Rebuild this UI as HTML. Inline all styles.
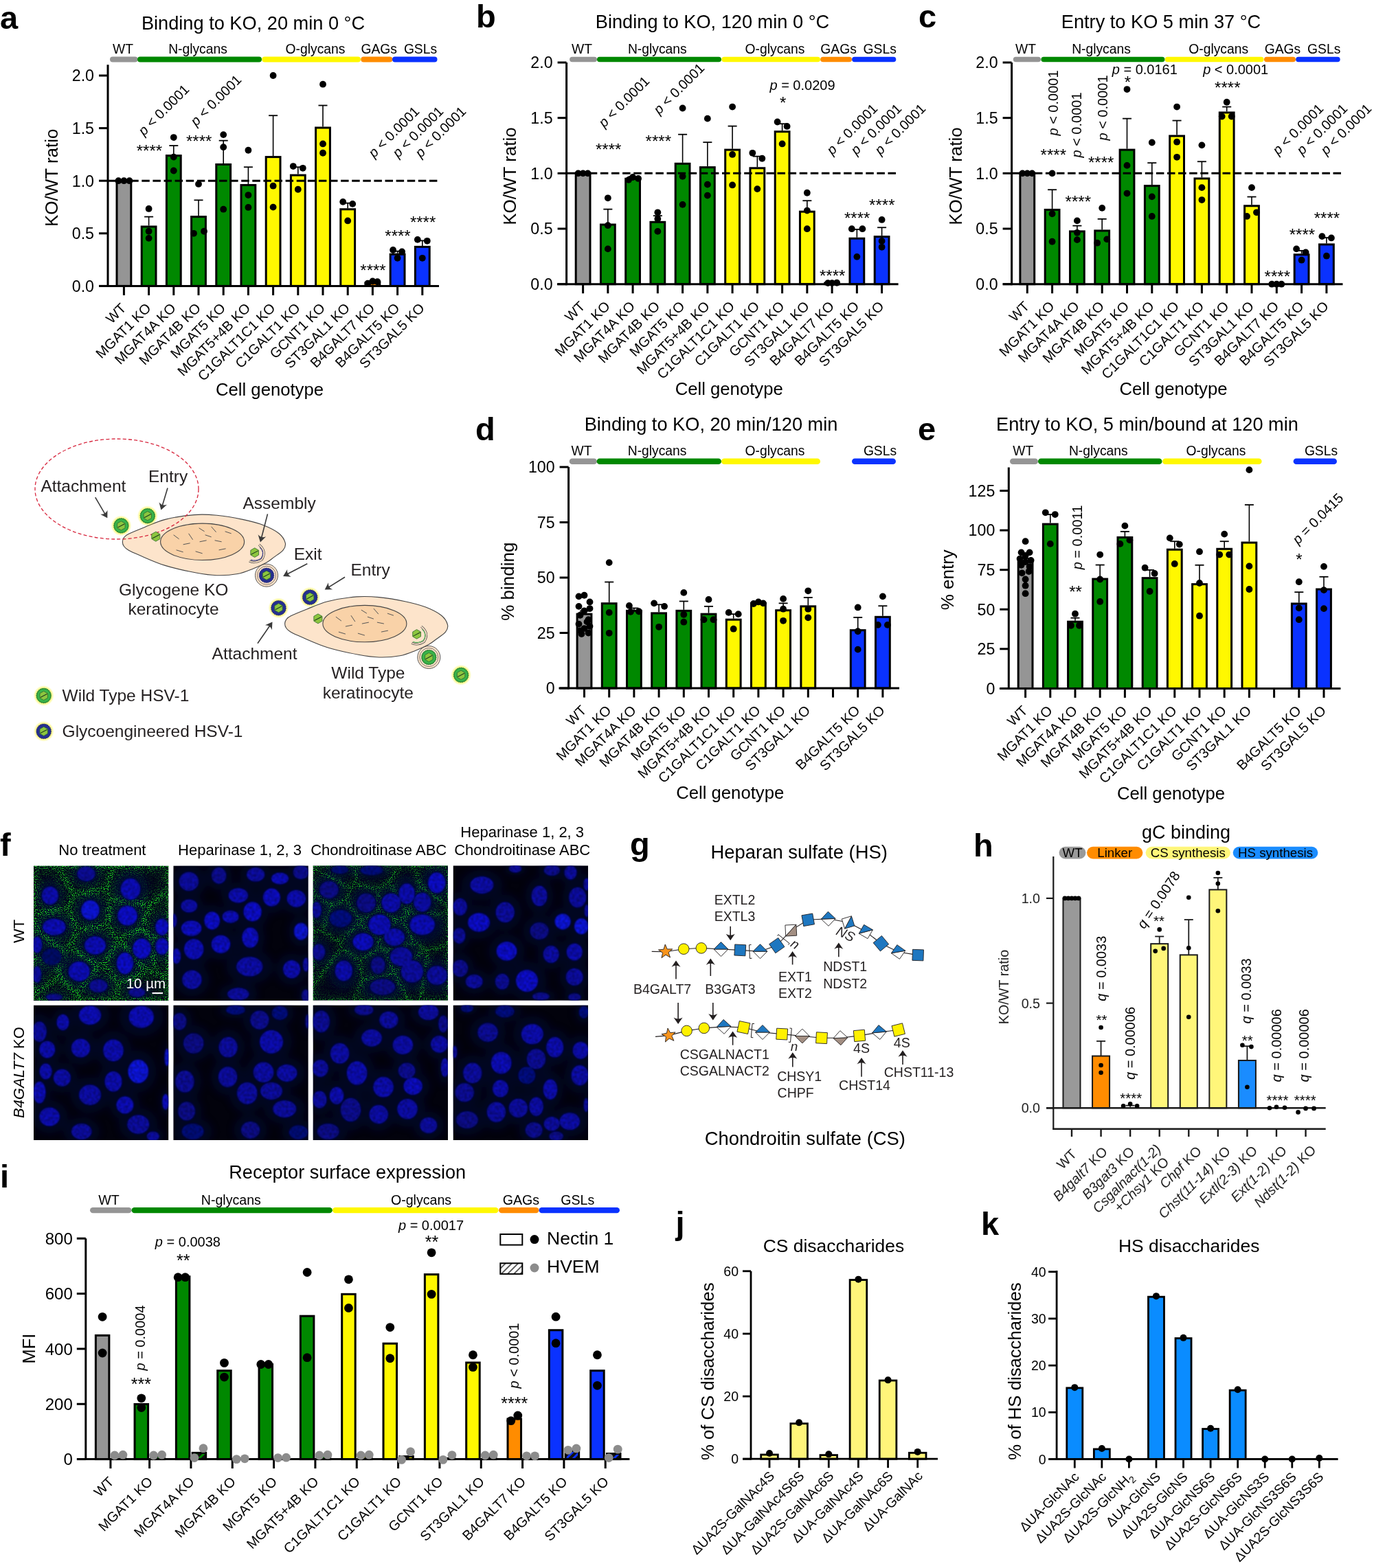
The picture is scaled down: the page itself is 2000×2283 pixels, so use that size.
<!DOCTYPE html>
<html><head><meta charset="utf-8"><title>Figure</title>
<style>html,body{margin:0;padding:0;background:#fff;} svg{display:block;} text{font-family:'Liberation Sans', Arial, sans-serif;}</style>
</head><body>
<svg width="2000" height="2283" viewBox="0 0 2000 2283" font-family="'Liberation Sans', Arial, sans-serif">
<rect width="2000" height="2283" fill="#fff"/>
<text x="0.00" y="42.00" font-size="47" font-weight="bold">a</text>
<text x="368.50" y="43.40" font-size="27.2" text-anchor="middle">Binding to KO, 20 min 0 °C</text>
<rect x="160.00" y="82.40" width="40.50" height="8.00" fill="#959595" rx="4.00"/>
<rect x="200.00" y="82.40" width="181.00" height="8.00" fill="#008800" rx="4.00"/>
<rect x="381.30" y="82.40" width="143.70" height="8.00" fill="#fff800" rx="4.00"/>
<rect x="525.30" y="82.40" width="46.00" height="8.00" fill="#ff8c00" rx="4.00"/>
<rect x="571.00" y="82.40" width="65.50" height="8.00" fill="#0a32ff" rx="4.00"/>
<text x="179.00" y="77.50" font-size="19.3" text-anchor="middle">WT</text>
<text x="288.00" y="77.50" font-size="19.3" text-anchor="middle">N-glycans</text>
<text x="459.00" y="77.50" font-size="19.3" text-anchor="middle">O-glycans</text>
<text x="551.70" y="77.50" font-size="19.3" text-anchor="middle">GAGs</text>
<text x="612.00" y="77.50" font-size="19.3" text-anchor="middle">GSLs</text>
<rect x="170.00" y="263.20" width="20.80" height="153.20" fill="#959595" stroke="#000" stroke-width="3" />
<rect x="206.20" y="330.00" width="20.80" height="86.40" fill="#008800" stroke="#000" stroke-width="3" />
<rect x="242.40" y="226.59" width="20.80" height="189.81" fill="#008800" stroke="#000" stroke-width="3" />
<rect x="278.60" y="315.59" width="20.80" height="100.81" fill="#008800" stroke="#000" stroke-width="3" />
<rect x="314.80" y="239.45" width="20.80" height="176.95" fill="#008800" stroke="#000" stroke-width="3" />
<rect x="351.00" y="269.48" width="20.80" height="146.92" fill="#008800" stroke="#000" stroke-width="3" />
<rect x="387.20" y="228.58" width="20.80" height="187.82" fill="#fff800" stroke="#000" stroke-width="3" />
<rect x="423.40" y="255.08" width="20.80" height="161.32" fill="#fff800" stroke="#000" stroke-width="3" />
<rect x="459.60" y="185.99" width="20.80" height="230.41" fill="#fff800" stroke="#000" stroke-width="3" />
<rect x="495.80" y="304.72" width="20.80" height="111.68" fill="#fff800" stroke="#000" stroke-width="3" />
<rect x="532.00" y="411.80" width="20.80" height="4.60" fill="#ff8c00" stroke="#000" stroke-width="3" />
<rect x="568.20" y="370.29" width="20.80" height="46.11" fill="#0a32ff" stroke="#000" stroke-width="3" />
<rect x="604.40" y="359.41" width="20.80" height="56.99" fill="#0a32ff" stroke="#000" stroke-width="3" />
<line x1="157.00" y1="263.20" x2="639.00" y2="263.20" stroke="#000" stroke-width="3" stroke-dasharray="11.5 4.6" stroke-dashoffset="-1"/>
<line x1="216.60" y1="328.50" x2="216.60" y2="315.59" stroke="#000" stroke-width="1.6" />
<line x1="210.10" y1="315.59" x2="223.10" y2="315.59" stroke="#000" stroke-width="1.8" />
<line x1="252.80" y1="225.09" x2="252.80" y2="212.03" stroke="#000" stroke-width="1.6" />
<line x1="246.30" y1="212.03" x2="259.30" y2="212.03" stroke="#000" stroke-width="1.8" />
<line x1="289.00" y1="314.09" x2="289.00" y2="291.39" stroke="#000" stroke-width="1.6" />
<line x1="282.50" y1="291.39" x2="295.50" y2="291.39" stroke="#000" stroke-width="1.8" />
<line x1="325.20" y1="237.95" x2="325.20" y2="204.68" stroke="#000" stroke-width="1.6" />
<line x1="318.70" y1="204.68" x2="331.70" y2="204.68" stroke="#000" stroke-width="1.8" />
<line x1="361.40" y1="267.98" x2="361.40" y2="243.28" stroke="#000" stroke-width="1.6" />
<line x1="354.90" y1="243.28" x2="367.90" y2="243.28" stroke="#000" stroke-width="1.8" />
<line x1="397.60" y1="227.08" x2="397.60" y2="168.22" stroke="#000" stroke-width="1.6" />
<line x1="391.10" y1="168.22" x2="404.10" y2="168.22" stroke="#000" stroke-width="1.8" />
<line x1="433.80" y1="253.58" x2="433.80" y2="243.28" stroke="#000" stroke-width="1.6" />
<line x1="427.30" y1="243.28" x2="440.30" y2="243.28" stroke="#000" stroke-width="1.8" />
<line x1="470.00" y1="184.49" x2="470.00" y2="153.51" stroke="#000" stroke-width="1.6" />
<line x1="463.50" y1="153.51" x2="476.50" y2="153.51" stroke="#000" stroke-width="1.8" />
<line x1="506.20" y1="303.22" x2="506.20" y2="295.68" stroke="#000" stroke-width="1.6" />
<line x1="499.70" y1="295.68" x2="512.70" y2="295.68" stroke="#000" stroke-width="1.8" />
<line x1="578.60" y1="368.79" x2="578.60" y2="365.69" stroke="#000" stroke-width="1.6" />
<line x1="572.10" y1="365.69" x2="585.10" y2="365.69" stroke="#000" stroke-width="1.8" />
<line x1="614.80" y1="357.91" x2="614.80" y2="350.37" stroke="#000" stroke-width="1.6" />
<line x1="608.30" y1="350.37" x2="621.30" y2="350.37" stroke="#000" stroke-width="1.8" />
<line x1="157.00" y1="94.30" x2="157.00" y2="417.90" stroke="#000" stroke-width="3" />
<line x1="144.00" y1="416.40" x2="639.00" y2="416.40" stroke="#000" stroke-width="3" />
<line x1="144.00" y1="416.40" x2="157.00" y2="416.40" stroke="#000" stroke-width="3" />
<text x="137.00" y="424.70" font-size="23.2" text-anchor="end">0.0</text>
<line x1="144.00" y1="339.80" x2="157.00" y2="339.80" stroke="#000" stroke-width="3" />
<text x="137.00" y="348.10" font-size="23.2" text-anchor="end">0.5</text>
<line x1="144.00" y1="263.20" x2="157.00" y2="263.20" stroke="#000" stroke-width="3" />
<text x="137.00" y="271.50" font-size="23.2" text-anchor="end">1.0</text>
<line x1="144.00" y1="186.60" x2="157.00" y2="186.60" stroke="#000" stroke-width="3" />
<text x="137.00" y="194.90" font-size="23.2" text-anchor="end">1.5</text>
<line x1="144.00" y1="110.00" x2="157.00" y2="110.00" stroke="#000" stroke-width="3" />
<text x="137.00" y="118.30" font-size="23.2" text-anchor="end">2.0</text>
<line x1="180.40" y1="416.40" x2="180.40" y2="429.90" stroke="#000" stroke-width="3" />
<line x1="216.60" y1="416.40" x2="216.60" y2="429.90" stroke="#000" stroke-width="3" />
<line x1="252.80" y1="416.40" x2="252.80" y2="429.90" stroke="#000" stroke-width="3" />
<line x1="289.00" y1="416.40" x2="289.00" y2="429.90" stroke="#000" stroke-width="3" />
<line x1="325.20" y1="416.40" x2="325.20" y2="429.90" stroke="#000" stroke-width="3" />
<line x1="361.40" y1="416.40" x2="361.40" y2="429.90" stroke="#000" stroke-width="3" />
<line x1="397.60" y1="416.40" x2="397.60" y2="429.90" stroke="#000" stroke-width="3" />
<line x1="433.80" y1="416.40" x2="433.80" y2="429.90" stroke="#000" stroke-width="3" />
<line x1="470.00" y1="416.40" x2="470.00" y2="429.90" stroke="#000" stroke-width="3" />
<line x1="506.20" y1="416.40" x2="506.20" y2="429.90" stroke="#000" stroke-width="3" />
<line x1="542.40" y1="416.40" x2="542.40" y2="429.90" stroke="#000" stroke-width="3" />
<line x1="578.60" y1="416.40" x2="578.60" y2="429.90" stroke="#000" stroke-width="3" />
<line x1="614.80" y1="416.40" x2="614.80" y2="429.90" stroke="#000" stroke-width="3" />
<circle cx="172.40" cy="263.20" r="4.90" fill="#000" />
<circle cx="180.40" cy="263.20" r="4.90" fill="#000" />
<circle cx="188.40" cy="263.20" r="4.90" fill="#000" />
<circle cx="216.60" cy="303.95" r="4.90" fill="#000" />
<circle cx="216.60" cy="336.74" r="4.90" fill="#000" />
<circle cx="216.60" cy="346.85" r="4.90" fill="#000" />
<circle cx="252.80" cy="200.08" r="4.90" fill="#000" />
<circle cx="252.80" cy="228.58" r="4.90" fill="#000" />
<circle cx="252.80" cy="248.49" r="4.90" fill="#000" />
<circle cx="289.00" cy="267.95" r="4.90" fill="#000" />
<circle cx="282.00" cy="339.80" r="4.90" fill="#000" />
<circle cx="297.00" cy="336.74" r="4.90" fill="#000" />
<circle cx="325.20" cy="196.10" r="4.90" fill="#000" />
<circle cx="325.20" cy="214.18" r="4.90" fill="#000" />
<circle cx="325.20" cy="304.72" r="4.90" fill="#000" />
<circle cx="361.40" cy="218.77" r="4.90" fill="#000" />
<circle cx="361.40" cy="284.04" r="4.90" fill="#000" />
<circle cx="361.40" cy="301.96" r="4.90" fill="#000" />
<circle cx="397.60" cy="110.00" r="4.90" fill="#000" />
<circle cx="397.60" cy="270.71" r="4.90" fill="#000" />
<circle cx="397.60" cy="301.65" r="4.90" fill="#000" />
<circle cx="426.80" cy="242.06" r="4.90" fill="#000" />
<circle cx="440.80" cy="244.82" r="4.90" fill="#000" />
<circle cx="433.80" cy="275.76" r="4.90" fill="#000" />
<circle cx="470.00" cy="122.72" r="4.90" fill="#000" />
<circle cx="470.00" cy="209.43" r="4.90" fill="#000" />
<circle cx="470.00" cy="222.76" r="4.90" fill="#000" />
<circle cx="499.20" cy="293.84" r="4.90" fill="#000" />
<circle cx="513.20" cy="296.90" r="4.90" fill="#000" />
<circle cx="506.20" cy="321.42" r="4.90" fill="#000" />
<circle cx="535.40" cy="412.57" r="4.90" fill="#000" />
<circle cx="542.40" cy="409.51" r="4.90" fill="#000" />
<circle cx="549.40" cy="410.27" r="4.90" fill="#000" />
<circle cx="572.10" cy="364.01" r="4.90" fill="#000" />
<circle cx="585.10" cy="366.46" r="4.90" fill="#000" />
<circle cx="578.60" cy="375.80" r="4.90" fill="#000" />
<circle cx="607.80" cy="348.84" r="4.90" fill="#000" />
<circle cx="621.80" cy="350.83" r="4.90" fill="#000" />
<circle cx="614.80" cy="375.80" r="4.90" fill="#000" />
<text x="184.70" y="449.90" font-size="20.3" text-anchor="end" transform="rotate(-45 184.70 449.90)">WT</text>
<text x="220.90" y="449.90" font-size="20.3" text-anchor="end" transform="rotate(-45 220.90 449.90)">MGAT1 KO</text>
<text x="257.10" y="449.90" font-size="20.3" text-anchor="end" transform="rotate(-45 257.10 449.90)">MGAT4A KO</text>
<text x="293.30" y="449.90" font-size="20.3" text-anchor="end" transform="rotate(-45 293.30 449.90)">MGAT4B KO</text>
<text x="329.50" y="449.90" font-size="20.3" text-anchor="end" transform="rotate(-45 329.50 449.90)">MGAT5 KO</text>
<text x="365.70" y="449.90" font-size="20.3" text-anchor="end" transform="rotate(-45 365.70 449.90)">MGAT5+4B KO</text>
<text x="401.90" y="449.90" font-size="20.3" text-anchor="end" transform="rotate(-45 401.90 449.90)">C1GALT1C1 KO</text>
<text x="438.10" y="449.90" font-size="20.3" text-anchor="end" transform="rotate(-45 438.10 449.90)">C1GALT1 KO</text>
<text x="474.30" y="449.90" font-size="20.3" text-anchor="end" transform="rotate(-45 474.30 449.90)">GCNT1 KO</text>
<text x="510.50" y="449.90" font-size="20.3" text-anchor="end" transform="rotate(-45 510.50 449.90)">ST3GAL1 KO</text>
<text x="546.70" y="449.90" font-size="20.3" text-anchor="end" transform="rotate(-45 546.70 449.90)">B4GALT7 KO</text>
<text x="582.90" y="449.90" font-size="20.3" text-anchor="end" transform="rotate(-45 582.90 449.90)">B4GALT5 KO</text>
<text x="619.10" y="449.90" font-size="20.3" text-anchor="end" transform="rotate(-45 619.10 449.90)">ST3GAL5 KO</text>
<text x="84.00" y="258.80" font-size="26" text-anchor="middle" transform="rotate(-90 84.00 258.80)">KO/WT ratio</text>
<text x="392.50" y="575.50" font-size="25.7" text-anchor="middle">Cell genotype</text>
<text x="693.00" y="40.00" font-size="47" font-weight="bold">b</text>
<text x="1037.00" y="40.60" font-size="27.2" text-anchor="middle">Binding to KO, 120 min 0 °C</text>
<rect x="829.10" y="82.70" width="39.90" height="7.60" fill="#959595" rx="3.80"/>
<rect x="869.00" y="82.70" width="181.00" height="7.60" fill="#008800" rx="3.80"/>
<rect x="1050.40" y="82.70" width="143.60" height="7.60" fill="#fff800" rx="3.80"/>
<rect x="1194.20" y="82.70" width="45.80" height="7.60" fill="#ff8c00" rx="3.80"/>
<rect x="1240.10" y="82.70" width="64.20" height="7.60" fill="#0a32ff" rx="3.80"/>
<text x="847.00" y="77.80" font-size="19.3" text-anchor="middle">WT</text>
<text x="956.80" y="77.80" font-size="19.3" text-anchor="middle">N-glycans</text>
<text x="1128.00" y="77.80" font-size="19.3" text-anchor="middle">O-glycans</text>
<text x="1220.60" y="77.80" font-size="19.3" text-anchor="middle">GAGs</text>
<text x="1280.70" y="77.80" font-size="19.3" text-anchor="middle">GSLs</text>
<rect x="838.20" y="252.35" width="20.80" height="161.35" fill="#959595" stroke="#000" stroke-width="3" />
<rect x="874.45" y="327.06" width="20.80" height="86.64" fill="#008800" stroke="#000" stroke-width="3" />
<rect x="910.70" y="260.26" width="20.80" height="153.44" fill="#008800" stroke="#000" stroke-width="3" />
<rect x="946.95" y="323.34" width="20.80" height="90.36" fill="#008800" stroke="#000" stroke-width="3" />
<rect x="983.20" y="238.31" width="20.80" height="175.39" fill="#008800" stroke="#000" stroke-width="3" />
<rect x="1019.45" y="243.64" width="20.80" height="170.06" fill="#008800" stroke="#000" stroke-width="3" />
<rect x="1055.70" y="218.14" width="20.80" height="195.56" fill="#fff800" stroke="#000" stroke-width="3" />
<rect x="1091.95" y="244.77" width="20.80" height="168.93" fill="#fff800" stroke="#000" stroke-width="3" />
<rect x="1128.20" y="191.68" width="20.80" height="222.02" fill="#fff800" stroke="#000" stroke-width="3" />
<rect x="1164.45" y="308.18" width="20.80" height="105.52" fill="#fff800" stroke="#000" stroke-width="3" />
<rect x="1200.70" y="412.09" width="20.80" height="1.61" fill="#ff8c00" stroke="#000" stroke-width="3" />
<rect x="1236.95" y="347.22" width="20.80" height="66.48" fill="#0a32ff" stroke="#000" stroke-width="3" />
<rect x="1273.20" y="344.64" width="20.80" height="69.06" fill="#0a32ff" stroke="#000" stroke-width="3" />
<line x1="824.60" y1="252.35" x2="1307.60" y2="252.35" stroke="#000" stroke-width="3" stroke-dasharray="11.5 4.6" stroke-dashoffset="-1"/>
<line x1="884.85" y1="325.56" x2="884.85" y2="304.63" stroke="#000" stroke-width="1.6" />
<line x1="878.35" y1="304.63" x2="891.35" y2="304.63" stroke="#000" stroke-width="1.8" />
<line x1="921.10" y1="258.76" x2="921.10" y2="257.19" stroke="#000" stroke-width="1.6" />
<line x1="914.60" y1="257.19" x2="927.60" y2="257.19" stroke="#000" stroke-width="1.8" />
<line x1="957.35" y1="321.84" x2="957.35" y2="314.15" stroke="#000" stroke-width="1.6" />
<line x1="950.85" y1="314.15" x2="963.85" y2="314.15" stroke="#000" stroke-width="1.8" />
<line x1="993.60" y1="236.81" x2="993.60" y2="195.72" stroke="#000" stroke-width="1.6" />
<line x1="987.10" y1="195.72" x2="1000.10" y2="195.72" stroke="#000" stroke-width="1.8" />
<line x1="1029.85" y1="242.14" x2="1029.85" y2="207.17" stroke="#000" stroke-width="1.6" />
<line x1="1023.35" y1="207.17" x2="1036.35" y2="207.17" stroke="#000" stroke-width="1.8" />
<line x1="1066.10" y1="216.64" x2="1066.10" y2="183.61" stroke="#000" stroke-width="1.6" />
<line x1="1059.60" y1="183.61" x2="1072.60" y2="183.61" stroke="#000" stroke-width="1.8" />
<line x1="1102.35" y1="243.27" x2="1102.35" y2="227.66" stroke="#000" stroke-width="1.6" />
<line x1="1095.85" y1="227.66" x2="1108.85" y2="227.66" stroke="#000" stroke-width="1.8" />
<line x1="1138.60" y1="190.18" x2="1138.60" y2="180.23" stroke="#000" stroke-width="1.6" />
<line x1="1132.10" y1="180.23" x2="1145.10" y2="180.23" stroke="#000" stroke-width="1.8" />
<line x1="1174.85" y1="306.68" x2="1174.85" y2="292.20" stroke="#000" stroke-width="1.6" />
<line x1="1168.35" y1="292.20" x2="1181.35" y2="292.20" stroke="#000" stroke-width="1.8" />
<line x1="1247.35" y1="345.72" x2="1247.35" y2="333.99" stroke="#000" stroke-width="1.6" />
<line x1="1240.85" y1="333.99" x2="1253.85" y2="333.99" stroke="#000" stroke-width="1.8" />
<line x1="1283.60" y1="343.14" x2="1283.60" y2="331.25" stroke="#000" stroke-width="1.6" />
<line x1="1277.10" y1="331.25" x2="1290.10" y2="331.25" stroke="#000" stroke-width="1.8" />
<line x1="824.60" y1="91.00" x2="824.60" y2="415.20" stroke="#000" stroke-width="3" />
<line x1="811.00" y1="413.70" x2="1307.60" y2="413.70" stroke="#000" stroke-width="3" />
<line x1="811.60" y1="413.70" x2="824.60" y2="413.70" stroke="#000" stroke-width="3" />
<text x="804.60" y="422.00" font-size="23.2" text-anchor="end">0.0</text>
<line x1="811.60" y1="333.02" x2="824.60" y2="333.02" stroke="#000" stroke-width="3" />
<text x="804.60" y="341.32" font-size="23.2" text-anchor="end">0.5</text>
<line x1="811.60" y1="252.35" x2="824.60" y2="252.35" stroke="#000" stroke-width="3" />
<text x="804.60" y="260.65" font-size="23.2" text-anchor="end">1.0</text>
<line x1="811.60" y1="171.68" x2="824.60" y2="171.68" stroke="#000" stroke-width="3" />
<text x="804.60" y="179.98" font-size="23.2" text-anchor="end">1.5</text>
<line x1="811.60" y1="91.00" x2="824.60" y2="91.00" stroke="#000" stroke-width="3" />
<text x="804.60" y="99.30" font-size="23.2" text-anchor="end">2.0</text>
<line x1="848.60" y1="413.70" x2="848.60" y2="427.20" stroke="#000" stroke-width="3" />
<line x1="884.85" y1="413.70" x2="884.85" y2="427.20" stroke="#000" stroke-width="3" />
<line x1="921.10" y1="413.70" x2="921.10" y2="427.20" stroke="#000" stroke-width="3" />
<line x1="957.35" y1="413.70" x2="957.35" y2="427.20" stroke="#000" stroke-width="3" />
<line x1="993.60" y1="413.70" x2="993.60" y2="427.20" stroke="#000" stroke-width="3" />
<line x1="1029.85" y1="413.70" x2="1029.85" y2="427.20" stroke="#000" stroke-width="3" />
<line x1="1066.10" y1="413.70" x2="1066.10" y2="427.20" stroke="#000" stroke-width="3" />
<line x1="1102.35" y1="413.70" x2="1102.35" y2="427.20" stroke="#000" stroke-width="3" />
<line x1="1138.60" y1="413.70" x2="1138.60" y2="427.20" stroke="#000" stroke-width="3" />
<line x1="1174.85" y1="413.70" x2="1174.85" y2="427.20" stroke="#000" stroke-width="3" />
<line x1="1211.10" y1="413.70" x2="1211.10" y2="427.20" stroke="#000" stroke-width="3" />
<line x1="1247.35" y1="413.70" x2="1247.35" y2="427.20" stroke="#000" stroke-width="3" />
<line x1="1283.60" y1="413.70" x2="1283.60" y2="427.20" stroke="#000" stroke-width="3" />
<circle cx="841.60" cy="252.35" r="4.90" fill="#000" />
<circle cx="848.60" cy="252.35" r="4.90" fill="#000" />
<circle cx="855.60" cy="252.35" r="4.90" fill="#000" />
<circle cx="884.85" cy="288.33" r="4.90" fill="#000" />
<circle cx="884.85" cy="328.18" r="4.90" fill="#000" />
<circle cx="884.85" cy="362.39" r="4.90" fill="#000" />
<circle cx="921.10" cy="258.00" r="4.90" fill="#000" />
<circle cx="915.10" cy="261.87" r="4.90" fill="#000" />
<circle cx="929.10" cy="259.93" r="4.90" fill="#000" />
<circle cx="957.35" cy="309.31" r="4.90" fill="#000" />
<circle cx="957.35" cy="318.83" r="4.90" fill="#000" />
<circle cx="957.35" cy="336.90" r="4.90" fill="#000" />
<circle cx="993.60" cy="157.48" r="4.90" fill="#000" />
<circle cx="993.60" cy="256.87" r="4.90" fill="#000" />
<circle cx="993.60" cy="297.85" r="4.90" fill="#000" />
<circle cx="1029.85" cy="172.64" r="4.90" fill="#000" />
<circle cx="1029.85" cy="268.65" r="4.90" fill="#000" />
<circle cx="1029.85" cy="284.62" r="4.90" fill="#000" />
<circle cx="1066.10" cy="155.54" r="4.90" fill="#000" />
<circle cx="1066.10" cy="224.92" r="4.90" fill="#000" />
<circle cx="1066.10" cy="269.45" r="4.90" fill="#000" />
<circle cx="1095.35" cy="222.82" r="4.90" fill="#000" />
<circle cx="1109.35" cy="230.73" r="4.90" fill="#000" />
<circle cx="1102.35" cy="275.10" r="4.90" fill="#000" />
<circle cx="1131.60" cy="177.48" r="4.90" fill="#000" />
<circle cx="1145.60" cy="183.94" r="4.90" fill="#000" />
<circle cx="1138.60" cy="209.43" r="4.90" fill="#000" />
<circle cx="1174.85" cy="280.75" r="4.90" fill="#000" />
<circle cx="1174.85" cy="306.56" r="4.90" fill="#000" />
<circle cx="1174.85" cy="333.19" r="4.90" fill="#000" />
<circle cx="1205.10" cy="412.09" r="4.90" fill="#000" />
<circle cx="1211.10" cy="412.09" r="4.90" fill="#000" />
<circle cx="1218.10" cy="411.76" r="4.90" fill="#000" />
<circle cx="1239.85" cy="333.19" r="4.90" fill="#000" />
<circle cx="1255.35" cy="333.19" r="4.90" fill="#000" />
<circle cx="1247.35" cy="373.85" r="4.90" fill="#000" />
<circle cx="1283.60" cy="319.96" r="4.90" fill="#000" />
<circle cx="1283.60" cy="350.93" r="4.90" fill="#000" />
<circle cx="1283.60" cy="359.81" r="4.90" fill="#000" />
<text x="852.90" y="447.20" font-size="20.3" text-anchor="end" transform="rotate(-45 852.90 447.20)">WT</text>
<text x="889.15" y="447.20" font-size="20.3" text-anchor="end" transform="rotate(-45 889.15 447.20)">MGAT1 KO</text>
<text x="925.40" y="447.20" font-size="20.3" text-anchor="end" transform="rotate(-45 925.40 447.20)">MGAT4A KO</text>
<text x="961.65" y="447.20" font-size="20.3" text-anchor="end" transform="rotate(-45 961.65 447.20)">MGAT4B KO</text>
<text x="997.90" y="447.20" font-size="20.3" text-anchor="end" transform="rotate(-45 997.90 447.20)">MGAT5 KO</text>
<text x="1034.15" y="447.20" font-size="20.3" text-anchor="end" transform="rotate(-45 1034.15 447.20)">MGAT5+4B KO</text>
<text x="1070.40" y="447.20" font-size="20.3" text-anchor="end" transform="rotate(-45 1070.40 447.20)">C1GALT1C1 KO</text>
<text x="1106.65" y="447.20" font-size="20.3" text-anchor="end" transform="rotate(-45 1106.65 447.20)">C1GALT1 KO</text>
<text x="1142.90" y="447.20" font-size="20.3" text-anchor="end" transform="rotate(-45 1142.90 447.20)">GCNT1 KO</text>
<text x="1179.15" y="447.20" font-size="20.3" text-anchor="end" transform="rotate(-45 1179.15 447.20)">ST3GAL1 KO</text>
<text x="1215.40" y="447.20" font-size="20.3" text-anchor="end" transform="rotate(-45 1215.40 447.20)">B4GALT7 KO</text>
<text x="1251.65" y="447.20" font-size="20.3" text-anchor="end" transform="rotate(-45 1251.65 447.20)">B4GALT5 KO</text>
<text x="1287.90" y="447.20" font-size="20.3" text-anchor="end" transform="rotate(-45 1287.90 447.20)">ST3GAL5 KO</text>
<text x="750.60" y="256.50" font-size="26" text-anchor="middle" transform="rotate(-90 750.60 256.50)">KO/WT ratio</text>
<text x="1061.20" y="575.00" font-size="25.7" text-anchor="middle">Cell genotype</text>
<text x="1337.00" y="40.00" font-size="47" font-weight="bold">c</text>
<text x="1690.00" y="40.60" font-size="27.2" text-anchor="middle">Entry to KO 5 min 37 °C</text>
<rect x="1474.80" y="82.70" width="40.20" height="7.60" fill="#959595" rx="3.80"/>
<rect x="1515.40" y="82.70" width="180.10" height="7.60" fill="#008800" rx="3.80"/>
<rect x="1695.70" y="82.70" width="143.90" height="7.60" fill="#fff800" rx="3.80"/>
<rect x="1840.00" y="82.70" width="46.00" height="7.60" fill="#ff8c00" rx="3.80"/>
<rect x="1886.20" y="82.70" width="64.50" height="7.60" fill="#0a32ff" rx="3.80"/>
<text x="1493.00" y="77.80" font-size="19.3" text-anchor="middle">WT</text>
<text x="1603.00" y="77.80" font-size="19.3" text-anchor="middle">N-glycans</text>
<text x="1773.70" y="77.80" font-size="19.3" text-anchor="middle">O-glycans</text>
<text x="1867.00" y="77.80" font-size="19.3" text-anchor="middle">GAGs</text>
<text x="1927.20" y="77.80" font-size="19.3" text-anchor="middle">GSLs</text>
<rect x="1484.90" y="252.35" width="20.80" height="161.35" fill="#959595" stroke="#000" stroke-width="3" />
<rect x="1521.20" y="305.43" width="20.80" height="108.27" fill="#008800" stroke="#000" stroke-width="3" />
<rect x="1557.50" y="336.90" width="20.80" height="76.80" fill="#008800" stroke="#000" stroke-width="3" />
<rect x="1593.80" y="335.93" width="20.80" height="77.77" fill="#008800" stroke="#000" stroke-width="3" />
<rect x="1630.10" y="218.14" width="20.80" height="195.56" fill="#008800" stroke="#000" stroke-width="3" />
<rect x="1666.40" y="270.58" width="20.80" height="143.12" fill="#008800" stroke="#000" stroke-width="3" />
<rect x="1702.70" y="197.98" width="20.80" height="215.72" fill="#fff800" stroke="#000" stroke-width="3" />
<rect x="1739.00" y="259.93" width="20.80" height="153.77" fill="#fff800" stroke="#000" stroke-width="3" />
<rect x="1775.30" y="163.93" width="20.80" height="249.77" fill="#fff800" stroke="#000" stroke-width="3" />
<rect x="1811.60" y="299.79" width="20.80" height="113.91" fill="#fff800" stroke="#000" stroke-width="3" />
<rect x="1884.20" y="370.78" width="20.80" height="42.92" fill="#0a32ff" stroke="#000" stroke-width="3" />
<rect x="1920.50" y="355.94" width="20.80" height="57.76" fill="#0a32ff" stroke="#000" stroke-width="3" />
<line x1="1472.60" y1="252.35" x2="1954.50" y2="252.35" stroke="#000" stroke-width="3" stroke-dasharray="11.5 4.6" stroke-dashoffset="-1"/>
<line x1="1531.60" y1="303.93" x2="1531.60" y2="276.23" stroke="#000" stroke-width="1.6" />
<line x1="1525.10" y1="276.23" x2="1538.10" y2="276.23" stroke="#000" stroke-width="1.8" />
<line x1="1567.90" y1="335.40" x2="1567.90" y2="328.67" stroke="#000" stroke-width="1.6" />
<line x1="1561.40" y1="328.67" x2="1574.40" y2="328.67" stroke="#000" stroke-width="1.8" />
<line x1="1604.20" y1="334.43" x2="1604.20" y2="318.83" stroke="#000" stroke-width="1.6" />
<line x1="1597.70" y1="318.83" x2="1610.70" y2="318.83" stroke="#000" stroke-width="1.8" />
<line x1="1640.50" y1="216.64" x2="1640.50" y2="172.64" stroke="#000" stroke-width="1.6" />
<line x1="1634.00" y1="172.64" x2="1647.00" y2="172.64" stroke="#000" stroke-width="1.8" />
<line x1="1676.80" y1="269.08" x2="1676.80" y2="237.18" stroke="#000" stroke-width="1.6" />
<line x1="1670.30" y1="237.18" x2="1683.30" y2="237.18" stroke="#000" stroke-width="1.8" />
<line x1="1713.10" y1="196.48" x2="1713.10" y2="175.55" stroke="#000" stroke-width="1.6" />
<line x1="1706.60" y1="175.55" x2="1719.60" y2="175.55" stroke="#000" stroke-width="1.8" />
<line x1="1749.40" y1="258.43" x2="1749.40" y2="235.25" stroke="#000" stroke-width="1.6" />
<line x1="1742.90" y1="235.25" x2="1755.90" y2="235.25" stroke="#000" stroke-width="1.8" />
<line x1="1785.70" y1="162.43" x2="1785.70" y2="155.54" stroke="#000" stroke-width="1.6" />
<line x1="1779.20" y1="155.54" x2="1792.20" y2="155.54" stroke="#000" stroke-width="1.8" />
<line x1="1822.00" y1="298.29" x2="1822.00" y2="286.56" stroke="#000" stroke-width="1.6" />
<line x1="1815.50" y1="286.56" x2="1828.50" y2="286.56" stroke="#000" stroke-width="1.8" />
<line x1="1894.60" y1="369.28" x2="1894.60" y2="364.97" stroke="#000" stroke-width="1.6" />
<line x1="1888.10" y1="364.97" x2="1901.10" y2="364.97" stroke="#000" stroke-width="1.8" />
<line x1="1930.90" y1="354.44" x2="1930.90" y2="346.09" stroke="#000" stroke-width="1.6" />
<line x1="1924.40" y1="346.09" x2="1937.40" y2="346.09" stroke="#000" stroke-width="1.8" />
<line x1="1472.60" y1="91.00" x2="1472.60" y2="415.20" stroke="#000" stroke-width="3" />
<line x1="1459.70" y1="413.70" x2="1954.50" y2="413.70" stroke="#000" stroke-width="3" />
<line x1="1459.60" y1="413.70" x2="1472.60" y2="413.70" stroke="#000" stroke-width="3" />
<text x="1452.60" y="422.00" font-size="23.2" text-anchor="end">0.0</text>
<line x1="1459.60" y1="333.02" x2="1472.60" y2="333.02" stroke="#000" stroke-width="3" />
<text x="1452.60" y="341.32" font-size="23.2" text-anchor="end">0.5</text>
<line x1="1459.60" y1="252.35" x2="1472.60" y2="252.35" stroke="#000" stroke-width="3" />
<text x="1452.60" y="260.65" font-size="23.2" text-anchor="end">1.0</text>
<line x1="1459.60" y1="171.68" x2="1472.60" y2="171.68" stroke="#000" stroke-width="3" />
<text x="1452.60" y="179.98" font-size="23.2" text-anchor="end">1.5</text>
<line x1="1459.60" y1="91.00" x2="1472.60" y2="91.00" stroke="#000" stroke-width="3" />
<text x="1452.60" y="99.30" font-size="23.2" text-anchor="end">2.0</text>
<line x1="1495.30" y1="413.70" x2="1495.30" y2="427.20" stroke="#000" stroke-width="3" />
<line x1="1531.60" y1="413.70" x2="1531.60" y2="427.20" stroke="#000" stroke-width="3" />
<line x1="1567.90" y1="413.70" x2="1567.90" y2="427.20" stroke="#000" stroke-width="3" />
<line x1="1604.20" y1="413.70" x2="1604.20" y2="427.20" stroke="#000" stroke-width="3" />
<line x1="1640.50" y1="413.70" x2="1640.50" y2="427.20" stroke="#000" stroke-width="3" />
<line x1="1676.80" y1="413.70" x2="1676.80" y2="427.20" stroke="#000" stroke-width="3" />
<line x1="1713.10" y1="413.70" x2="1713.10" y2="427.20" stroke="#000" stroke-width="3" />
<line x1="1749.40" y1="413.70" x2="1749.40" y2="427.20" stroke="#000" stroke-width="3" />
<line x1="1785.70" y1="413.70" x2="1785.70" y2="427.20" stroke="#000" stroke-width="3" />
<line x1="1822.00" y1="413.70" x2="1822.00" y2="427.20" stroke="#000" stroke-width="3" />
<line x1="1858.30" y1="413.70" x2="1858.30" y2="427.20" stroke="#000" stroke-width="3" />
<line x1="1894.60" y1="413.70" x2="1894.60" y2="427.20" stroke="#000" stroke-width="3" />
<line x1="1930.90" y1="413.70" x2="1930.90" y2="427.20" stroke="#000" stroke-width="3" />
<circle cx="1488.30" cy="252.35" r="4.90" fill="#000" />
<circle cx="1495.30" cy="252.35" r="4.90" fill="#000" />
<circle cx="1502.30" cy="252.35" r="4.90" fill="#000" />
<circle cx="1531.60" cy="252.35" r="4.90" fill="#000" />
<circle cx="1531.60" cy="311.24" r="4.90" fill="#000" />
<circle cx="1531.60" cy="351.74" r="4.90" fill="#000" />
<circle cx="1567.90" cy="321.41" r="4.90" fill="#000" />
<circle cx="1567.90" cy="338.83" r="4.90" fill="#000" />
<circle cx="1567.90" cy="349.16" r="4.90" fill="#000" />
<circle cx="1604.20" cy="302.85" r="4.90" fill="#000" />
<circle cx="1611.20" cy="348.35" r="4.90" fill="#000" />
<circle cx="1597.20" cy="353.68" r="4.90" fill="#000" />
<circle cx="1640.50" cy="130.05" r="4.90" fill="#000" />
<circle cx="1640.50" cy="240.89" r="4.90" fill="#000" />
<circle cx="1640.50" cy="281.55" r="4.90" fill="#000" />
<circle cx="1676.80" cy="207.49" r="4.90" fill="#000" />
<circle cx="1676.80" cy="286.39" r="4.90" fill="#000" />
<circle cx="1676.80" cy="314.95" r="4.90" fill="#000" />
<circle cx="1713.10" cy="155.54" r="4.90" fill="#000" />
<circle cx="1713.10" cy="206.69" r="4.90" fill="#000" />
<circle cx="1713.10" cy="228.79" r="4.90" fill="#000" />
<circle cx="1749.40" cy="211.37" r="4.90" fill="#000" />
<circle cx="1749.40" cy="273.16" r="4.90" fill="#000" />
<circle cx="1749.40" cy="291.07" r="4.90" fill="#000" />
<circle cx="1785.70" cy="148.76" r="4.90" fill="#000" />
<circle cx="1778.70" cy="169.58" r="4.90" fill="#000" />
<circle cx="1792.70" cy="169.58" r="4.90" fill="#000" />
<circle cx="1822.00" cy="273.16" r="4.90" fill="#000" />
<circle cx="1829.00" cy="309.31" r="4.90" fill="#000" />
<circle cx="1815.00" cy="314.95" r="4.90" fill="#000" />
<circle cx="1851.30" cy="413.70" r="4.90" fill="#000" />
<circle cx="1858.30" cy="413.70" r="4.90" fill="#000" />
<circle cx="1865.30" cy="413.70" r="4.90" fill="#000" />
<circle cx="1887.10" cy="362.39" r="4.90" fill="#000" />
<circle cx="1900.60" cy="367.39" r="4.90" fill="#000" />
<circle cx="1894.60" cy="378.69" r="4.90" fill="#000" />
<circle cx="1924.40" cy="344.16" r="4.90" fill="#000" />
<circle cx="1937.90" cy="346.42" r="4.90" fill="#000" />
<circle cx="1930.90" cy="372.72" r="4.90" fill="#000" />
<text x="1499.60" y="447.20" font-size="20.3" text-anchor="end" transform="rotate(-45 1499.60 447.20)">WT</text>
<text x="1535.90" y="447.20" font-size="20.3" text-anchor="end" transform="rotate(-45 1535.90 447.20)">MGAT1 KO</text>
<text x="1572.20" y="447.20" font-size="20.3" text-anchor="end" transform="rotate(-45 1572.20 447.20)">MGAT4A KO</text>
<text x="1608.50" y="447.20" font-size="20.3" text-anchor="end" transform="rotate(-45 1608.50 447.20)">MGAT4B KO</text>
<text x="1644.80" y="447.20" font-size="20.3" text-anchor="end" transform="rotate(-45 1644.80 447.20)">MGAT5 KO</text>
<text x="1681.10" y="447.20" font-size="20.3" text-anchor="end" transform="rotate(-45 1681.10 447.20)">MGAT5+4B KO</text>
<text x="1717.40" y="447.20" font-size="20.3" text-anchor="end" transform="rotate(-45 1717.40 447.20)">C1GALT1C1 KO</text>
<text x="1753.70" y="447.20" font-size="20.3" text-anchor="end" transform="rotate(-45 1753.70 447.20)">C1GALT1 KO</text>
<text x="1790.00" y="447.20" font-size="20.3" text-anchor="end" transform="rotate(-45 1790.00 447.20)">GCNT1 KO</text>
<text x="1826.30" y="447.20" font-size="20.3" text-anchor="end" transform="rotate(-45 1826.30 447.20)">ST3GAL1 KO</text>
<text x="1862.60" y="447.20" font-size="20.3" text-anchor="end" transform="rotate(-45 1862.60 447.20)">B4GALT7 KO</text>
<text x="1898.90" y="447.20" font-size="20.3" text-anchor="end" transform="rotate(-45 1898.90 447.20)">B4GALT5 KO</text>
<text x="1935.20" y="447.20" font-size="20.3" text-anchor="end" transform="rotate(-45 1935.20 447.20)">ST3GAL5 KO</text>
<text x="1399.70" y="256.50" font-size="26" text-anchor="middle" transform="rotate(-90 1399.70 256.50)">KO/WT ratio</text>
<text x="1708.00" y="575.00" font-size="25.7" text-anchor="middle">Cell genotype</text>
<text x="692.00" y="641.00" font-size="47" font-weight="bold">d</text>
<text x="1035.00" y="627.40" font-size="27.2" text-anchor="middle">Binding to KO, 20 min/120 min</text>
<rect x="828.70" y="667.40" width="40.30" height="8.60" fill="#959595" rx="4.30"/>
<rect x="868.60" y="667.40" width="181.40" height="8.60" fill="#008800" rx="4.30"/>
<rect x="1050.00" y="667.40" width="144.00" height="8.60" fill="#fff800" rx="4.30"/>
<rect x="1240.00" y="667.40" width="64.00" height="8.60" fill="#0a32ff" rx="4.30"/>
<text x="846.50" y="662.50" font-size="19.3" text-anchor="middle">WT</text>
<text x="956.60" y="662.50" font-size="19.3" text-anchor="middle">N-glycans</text>
<text x="1128.00" y="662.50" font-size="19.3" text-anchor="middle">O-glycans</text>
<text x="1281.00" y="662.50" font-size="19.3" text-anchor="middle">GSLs</text>
<rect x="840.10" y="894.13" width="20.80" height="107.87" fill="#959595" stroke="#000" stroke-width="3" />
<rect x="876.30" y="878.67" width="20.80" height="123.33" fill="#008800" stroke="#000" stroke-width="3" />
<rect x="912.50" y="889.30" width="20.80" height="112.70" fill="#008800" stroke="#000" stroke-width="3" />
<rect x="948.70" y="892.84" width="20.80" height="109.16" fill="#008800" stroke="#000" stroke-width="3" />
<rect x="984.90" y="889.30" width="20.80" height="112.70" fill="#008800" stroke="#000" stroke-width="3" />
<rect x="1021.10" y="894.13" width="20.80" height="107.87" fill="#008800" stroke="#000" stroke-width="3" />
<rect x="1057.30" y="902.18" width="20.80" height="99.82" fill="#fff800" stroke="#000" stroke-width="3" />
<rect x="1093.50" y="878.35" width="20.80" height="123.65" fill="#fff800" stroke="#000" stroke-width="3" />
<rect x="1129.70" y="888.66" width="20.80" height="113.34" fill="#fff800" stroke="#000" stroke-width="3" />
<rect x="1165.90" y="882.86" width="20.80" height="119.14" fill="#fff800" stroke="#000" stroke-width="3" />
<rect x="1238.30" y="917.64" width="20.80" height="84.36" fill="#0a32ff" stroke="#000" stroke-width="3" />
<rect x="1274.50" y="898.32" width="20.80" height="103.68" fill="#0a32ff" stroke="#000" stroke-width="3" />
<line x1="850.50" y1="892.63" x2="850.50" y2="889.62" stroke="#000" stroke-width="1.6" />
<line x1="844.00" y1="889.62" x2="857.00" y2="889.62" stroke="#000" stroke-width="1.8" />
<line x1="886.70" y1="877.17" x2="886.70" y2="847.44" stroke="#000" stroke-width="1.6" />
<line x1="880.20" y1="847.44" x2="893.20" y2="847.44" stroke="#000" stroke-width="1.8" />
<line x1="922.90" y1="887.80" x2="922.90" y2="885.44" stroke="#000" stroke-width="1.6" />
<line x1="916.40" y1="885.44" x2="929.40" y2="885.44" stroke="#000" stroke-width="1.8" />
<line x1="959.10" y1="891.34" x2="959.10" y2="880.28" stroke="#000" stroke-width="1.6" />
<line x1="952.60" y1="880.28" x2="965.60" y2="880.28" stroke="#000" stroke-width="1.8" />
<line x1="995.30" y1="887.80" x2="995.30" y2="875.45" stroke="#000" stroke-width="1.6" />
<line x1="988.80" y1="875.45" x2="1001.80" y2="875.45" stroke="#000" stroke-width="1.8" />
<line x1="1031.50" y1="892.63" x2="1031.50" y2="882.86" stroke="#000" stroke-width="1.6" />
<line x1="1025.00" y1="882.86" x2="1038.00" y2="882.86" stroke="#000" stroke-width="1.8" />
<line x1="1067.70" y1="900.68" x2="1067.70" y2="894.13" stroke="#000" stroke-width="1.6" />
<line x1="1061.20" y1="894.13" x2="1074.20" y2="894.13" stroke="#000" stroke-width="1.8" />
<line x1="1140.10" y1="887.16" x2="1140.10" y2="878.35" stroke="#000" stroke-width="1.6" />
<line x1="1133.60" y1="878.35" x2="1146.60" y2="878.35" stroke="#000" stroke-width="1.8" />
<line x1="1176.30" y1="881.36" x2="1176.30" y2="869.98" stroke="#000" stroke-width="1.6" />
<line x1="1169.80" y1="869.98" x2="1182.80" y2="869.98" stroke="#000" stroke-width="1.8" />
<line x1="1248.70" y1="916.14" x2="1248.70" y2="898.96" stroke="#000" stroke-width="1.6" />
<line x1="1242.20" y1="898.96" x2="1255.20" y2="898.96" stroke="#000" stroke-width="1.8" />
<line x1="1284.90" y1="896.82" x2="1284.90" y2="882.22" stroke="#000" stroke-width="1.6" />
<line x1="1278.40" y1="882.22" x2="1291.40" y2="882.22" stroke="#000" stroke-width="1.8" />
<line x1="827.60" y1="680.00" x2="827.60" y2="1003.50" stroke="#000" stroke-width="3" />
<line x1="813.50" y1="1002.00" x2="1309.00" y2="1002.00" stroke="#000" stroke-width="3" />
<line x1="814.60" y1="1002.00" x2="827.60" y2="1002.00" stroke="#000" stroke-width="3" />
<text x="807.60" y="1010.30" font-size="23.2" text-anchor="end">0</text>
<line x1="814.60" y1="921.50" x2="827.60" y2="921.50" stroke="#000" stroke-width="3" />
<text x="807.60" y="929.80" font-size="23.2" text-anchor="end">25</text>
<line x1="814.60" y1="841.00" x2="827.60" y2="841.00" stroke="#000" stroke-width="3" />
<text x="807.60" y="849.30" font-size="23.2" text-anchor="end">50</text>
<line x1="814.60" y1="760.50" x2="827.60" y2="760.50" stroke="#000" stroke-width="3" />
<text x="807.60" y="768.80" font-size="23.2" text-anchor="end">75</text>
<line x1="814.60" y1="680.00" x2="827.60" y2="680.00" stroke="#000" stroke-width="3" />
<text x="807.60" y="688.30" font-size="23.2" text-anchor="end">100</text>
<line x1="850.50" y1="1002.00" x2="850.50" y2="1015.50" stroke="#000" stroke-width="3" />
<line x1="886.70" y1="1002.00" x2="886.70" y2="1015.50" stroke="#000" stroke-width="3" />
<line x1="922.90" y1="1002.00" x2="922.90" y2="1015.50" stroke="#000" stroke-width="3" />
<line x1="959.10" y1="1002.00" x2="959.10" y2="1015.50" stroke="#000" stroke-width="3" />
<line x1="995.30" y1="1002.00" x2="995.30" y2="1015.50" stroke="#000" stroke-width="3" />
<line x1="1031.50" y1="1002.00" x2="1031.50" y2="1015.50" stroke="#000" stroke-width="3" />
<line x1="1067.70" y1="1002.00" x2="1067.70" y2="1015.50" stroke="#000" stroke-width="3" />
<line x1="1103.90" y1="1002.00" x2="1103.90" y2="1015.50" stroke="#000" stroke-width="3" />
<line x1="1140.10" y1="1002.00" x2="1140.10" y2="1015.50" stroke="#000" stroke-width="3" />
<line x1="1176.30" y1="1002.00" x2="1176.30" y2="1015.50" stroke="#000" stroke-width="3" />
<line x1="1212.50" y1="1002.00" x2="1212.50" y2="1015.50" stroke="#000" stroke-width="3" />
<line x1="1248.70" y1="1002.00" x2="1248.70" y2="1015.50" stroke="#000" stroke-width="3" />
<line x1="1284.90" y1="1002.00" x2="1284.90" y2="1015.50" stroke="#000" stroke-width="3" />
<circle cx="842.50" cy="868.37" r="4.90" fill="#000" />
<circle cx="850.50" cy="866.76" r="4.90" fill="#000" />
<circle cx="858.50" cy="876.42" r="4.90" fill="#000" />
<circle cx="842.50" cy="882.86" r="4.90" fill="#000" />
<circle cx="858.50" cy="886.08" r="4.90" fill="#000" />
<circle cx="844.50" cy="895.74" r="4.90" fill="#000" />
<circle cx="850.50" cy="889.30" r="4.90" fill="#000" />
<circle cx="856.50" cy="902.18" r="4.90" fill="#000" />
<circle cx="842.50" cy="908.62" r="4.90" fill="#000" />
<circle cx="858.50" cy="911.84" r="4.90" fill="#000" />
<circle cx="844.50" cy="918.28" r="4.90" fill="#000" />
<circle cx="850.50" cy="915.06" r="4.90" fill="#000" />
<circle cx="856.50" cy="921.50" r="4.90" fill="#000" />
<circle cx="846.50" cy="923.11" r="4.90" fill="#000" />
<circle cx="854.50" cy="905.40" r="4.90" fill="#000" />
<circle cx="886.70" cy="819.10" r="4.90" fill="#000" />
<circle cx="886.70" cy="891.88" r="4.90" fill="#000" />
<circle cx="886.70" cy="921.82" r="4.90" fill="#000" />
<circle cx="915.90" cy="881.89" r="4.90" fill="#000" />
<circle cx="917.90" cy="890.91" r="4.90" fill="#000" />
<circle cx="929.90" cy="890.27" r="4.90" fill="#000" />
<circle cx="952.10" cy="878.35" r="4.90" fill="#000" />
<circle cx="967.10" cy="882.86" r="4.90" fill="#000" />
<circle cx="959.10" cy="912.81" r="4.90" fill="#000" />
<circle cx="995.30" cy="862.90" r="4.90" fill="#000" />
<circle cx="995.30" cy="894.77" r="4.90" fill="#000" />
<circle cx="995.30" cy="905.72" r="4.90" fill="#000" />
<circle cx="1031.50" cy="872.88" r="4.90" fill="#000" />
<circle cx="1024.50" cy="902.18" r="4.90" fill="#000" />
<circle cx="1038.50" cy="902.18" r="4.90" fill="#000" />
<circle cx="1060.70" cy="891.88" r="4.90" fill="#000" />
<circle cx="1074.70" cy="894.13" r="4.90" fill="#000" />
<circle cx="1067.70" cy="915.70" r="4.90" fill="#000" />
<circle cx="1096.90" cy="879.00" r="4.90" fill="#000" />
<circle cx="1103.90" cy="876.42" r="4.90" fill="#000" />
<circle cx="1110.90" cy="878.35" r="4.90" fill="#000" />
<circle cx="1140.10" cy="871.91" r="4.90" fill="#000" />
<circle cx="1140.10" cy="886.72" r="4.90" fill="#000" />
<circle cx="1140.10" cy="903.79" r="4.90" fill="#000" />
<circle cx="1176.30" cy="860.32" r="4.90" fill="#000" />
<circle cx="1176.30" cy="886.72" r="4.90" fill="#000" />
<circle cx="1176.30" cy="899.28" r="4.90" fill="#000" />
<circle cx="1248.70" cy="884.47" r="4.90" fill="#000" />
<circle cx="1248.70" cy="919.25" r="4.90" fill="#000" />
<circle cx="1248.70" cy="945.65" r="4.90" fill="#000" />
<circle cx="1284.90" cy="868.37" r="4.90" fill="#000" />
<circle cx="1277.90" cy="909.91" r="4.90" fill="#000" />
<circle cx="1291.90" cy="909.91" r="4.90" fill="#000" />
<text x="854.80" y="1035.50" font-size="20.3" text-anchor="end" transform="rotate(-45 854.80 1035.50)">WT</text>
<text x="891.00" y="1035.50" font-size="20.3" text-anchor="end" transform="rotate(-45 891.00 1035.50)">MGAT1 KO</text>
<text x="927.20" y="1035.50" font-size="20.3" text-anchor="end" transform="rotate(-45 927.20 1035.50)">MGAT4A KO</text>
<text x="963.40" y="1035.50" font-size="20.3" text-anchor="end" transform="rotate(-45 963.40 1035.50)">MGAT4B KO</text>
<text x="999.60" y="1035.50" font-size="20.3" text-anchor="end" transform="rotate(-45 999.60 1035.50)">MGAT5 KO</text>
<text x="1035.80" y="1035.50" font-size="20.3" text-anchor="end" transform="rotate(-45 1035.80 1035.50)">MGAT5+4B KO</text>
<text x="1072.00" y="1035.50" font-size="20.3" text-anchor="end" transform="rotate(-45 1072.00 1035.50)">C1GALT1C1 KO</text>
<text x="1108.20" y="1035.50" font-size="20.3" text-anchor="end" transform="rotate(-45 1108.20 1035.50)">C1GALT1 KO</text>
<text x="1144.40" y="1035.50" font-size="20.3" text-anchor="end" transform="rotate(-45 1144.40 1035.50)">GCNT1 KO</text>
<text x="1180.60" y="1035.50" font-size="20.3" text-anchor="end" transform="rotate(-45 1180.60 1035.50)">ST3GAL1 KO</text>
<text x="1253.00" y="1035.50" font-size="20.3" text-anchor="end" transform="rotate(-45 1253.00 1035.50)">B4GALT5 KO</text>
<text x="1289.20" y="1035.50" font-size="20.3" text-anchor="end" transform="rotate(-45 1289.20 1035.50)">ST3GAL5 KO</text>
<text x="748.50" y="846.70" font-size="26" text-anchor="middle" transform="rotate(-90 748.50 846.70)">% binding</text>
<text x="1062.70" y="1163.00" font-size="25.7" text-anchor="middle">Cell genotype</text>
<text x="1336.00" y="641.00" font-size="47" font-weight="bold">e</text>
<text x="1670.00" y="627.40" font-size="27.2" text-anchor="middle">Entry to KO, 5 min/bound at 120 min</text>
<rect x="1470.00" y="667.40" width="41.00" height="8.60" fill="#959595" rx="4.30"/>
<rect x="1511.00" y="667.40" width="180.50" height="8.60" fill="#008800" rx="4.30"/>
<rect x="1692.00" y="667.40" width="144.60" height="8.60" fill="#fff800" rx="4.30"/>
<rect x="1882.60" y="667.40" width="63.40" height="8.60" fill="#0a32ff" rx="4.30"/>
<text x="1489.30" y="662.90" font-size="19.3" text-anchor="middle">WT</text>
<text x="1598.80" y="662.90" font-size="19.3" text-anchor="middle">N-glycans</text>
<text x="1770.00" y="662.90" font-size="19.3" text-anchor="middle">O-glycans</text>
<text x="1923.00" y="662.90" font-size="19.3" text-anchor="middle">GSLs</text>
<rect x="1482.20" y="817.93" width="20.80" height="184.47" fill="#959595" stroke="#000" stroke-width="3" />
<rect x="1518.40" y="763.12" width="20.80" height="239.28" fill="#008800" stroke="#000" stroke-width="3" />
<rect x="1554.60" y="905.21" width="20.80" height="97.19" fill="#008800" stroke="#000" stroke-width="3" />
<rect x="1590.80" y="843.03" width="20.80" height="159.37" fill="#008800" stroke="#000" stroke-width="3" />
<rect x="1627.00" y="782.46" width="20.80" height="219.94" fill="#008800" stroke="#000" stroke-width="3" />
<rect x="1663.20" y="841.65" width="20.80" height="160.75" fill="#008800" stroke="#000" stroke-width="3" />
<rect x="1699.40" y="800.20" width="20.80" height="202.20" fill="#fff800" stroke="#000" stroke-width="3" />
<rect x="1735.60" y="850.63" width="20.80" height="151.77" fill="#fff800" stroke="#000" stroke-width="3" />
<rect x="1771.80" y="799.28" width="20.80" height="203.12" fill="#fff800" stroke="#000" stroke-width="3" />
<rect x="1808.00" y="790.06" width="20.80" height="212.34" fill="#fff800" stroke="#000" stroke-width="3" />
<rect x="1880.40" y="878.96" width="20.80" height="123.44" fill="#0a32ff" stroke="#000" stroke-width="3" />
<rect x="1916.60" y="858.00" width="20.80" height="144.40" fill="#0a32ff" stroke="#000" stroke-width="3" />
<line x1="1492.60" y1="816.43" x2="1492.60" y2="813.09" stroke="#000" stroke-width="1.6" />
<line x1="1486.10" y1="813.09" x2="1499.10" y2="813.09" stroke="#000" stroke-width="1.8" />
<line x1="1528.80" y1="761.62" x2="1528.80" y2="749.07" stroke="#000" stroke-width="1.6" />
<line x1="1522.30" y1="749.07" x2="1535.30" y2="749.07" stroke="#000" stroke-width="1.8" />
<line x1="1565.00" y1="903.71" x2="1565.00" y2="899.69" stroke="#000" stroke-width="1.6" />
<line x1="1558.50" y1="899.69" x2="1571.50" y2="899.69" stroke="#000" stroke-width="1.8" />
<line x1="1601.20" y1="841.53" x2="1601.20" y2="822.54" stroke="#000" stroke-width="1.6" />
<line x1="1594.70" y1="822.54" x2="1607.70" y2="822.54" stroke="#000" stroke-width="1.8" />
<line x1="1637.40" y1="780.96" x2="1637.40" y2="773.94" stroke="#000" stroke-width="1.6" />
<line x1="1630.90" y1="773.94" x2="1643.90" y2="773.94" stroke="#000" stroke-width="1.8" />
<line x1="1673.60" y1="840.15" x2="1673.60" y2="829.91" stroke="#000" stroke-width="1.6" />
<line x1="1667.10" y1="829.91" x2="1680.10" y2="829.91" stroke="#000" stroke-width="1.8" />
<line x1="1709.80" y1="798.70" x2="1709.80" y2="788.22" stroke="#000" stroke-width="1.6" />
<line x1="1703.30" y1="788.22" x2="1716.30" y2="788.22" stroke="#000" stroke-width="1.8" />
<line x1="1746.00" y1="849.13" x2="1746.00" y2="822.77" stroke="#000" stroke-width="1.6" />
<line x1="1739.50" y1="822.77" x2="1752.50" y2="822.77" stroke="#000" stroke-width="1.8" />
<line x1="1782.20" y1="797.78" x2="1782.20" y2="788.22" stroke="#000" stroke-width="1.6" />
<line x1="1775.70" y1="788.22" x2="1788.70" y2="788.22" stroke="#000" stroke-width="1.8" />
<line x1="1818.40" y1="788.56" x2="1818.40" y2="735.02" stroke="#000" stroke-width="1.6" />
<line x1="1811.90" y1="735.02" x2="1824.90" y2="735.02" stroke="#000" stroke-width="1.8" />
<line x1="1890.80" y1="877.46" x2="1890.80" y2="862.15" stroke="#000" stroke-width="1.6" />
<line x1="1884.30" y1="862.15" x2="1897.30" y2="862.15" stroke="#000" stroke-width="1.8" />
<line x1="1927.00" y1="856.50" x2="1927.00" y2="839.81" stroke="#000" stroke-width="1.6" />
<line x1="1920.50" y1="839.81" x2="1933.50" y2="839.81" stroke="#000" stroke-width="1.8" />
<line x1="1468.30" y1="680.50" x2="1468.30" y2="1003.90" stroke="#000" stroke-width="3" />
<line x1="1455.00" y1="1002.40" x2="1951.40" y2="1002.40" stroke="#000" stroke-width="3" />
<line x1="1455.30" y1="1002.40" x2="1468.30" y2="1002.40" stroke="#000" stroke-width="3" />
<text x="1448.30" y="1010.70" font-size="23.2" text-anchor="end">0</text>
<line x1="1455.30" y1="944.82" x2="1468.30" y2="944.82" stroke="#000" stroke-width="3" />
<text x="1448.30" y="953.12" font-size="23.2" text-anchor="end">25</text>
<line x1="1455.30" y1="887.25" x2="1468.30" y2="887.25" stroke="#000" stroke-width="3" />
<text x="1448.30" y="895.55" font-size="23.2" text-anchor="end">50</text>
<line x1="1455.30" y1="829.67" x2="1468.30" y2="829.67" stroke="#000" stroke-width="3" />
<text x="1448.30" y="837.97" font-size="23.2" text-anchor="end">75</text>
<line x1="1455.30" y1="772.10" x2="1468.30" y2="772.10" stroke="#000" stroke-width="3" />
<text x="1448.30" y="780.40" font-size="23.2" text-anchor="end">100</text>
<line x1="1455.30" y1="714.52" x2="1468.30" y2="714.52" stroke="#000" stroke-width="3" />
<text x="1448.30" y="722.82" font-size="23.2" text-anchor="end">125</text>
<line x1="1492.60" y1="1002.40" x2="1492.60" y2="1015.90" stroke="#000" stroke-width="3" />
<line x1="1528.80" y1="1002.40" x2="1528.80" y2="1015.90" stroke="#000" stroke-width="3" />
<line x1="1565.00" y1="1002.40" x2="1565.00" y2="1015.90" stroke="#000" stroke-width="3" />
<line x1="1601.20" y1="1002.40" x2="1601.20" y2="1015.90" stroke="#000" stroke-width="3" />
<line x1="1637.40" y1="1002.40" x2="1637.40" y2="1015.90" stroke="#000" stroke-width="3" />
<line x1="1673.60" y1="1002.40" x2="1673.60" y2="1015.90" stroke="#000" stroke-width="3" />
<line x1="1709.80" y1="1002.40" x2="1709.80" y2="1015.90" stroke="#000" stroke-width="3" />
<line x1="1746.00" y1="1002.40" x2="1746.00" y2="1015.90" stroke="#000" stroke-width="3" />
<line x1="1782.20" y1="1002.40" x2="1782.20" y2="1015.90" stroke="#000" stroke-width="3" />
<line x1="1818.40" y1="1002.40" x2="1818.40" y2="1015.90" stroke="#000" stroke-width="3" />
<line x1="1854.60" y1="1002.40" x2="1854.60" y2="1015.90" stroke="#000" stroke-width="3" />
<line x1="1890.80" y1="1002.40" x2="1890.80" y2="1015.90" stroke="#000" stroke-width="3" />
<line x1="1927.00" y1="1002.40" x2="1927.00" y2="1015.90" stroke="#000" stroke-width="3" />
<circle cx="1492.60" cy="788.22" r="4.90" fill="#000" />
<circle cx="1486.60" cy="804.34" r="4.90" fill="#000" />
<circle cx="1498.60" cy="804.34" r="4.90" fill="#000" />
<circle cx="1484.60" cy="813.55" r="4.90" fill="#000" />
<circle cx="1492.60" cy="808.95" r="4.90" fill="#000" />
<circle cx="1500.60" cy="815.86" r="4.90" fill="#000" />
<circle cx="1486.60" cy="822.77" r="4.90" fill="#000" />
<circle cx="1498.60" cy="825.07" r="4.90" fill="#000" />
<circle cx="1492.60" cy="818.16" r="4.90" fill="#000" />
<circle cx="1487.60" cy="834.28" r="4.90" fill="#000" />
<circle cx="1497.60" cy="831.98" r="4.90" fill="#000" />
<circle cx="1492.60" cy="843.49" r="4.90" fill="#000" />
<circle cx="1492.60" cy="852.70" r="4.90" fill="#000" />
<circle cx="1492.60" cy="864.22" r="4.90" fill="#000" />
<circle cx="1521.80" cy="746.31" r="4.90" fill="#000" />
<circle cx="1535.80" cy="749.07" r="4.90" fill="#000" />
<circle cx="1528.80" cy="791.91" r="4.90" fill="#000" />
<circle cx="1565.00" cy="893.70" r="4.90" fill="#000" />
<circle cx="1559.00" cy="910.74" r="4.90" fill="#000" />
<circle cx="1571.00" cy="910.74" r="4.90" fill="#000" />
<circle cx="1601.20" cy="807.57" r="4.90" fill="#000" />
<circle cx="1601.20" cy="843.49" r="4.90" fill="#000" />
<circle cx="1601.20" cy="875.97" r="4.90" fill="#000" />
<circle cx="1637.40" cy="765.65" r="4.90" fill="#000" />
<circle cx="1630.40" cy="791.91" r="4.90" fill="#000" />
<circle cx="1644.40" cy="786.38" r="4.90" fill="#000" />
<circle cx="1666.60" cy="826.68" r="4.90" fill="#000" />
<circle cx="1680.60" cy="834.97" r="4.90" fill="#000" />
<circle cx="1673.60" cy="861.00" r="4.90" fill="#000" />
<circle cx="1702.80" cy="783.38" r="4.90" fill="#000" />
<circle cx="1716.80" cy="792.60" r="4.90" fill="#000" />
<circle cx="1709.80" cy="820.92" r="4.90" fill="#000" />
<circle cx="1746.00" cy="803.19" r="4.90" fill="#000" />
<circle cx="1746.00" cy="849.02" r="4.90" fill="#000" />
<circle cx="1746.00" cy="896.69" r="4.90" fill="#000" />
<circle cx="1782.20" cy="777.63" r="4.90" fill="#000" />
<circle cx="1775.20" cy="807.57" r="4.90" fill="#000" />
<circle cx="1789.20" cy="807.57" r="4.90" fill="#000" />
<circle cx="1818.40" cy="684.13" r="4.90" fill="#000" />
<circle cx="1818.40" cy="824.38" r="4.90" fill="#000" />
<circle cx="1818.40" cy="858.00" r="4.90" fill="#000" />
<circle cx="1890.80" cy="847.18" r="4.90" fill="#000" />
<circle cx="1890.80" cy="885.41" r="4.90" fill="#000" />
<circle cx="1890.80" cy="902.22" r="4.90" fill="#000" />
<circle cx="1927.00" cy="824.84" r="4.90" fill="#000" />
<circle cx="1927.00" cy="859.15" r="4.90" fill="#000" />
<circle cx="1927.00" cy="886.10" r="4.90" fill="#000" />
<text x="1496.90" y="1035.90" font-size="20.3" text-anchor="end" transform="rotate(-45 1496.90 1035.90)">WT</text>
<text x="1533.10" y="1035.90" font-size="20.3" text-anchor="end" transform="rotate(-45 1533.10 1035.90)">MGAT1 KO</text>
<text x="1569.30" y="1035.90" font-size="20.3" text-anchor="end" transform="rotate(-45 1569.30 1035.90)">MGAT4A KO</text>
<text x="1605.50" y="1035.90" font-size="20.3" text-anchor="end" transform="rotate(-45 1605.50 1035.90)">MGAT4B KO</text>
<text x="1641.70" y="1035.90" font-size="20.3" text-anchor="end" transform="rotate(-45 1641.70 1035.90)">MGAT5 KO</text>
<text x="1677.90" y="1035.90" font-size="20.3" text-anchor="end" transform="rotate(-45 1677.90 1035.90)">MGAT5+4B KO</text>
<text x="1714.10" y="1035.90" font-size="20.3" text-anchor="end" transform="rotate(-45 1714.10 1035.90)">C1GALT1C1 KO</text>
<text x="1750.30" y="1035.90" font-size="20.3" text-anchor="end" transform="rotate(-45 1750.30 1035.90)">C1GALT1 KO</text>
<text x="1786.50" y="1035.90" font-size="20.3" text-anchor="end" transform="rotate(-45 1786.50 1035.90)">GCNT1 KO</text>
<text x="1822.70" y="1035.90" font-size="20.3" text-anchor="end" transform="rotate(-45 1822.70 1035.90)">ST3GAL1 KO</text>
<text x="1895.10" y="1035.90" font-size="20.3" text-anchor="end" transform="rotate(-45 1895.10 1035.90)">B4GALT5 KO</text>
<text x="1931.30" y="1035.90" font-size="20.3" text-anchor="end" transform="rotate(-45 1931.30 1035.90)">ST3GAL5 KO</text>
<text x="1387.90" y="844.20" font-size="26" text-anchor="middle" transform="rotate(-90 1387.90 844.20)">% entry</text>
<text x="1704.50" y="1164.00" font-size="25.7" text-anchor="middle">Cell genotype</text>
<text x="243.00" y="165.00" font-size="20" text-anchor="middle" transform="rotate(-45 243.00 165.00)"><tspan font-style="italic">p</tspan> &lt; 0.0001</text>
<text x="319.00" y="151.00" font-size="20" text-anchor="middle" transform="rotate(-45 319.00 151.00)"><tspan font-style="italic">p</tspan> &lt; 0.0001</text>
<text x="578.00" y="197.00" font-size="20" text-anchor="middle" transform="rotate(-45 578.00 197.00)"><tspan font-style="italic">p</tspan> &lt; 0.0001</text>
<text x="613.00" y="197.00" font-size="20" text-anchor="middle" transform="rotate(-45 613.00 197.00)"><tspan font-style="italic">p</tspan> &lt; 0.0001</text>
<text x="646.00" y="197.00" font-size="20" text-anchor="middle" transform="rotate(-45 646.00 197.00)"><tspan font-style="italic">p</tspan> &lt; 0.0001</text>
<text x="217.40" y="228.00" font-size="24" text-anchor="middle">****</text>
<text x="289.70" y="214.00" font-size="24" text-anchor="middle">****</text>
<text x="543.00" y="402.00" font-size="24" text-anchor="middle">****</text>
<text x="579.00" y="352.00" font-size="24" text-anchor="middle">****</text>
<text x="615.60" y="332.00" font-size="24" text-anchor="middle">****</text>
<text x="913.00" y="153.00" font-size="20" text-anchor="middle" transform="rotate(-45 913.00 153.00)"><tspan font-style="italic">p</tspan> &lt; 0.0001</text>
<text x="993.00" y="134.00" font-size="20" text-anchor="middle" transform="rotate(-45 993.00 134.00)"><tspan font-style="italic">p</tspan> &lt; 0.0001</text>
<text x="1245.00" y="193.00" font-size="20" text-anchor="middle" transform="rotate(-45 1245.00 193.00)"><tspan font-style="italic">p</tspan> &lt; 0.0001</text>
<text x="1280.00" y="193.00" font-size="20" text-anchor="middle" transform="rotate(-45 1280.00 193.00)"><tspan font-style="italic">p</tspan> &lt; 0.0001</text>
<text x="1315.00" y="193.00" font-size="20" text-anchor="middle" transform="rotate(-45 1315.00 193.00)"><tspan font-style="italic">p</tspan> &lt; 0.0001</text>
<text x="1168.00" y="131.00" font-size="20" text-anchor="middle"><tspan font-style="italic">p</tspan> = 0.0209</text>
<text x="885.70" y="226.00" font-size="24" text-anchor="middle">****</text>
<text x="958.30" y="214.00" font-size="24" text-anchor="middle">****</text>
<text x="1139.70" y="158.00" font-size="24" text-anchor="middle">*</text>
<text x="1211.70" y="410.00" font-size="24" text-anchor="middle">****</text>
<text x="1247.70" y="326.00" font-size="24" text-anchor="middle">****</text>
<text x="1283.80" y="307.00" font-size="24" text-anchor="middle">****</text>
<text x="1540.00" y="150.00" font-size="20" text-anchor="middle" transform="rotate(-90 1540.00 150.00)"><tspan font-style="italic">p</tspan> &lt; 0.0001</text>
<text x="1574.00" y="182.00" font-size="20" text-anchor="middle" transform="rotate(-90 1574.00 182.00)"><tspan font-style="italic">p</tspan> &lt; 0.0001</text>
<text x="1612.00" y="157.00" font-size="20" text-anchor="middle" transform="rotate(-90 1612.00 157.00)"><tspan font-style="italic">p</tspan> &lt; 0.0001</text>
<text x="1666.30" y="108.20" font-size="20" text-anchor="middle"><tspan font-style="italic">p</tspan> = 0.0161</text>
<text x="1798.70" y="108.20" font-size="20" text-anchor="middle"><tspan font-style="italic">p</tspan> &lt; 0.0001</text>
<text x="1894.00" y="193.00" font-size="20" text-anchor="middle" transform="rotate(-45 1894.00 193.00)"><tspan font-style="italic">p</tspan> &lt; 0.0001</text>
<text x="1929.00" y="193.00" font-size="20" text-anchor="middle" transform="rotate(-45 1929.00 193.00)"><tspan font-style="italic">p</tspan> &lt; 0.0001</text>
<text x="1964.00" y="193.00" font-size="20" text-anchor="middle" transform="rotate(-45 1964.00 193.00)"><tspan font-style="italic">p</tspan> &lt; 0.0001</text>
<text x="1533.30" y="234.00" font-size="24" text-anchor="middle">****</text>
<text x="1569.30" y="302.00" font-size="24" text-anchor="middle">****</text>
<text x="1602.70" y="245.00" font-size="24" text-anchor="middle">****</text>
<text x="1641.30" y="128.00" font-size="24" text-anchor="middle">*</text>
<text x="1786.80" y="136.00" font-size="24" text-anchor="middle">****</text>
<text x="1859.30" y="411.00" font-size="24" text-anchor="middle">****</text>
<text x="1895.40" y="350.00" font-size="24" text-anchor="middle">****</text>
<text x="1931.40" y="326.00" font-size="24" text-anchor="middle">****</text>
<text x="1574.50" y="782.50" font-size="20" text-anchor="middle" transform="rotate(-90 1574.50 782.50)"><tspan font-style="italic">p</tspan> = 0.0011</text>
<text x="1565.50" y="870.00" font-size="24" text-anchor="middle">**</text>
<text x="1923.00" y="760.00" font-size="20" text-anchor="middle" transform="rotate(-45 1923.00 760.00)"><tspan font-style="italic">p</tspan> = 0.0415</text>
<text x="1891.00" y="823.00" font-size="24" text-anchor="middle">*</text>
<defs>
<pattern id="hg" patternUnits="userSpaceOnUse" width="7" height="7" patternTransform="rotate(45)"><rect width="7" height="7" fill="#ffffff"/><line x1="2" y1="0" x2="2" y2="7" stroke="#111" stroke-width="4"/></pattern>
<pattern id="hgr" patternUnits="userSpaceOnUse" width="7" height="7" patternTransform="rotate(45)"><rect width="7" height="7" fill="#008800"/><line x1="2" y1="0" x2="2" y2="7" stroke="#111" stroke-width="4"/></pattern>
<pattern id="hy" patternUnits="userSpaceOnUse" width="7" height="7" patternTransform="rotate(45)"><rect width="7" height="7" fill="#fff800"/><line x1="2" y1="0" x2="2" y2="7" stroke="#111" stroke-width="4"/></pattern>
<pattern id="hb" patternUnits="userSpaceOnUse" width="7" height="7" patternTransform="rotate(45)"><rect width="7" height="7" fill="#0a32ff"/><line x1="2" y1="0" x2="2" y2="7" stroke="#111" stroke-width="4"/></pattern>
<pattern id="ho" patternUnits="userSpaceOnUse" width="7" height="7" patternTransform="rotate(45)"><rect width="7" height="7" fill="#ff8c00"/><line x1="2" y1="0" x2="2" y2="7" stroke="#111" stroke-width="4"/></pattern>
<pattern id="hw" patternUnits="userSpaceOnUse" width="7" height="7" patternTransform="rotate(45)"><rect width="7" height="7" fill="#ffffff"/><line x1="2" y1="0" x2="2" y2="7" stroke="#111" stroke-width="4"/></pattern>
<pattern id="hgy" patternUnits="userSpaceOnUse" width="7" height="7" patternTransform="rotate(45)"><rect width="7" height="7" fill="#959595"/><line x1="2" y1="0" x2="2" y2="7" stroke="#111" stroke-width="4"/></pattern>
<pattern id="hleg" patternUnits="userSpaceOnUse" width="6.5" height="6.5" patternTransform="rotate(45)"><rect width="6.5" height="6.5" fill="#fff"/><line x1="1" y1="0" x2="1" y2="6.5" stroke="#111" stroke-width="1.3"/></pattern>
</defs>
<text x="0.00" y="1729.00" font-size="47" font-weight="bold">i</text>
<text x="505.70" y="1716.00" font-size="27.1" text-anchor="middle">Receptor surface expression</text>
<rect x="131.00" y="1758.00" width="60.50" height="8.30" fill="#959595" rx="4.15"/>
<rect x="191.50" y="1758.00" width="292.30" height="8.30" fill="#008800" rx="4.15"/>
<rect x="484.00" y="1758.00" width="241.50" height="8.30" fill="#fff800" rx="4.15"/>
<rect x="726.00" y="1758.00" width="58.50" height="8.30" fill="#ff8c00" rx="4.15"/>
<rect x="784.50" y="1758.00" width="117.50" height="8.30" fill="#0a32ff" rx="4.15"/>
<text x="158.60" y="1754.40" font-size="19.6" text-anchor="middle">WT</text>
<text x="336.30" y="1754.40" font-size="19.6" text-anchor="middle">N-glycans</text>
<text x="613.00" y="1754.40" font-size="19.6" text-anchor="middle">O-glycans</text>
<text x="758.50" y="1754.40" font-size="19.6" text-anchor="middle">GAGs</text>
<text x="840.70" y="1754.40" font-size="19.6" text-anchor="middle">GSLs</text>
<rect x="139.35" y="1944.37" width="19.50" height="180.23" fill="#959595" stroke="#000" stroke-width="3" />
<rect x="163.15" y="2119.78" width="19.50" height="4.82" fill="url(#hgy)" stroke="#000" stroke-width="3" />
<rect x="196.05" y="2044.49" width="19.50" height="80.11" fill="#008800" stroke="#000" stroke-width="3" />
<rect x="219.85" y="2119.78" width="19.50" height="4.82" fill="url(#hgr)" stroke="#000" stroke-width="3" />
<rect x="256.38" y="1858.72" width="19.50" height="265.88" fill="#008800" stroke="#000" stroke-width="3" />
<rect x="280.18" y="2115.36" width="19.50" height="9.24" fill="url(#hgr)" stroke="#000" stroke-width="3" />
<rect x="316.71" y="1995.68" width="19.50" height="128.92" fill="#008800" stroke="#000" stroke-width="3" />
<rect x="340.51" y="2123.80" width="19.50" height="0.80" fill="url(#hgr)" stroke="#000" stroke-width="3" />
<rect x="377.04" y="1986.52" width="19.50" height="138.08" fill="#008800" stroke="#000" stroke-width="3" />
<rect x="400.84" y="2123.39" width="19.50" height="1.21" fill="url(#hgr)" stroke="#000" stroke-width="3" />
<rect x="437.37" y="1916.17" width="19.50" height="208.43" fill="#008800" stroke="#000" stroke-width="3" />
<rect x="461.17" y="2119.78" width="19.50" height="4.82" fill="url(#hgr)" stroke="#000" stroke-width="3" />
<rect x="497.70" y="1884.31" width="19.50" height="240.29" fill="#fff800" stroke="#000" stroke-width="3" />
<rect x="521.50" y="2119.78" width="19.50" height="4.82" fill="url(#hy)" stroke="#000" stroke-width="3" />
<rect x="558.03" y="1956.19" width="19.50" height="168.41" fill="#fff800" stroke="#000" stroke-width="3" />
<rect x="581.83" y="2120.58" width="19.50" height="4.02" fill="url(#hy)" stroke="#000" stroke-width="3" />
<rect x="618.36" y="1855.59" width="19.50" height="269.01" fill="#fff800" stroke="#000" stroke-width="3" />
<rect x="642.16" y="2123.39" width="19.50" height="1.21" fill="url(#hy)" stroke="#000" stroke-width="3" />
<rect x="678.69" y="1983.99" width="19.50" height="140.61" fill="#fff800" stroke="#000" stroke-width="3" />
<rect x="702.49" y="2119.78" width="19.50" height="4.82" fill="url(#hy)" stroke="#000" stroke-width="3" />
<rect x="739.02" y="2065.98" width="19.50" height="58.62" fill="#ff8c00" stroke="#000" stroke-width="3" />
<rect x="762.82" y="2120.58" width="19.50" height="4.02" fill="url(#ho)" stroke="#000" stroke-width="3" />
<rect x="799.35" y="1936.70" width="19.50" height="187.90" fill="#0a32ff" stroke="#000" stroke-width="3" />
<rect x="823.15" y="2112.55" width="19.50" height="12.05" fill="url(#hb)" stroke="#000" stroke-width="3" />
<rect x="859.68" y="1995.68" width="19.50" height="128.92" fill="#0a32ff" stroke="#000" stroke-width="3" />
<rect x="883.48" y="2116.57" width="19.50" height="8.03" fill="url(#hb)" stroke="#000" stroke-width="3" />
<line x1="124.80" y1="1803.20" x2="124.80" y2="2126.10" stroke="#000" stroke-width="3" />
<line x1="112.00" y1="2124.60" x2="916.40" y2="2124.60" stroke="#000" stroke-width="3" />
<line x1="111.80" y1="2124.60" x2="124.80" y2="2124.60" stroke="#000" stroke-width="3" />
<text x="105.80" y="2133.20" font-size="24" text-anchor="end">0</text>
<line x1="111.80" y1="2044.25" x2="124.80" y2="2044.25" stroke="#000" stroke-width="3" />
<text x="105.80" y="2052.85" font-size="24" text-anchor="end">200</text>
<line x1="111.80" y1="1963.90" x2="124.80" y2="1963.90" stroke="#000" stroke-width="3" />
<text x="105.80" y="1972.50" font-size="24" text-anchor="end">400</text>
<line x1="111.80" y1="1883.55" x2="124.80" y2="1883.55" stroke="#000" stroke-width="3" />
<text x="105.80" y="1892.15" font-size="24" text-anchor="end">600</text>
<line x1="111.80" y1="1803.20" x2="124.80" y2="1803.20" stroke="#000" stroke-width="3" />
<text x="105.80" y="1811.80" font-size="24" text-anchor="end">800</text>
<line x1="160.90" y1="2124.60" x2="160.90" y2="2138.10" stroke="#000" stroke-width="3" />
<line x1="217.60" y1="2124.60" x2="217.60" y2="2138.10" stroke="#000" stroke-width="3" />
<line x1="277.93" y1="2124.60" x2="277.93" y2="2138.10" stroke="#000" stroke-width="3" />
<line x1="338.26" y1="2124.60" x2="338.26" y2="2138.10" stroke="#000" stroke-width="3" />
<line x1="398.59" y1="2124.60" x2="398.59" y2="2138.10" stroke="#000" stroke-width="3" />
<line x1="458.92" y1="2124.60" x2="458.92" y2="2138.10" stroke="#000" stroke-width="3" />
<line x1="519.25" y1="2124.60" x2="519.25" y2="2138.10" stroke="#000" stroke-width="3" />
<line x1="579.58" y1="2124.60" x2="579.58" y2="2138.10" stroke="#000" stroke-width="3" />
<line x1="639.91" y1="2124.60" x2="639.91" y2="2138.10" stroke="#000" stroke-width="3" />
<line x1="700.24" y1="2124.60" x2="700.24" y2="2138.10" stroke="#000" stroke-width="3" />
<line x1="760.57" y1="2124.60" x2="760.57" y2="2138.10" stroke="#000" stroke-width="3" />
<line x1="820.90" y1="2124.60" x2="820.90" y2="2138.10" stroke="#000" stroke-width="3" />
<line x1="881.23" y1="2124.60" x2="881.23" y2="2138.10" stroke="#000" stroke-width="3" />
<circle cx="149.10" cy="1917.30" r="6.40" fill="#000" />
<circle cx="149.10" cy="1970.01" r="6.40" fill="#000" />
<circle cx="166.90" cy="2118.98" r="6.40" fill="#8c8c8c" />
<circle cx="178.90" cy="2118.17" r="6.40" fill="#8c8c8c" />
<circle cx="205.80" cy="2035.81" r="6.40" fill="#000" />
<circle cx="205.80" cy="2049.59" r="6.40" fill="#000" />
<circle cx="223.60" cy="2118.98" r="6.40" fill="#8c8c8c" />
<circle cx="235.60" cy="2118.17" r="6.40" fill="#8c8c8c" />
<circle cx="259.13" cy="1859.69" r="6.40" fill="#000" />
<circle cx="269.63" cy="1859.69" r="6.40" fill="#000" />
<circle cx="282.93" cy="2122.59" r="6.40" fill="#8c8c8c" />
<circle cx="295.93" cy="2108.69" r="6.40" fill="#8c8c8c" />
<circle cx="326.46" cy="1984.39" r="6.40" fill="#000" />
<circle cx="326.46" cy="2005.04" r="6.40" fill="#000" />
<circle cx="344.26" cy="2124.60" r="6.40" fill="#8c8c8c" />
<circle cx="356.26" cy="2123.80" r="6.40" fill="#8c8c8c" />
<circle cx="379.79" cy="1986.52" r="6.40" fill="#000" />
<circle cx="390.79" cy="1986.52" r="6.40" fill="#000" />
<circle cx="404.59" cy="2122.59" r="6.40" fill="#8c8c8c" />
<circle cx="416.59" cy="2122.19" r="6.40" fill="#8c8c8c" />
<circle cx="447.12" cy="1852.49" r="6.40" fill="#000" />
<circle cx="447.12" cy="1976.72" r="6.40" fill="#000" />
<circle cx="464.92" cy="2118.98" r="6.40" fill="#8c8c8c" />
<circle cx="476.92" cy="2118.17" r="6.40" fill="#8c8c8c" />
<circle cx="507.45" cy="1862.82" r="6.40" fill="#000" />
<circle cx="507.45" cy="1904.44" r="6.40" fill="#000" />
<circle cx="525.25" cy="2118.98" r="6.40" fill="#8c8c8c" />
<circle cx="537.25" cy="2118.17" r="6.40" fill="#8c8c8c" />
<circle cx="567.78" cy="1932.56" r="6.40" fill="#000" />
<circle cx="567.78" cy="1977.76" r="6.40" fill="#000" />
<circle cx="584.58" cy="2125.40" r="6.40" fill="#8c8c8c" />
<circle cx="597.58" cy="2113.75" r="6.40" fill="#8c8c8c" />
<circle cx="628.11" cy="1823.81" r="6.40" fill="#000" />
<circle cx="628.11" cy="1884.35" r="6.40" fill="#000" />
<circle cx="644.91" cy="2125.40" r="6.40" fill="#8c8c8c" />
<circle cx="657.91" cy="2118.57" r="6.40" fill="#8c8c8c" />
<circle cx="688.44" cy="1972.74" r="6.40" fill="#000" />
<circle cx="688.44" cy="1990.62" r="6.40" fill="#000" />
<circle cx="706.24" cy="2118.98" r="6.40" fill="#8c8c8c" />
<circle cx="718.24" cy="2118.17" r="6.40" fill="#8c8c8c" />
<circle cx="743.77" cy="2068.60" r="6.40" fill="#000" />
<circle cx="753.77" cy="2061.00" r="6.40" fill="#000" />
<circle cx="766.57" cy="2119.78" r="6.40" fill="#8c8c8c" />
<circle cx="778.57" cy="2119.78" r="6.40" fill="#8c8c8c" />
<circle cx="809.10" cy="1917.22" r="6.40" fill="#000" />
<circle cx="809.10" cy="1955.70" r="6.40" fill="#000" />
<circle cx="826.90" cy="2111.34" r="6.40" fill="#8c8c8c" />
<circle cx="838.90" cy="2108.93" r="6.40" fill="#8c8c8c" />
<circle cx="869.43" cy="1972.74" r="6.40" fill="#000" />
<circle cx="869.43" cy="2017.33" r="6.40" fill="#000" />
<circle cx="886.23" cy="2122.59" r="6.40" fill="#8c8c8c" />
<circle cx="899.23" cy="2110.14" r="6.40" fill="#8c8c8c" />
<text x="166.90" y="2158.60" font-size="20" text-anchor="end" transform="rotate(-45 166.90 2158.60)">WT</text>
<text x="223.60" y="2158.60" font-size="20" text-anchor="end" transform="rotate(-45 223.60 2158.60)">MGAT1 KO</text>
<text x="283.93" y="2158.60" font-size="20" text-anchor="end" transform="rotate(-45 283.93 2158.60)">MGAT4A KO</text>
<text x="344.26" y="2158.60" font-size="20" text-anchor="end" transform="rotate(-45 344.26 2158.60)">MGAT4B KO</text>
<text x="404.59" y="2158.60" font-size="20" text-anchor="end" transform="rotate(-45 404.59 2158.60)">MGAT5 KO</text>
<text x="464.92" y="2158.60" font-size="20" text-anchor="end" transform="rotate(-45 464.92 2158.60)">MGAT5+4B KO</text>
<text x="525.25" y="2158.60" font-size="20" text-anchor="end" transform="rotate(-45 525.25 2158.60)">C1GALT1C1 KO</text>
<text x="585.58" y="2158.60" font-size="20" text-anchor="end" transform="rotate(-45 585.58 2158.60)">C1GALT1 KO</text>
<text x="645.91" y="2158.60" font-size="20" text-anchor="end" transform="rotate(-45 645.91 2158.60)">GCNT1 KO</text>
<text x="706.24" y="2158.60" font-size="20" text-anchor="end" transform="rotate(-45 706.24 2158.60)">ST3GAL1 KO</text>
<text x="766.57" y="2158.60" font-size="20" text-anchor="end" transform="rotate(-45 766.57 2158.60)">B4GALT7 KO</text>
<text x="826.90" y="2158.60" font-size="20" text-anchor="end" transform="rotate(-45 826.90 2158.60)">B4GALT5 KO</text>
<text x="887.23" y="2158.60" font-size="20" text-anchor="end" transform="rotate(-45 887.23 2158.60)">ST3GAL5 KO</text>
<text x="51.30" y="1963.60" font-size="25.4" text-anchor="middle" transform="rotate(-90 51.30 1963.60)">MFI</text>
<rect x="728.30" y="1797.00" width="32.00" height="15.60" fill="#fff" stroke="#000" stroke-width="2" />
<circle cx="778.00" cy="1804.60" r="6.50" fill="#000" />
<text x="796.00" y="1811.60" font-size="26.5">Nectin 1</text>
<rect x="728.30" y="1839.30" width="32.00" height="15.60" fill="url(#hleg)" stroke="#000" stroke-width="2" />
<circle cx="778.00" cy="1846.00" r="6.50" fill="#8c8c8c" />
<text x="796.00" y="1853.40" font-size="26.5">HVEM</text>
<text x="211.00" y="1948.00" font-size="20" text-anchor="middle" transform="rotate(-90 211.00 1948.00)"><tspan font-style="italic">p</tspan> = 0.0004</text>
<text x="205.40" y="2023.50" font-size="25" text-anchor="middle">***</text>
<text x="273.40" y="1814.50" font-size="20" text-anchor="middle"><tspan font-style="italic">p</tspan> = 0.0038</text>
<text x="266.80" y="1844.00" font-size="25" text-anchor="middle">**</text>
<text x="627.50" y="1790.70" font-size="20" text-anchor="middle"><tspan font-style="italic">p</tspan> = 0.0017</text>
<text x="628.60" y="1816.50" font-size="25" text-anchor="middle">**</text>
<text x="754.50" y="1974.00" font-size="20" text-anchor="middle" transform="rotate(-90 754.50 1974.00)"><tspan font-style="italic">p</tspan> &lt; 0.0001</text>
<text x="748.80" y="2051.60" font-size="25" text-anchor="middle">****</text>
<text x="983.50" y="1797.30" font-size="47" font-weight="bold">j</text>
<text x="1213.50" y="1822.90" font-size="26.4" text-anchor="middle">CS disaccharides</text>
<rect x="1107.70" y="2118.00" width="24.60" height="6.20" fill="#fff57a" stroke="#000" stroke-width="2.8" />
<rect x="1150.84" y="2072.71" width="24.60" height="51.49" fill="#fff57a" stroke="#000" stroke-width="2.8" />
<rect x="1193.98" y="2118.59" width="24.60" height="5.61" fill="#fff57a" stroke="#000" stroke-width="2.8" />
<rect x="1237.12" y="1863.54" width="24.60" height="260.66" fill="#fff57a" stroke="#000" stroke-width="2.8" />
<rect x="1280.26" y="2010.00" width="24.60" height="114.20" fill="#fff57a" stroke="#000" stroke-width="2.8" />
<rect x="1323.40" y="2115.31" width="24.60" height="8.89" fill="#fff57a" stroke="#000" stroke-width="2.8" />
<line x1="1093.00" y1="1850.80" x2="1093.00" y2="2125.60" stroke="#000" stroke-width="2.8" />
<line x1="1081.30" y1="2124.20" x2="1365.00" y2="2124.20" stroke="#000" stroke-width="2.8" />
<line x1="1081.00" y1="2124.20" x2="1093.00" y2="2124.20" stroke="#000" stroke-width="2.8" />
<text x="1075.00" y="2131.20" font-size="19.5" text-anchor="end">0</text>
<line x1="1081.00" y1="2033.06" x2="1093.00" y2="2033.06" stroke="#000" stroke-width="2.8" />
<text x="1075.00" y="2040.06" font-size="19.5" text-anchor="end">20</text>
<line x1="1081.00" y1="1941.92" x2="1093.00" y2="1941.92" stroke="#000" stroke-width="2.8" />
<text x="1075.00" y="1948.92" font-size="19.5" text-anchor="end">40</text>
<line x1="1081.00" y1="1850.78" x2="1093.00" y2="1850.78" stroke="#000" stroke-width="2.8" />
<text x="1075.00" y="1857.78" font-size="19.5" text-anchor="end">60</text>
<line x1="1120.00" y1="2124.20" x2="1120.00" y2="2137.20" stroke="#000" stroke-width="2.8" />
<line x1="1163.14" y1="2124.20" x2="1163.14" y2="2137.20" stroke="#000" stroke-width="2.8" />
<line x1="1206.28" y1="2124.20" x2="1206.28" y2="2137.20" stroke="#000" stroke-width="2.8" />
<line x1="1249.42" y1="2124.20" x2="1249.42" y2="2137.20" stroke="#000" stroke-width="2.8" />
<line x1="1292.56" y1="2124.20" x2="1292.56" y2="2137.20" stroke="#000" stroke-width="2.8" />
<line x1="1335.70" y1="2124.20" x2="1335.70" y2="2137.20" stroke="#000" stroke-width="2.8" />
<circle cx="1120.00" cy="2116.00" r="5.00" fill="#000" />
<circle cx="1163.14" cy="2071.34" r="5.00" fill="#000" />
<circle cx="1206.28" cy="2117.36" r="5.00" fill="#000" />
<circle cx="1249.42" cy="1862.63" r="5.00" fill="#000" />
<circle cx="1292.56" cy="2009.36" r="5.00" fill="#000" />
<circle cx="1335.70" cy="2113.90" r="5.00" fill="#000" />
<text x="1038.80" y="1996.70" font-size="25.7" text-anchor="middle" transform="rotate(-90 1038.80 1996.70)">% of CS disaccharides</text>
<text x="1128.50" y="2150.20" font-size="19.5" text-anchor="end" transform="rotate(-45 1128.50 2150.20)">ΔUA2S-GalNAc4S</text>
<text x="1171.64" y="2150.20" font-size="19.5" text-anchor="end" transform="rotate(-45 1171.64 2150.20)">ΔUA-GalNAc4S6S</text>
<text x="1214.78" y="2150.20" font-size="19.5" text-anchor="end" transform="rotate(-45 1214.78 2150.20)">ΔUA2S-GalNAc6S</text>
<text x="1257.92" y="2150.20" font-size="19.5" text-anchor="end" transform="rotate(-45 1257.92 2150.20)">ΔUA-GalNAc4S</text>
<text x="1301.06" y="2150.20" font-size="19.5" text-anchor="end" transform="rotate(-45 1301.06 2150.20)">ΔUA-GalNAc6S</text>
<text x="1344.20" y="2150.20" font-size="19.5" text-anchor="end" transform="rotate(-45 1344.20 2150.20)">ΔUA-GalNAc</text>
<text x="1428.00" y="1797.50" font-size="47" font-weight="bold">k</text>
<text x="1730.70" y="1822.60" font-size="26.4" text-anchor="middle">HS disaccharides</text>
<rect x="1552.80" y="2020.84" width="23.00" height="103.66" fill="#0a8cff" stroke="#000" stroke-width="2.8" />
<rect x="1592.36" y="2109.91" width="23.00" height="14.59" fill="#0a8cff" stroke="#000" stroke-width="2.8" />
<rect x="1671.48" y="1888.19" width="23.00" height="236.31" fill="#0a8cff" stroke="#000" stroke-width="2.8" />
<rect x="1711.04" y="1948.54" width="23.00" height="175.96" fill="#0a8cff" stroke="#000" stroke-width="2.8" />
<rect x="1750.60" y="2080.51" width="23.00" height="43.99" fill="#0a8cff" stroke="#000" stroke-width="2.8" />
<rect x="1790.16" y="2024.25" width="23.00" height="100.25" fill="#0a8cff" stroke="#000" stroke-width="2.8" />
<line x1="1538.10" y1="1850.00" x2="1538.10" y2="2125.90" stroke="#000" stroke-width="2.8" />
<line x1="1526.80" y1="2124.50" x2="1947.60" y2="2124.50" stroke="#000" stroke-width="2.8" />
<line x1="1526.10" y1="2124.50" x2="1538.10" y2="2124.50" stroke="#000" stroke-width="2.8" />
<text x="1522.60" y="2131.50" font-size="19.5" text-anchor="end">0</text>
<line x1="1526.10" y1="2056.30" x2="1538.10" y2="2056.30" stroke="#000" stroke-width="2.8" />
<text x="1522.60" y="2063.30" font-size="19.5" text-anchor="end">10</text>
<line x1="1526.10" y1="1988.10" x2="1538.10" y2="1988.10" stroke="#000" stroke-width="2.8" />
<text x="1522.60" y="1995.10" font-size="19.5" text-anchor="end">20</text>
<line x1="1526.10" y1="1919.90" x2="1538.10" y2="1919.90" stroke="#000" stroke-width="2.8" />
<text x="1522.60" y="1926.90" font-size="19.5" text-anchor="end">30</text>
<line x1="1526.10" y1="1851.70" x2="1538.10" y2="1851.70" stroke="#000" stroke-width="2.8" />
<text x="1522.60" y="1858.70" font-size="19.5" text-anchor="end">40</text>
<line x1="1564.30" y1="2124.50" x2="1564.30" y2="2137.50" stroke="#000" stroke-width="2.8" />
<line x1="1603.86" y1="2124.50" x2="1603.86" y2="2137.50" stroke="#000" stroke-width="2.8" />
<line x1="1643.42" y1="2124.50" x2="1643.42" y2="2137.50" stroke="#000" stroke-width="2.8" />
<line x1="1682.98" y1="2124.50" x2="1682.98" y2="2137.50" stroke="#000" stroke-width="2.8" />
<line x1="1722.54" y1="2124.50" x2="1722.54" y2="2137.50" stroke="#000" stroke-width="2.8" />
<line x1="1762.10" y1="2124.50" x2="1762.10" y2="2137.50" stroke="#000" stroke-width="2.8" />
<line x1="1801.66" y1="2124.50" x2="1801.66" y2="2137.50" stroke="#000" stroke-width="2.8" />
<line x1="1841.22" y1="2124.50" x2="1841.22" y2="2137.50" stroke="#000" stroke-width="2.8" />
<line x1="1880.78" y1="2124.50" x2="1880.78" y2="2137.50" stroke="#000" stroke-width="2.8" />
<line x1="1920.34" y1="2124.50" x2="1920.34" y2="2137.50" stroke="#000" stroke-width="2.8" />
<circle cx="1564.30" cy="2020.15" r="5.00" fill="#000" />
<circle cx="1603.86" cy="2109.02" r="5.00" fill="#000" />
<circle cx="1643.42" cy="2124.50" r="5.00" fill="#000" />
<circle cx="1682.98" cy="1887.16" r="5.00" fill="#000" />
<circle cx="1722.54" cy="1947.86" r="5.00" fill="#000" />
<circle cx="1762.10" cy="2079.83" r="5.00" fill="#000" />
<circle cx="1801.66" cy="2023.22" r="5.00" fill="#000" />
<circle cx="1841.22" cy="2124.50" r="5.00" fill="#000" />
<circle cx="1880.78" cy="2124.50" r="5.00" fill="#000" />
<circle cx="1920.34" cy="2122.93" r="5.00" fill="#000" />
<text x="1485.80" y="1996.50" font-size="25.7" text-anchor="middle" transform="rotate(-90 1485.80 1996.50)">% of HS disaccharides</text>
<text x="1571.80" y="2151.50" font-size="19.5" text-anchor="end" transform="rotate(-45 1571.80 2151.50)">ΔUA-GlcNAc</text>
<text x="1611.36" y="2151.50" font-size="19.5" text-anchor="end" transform="rotate(-45 1611.36 2151.50)">ΔUA2S-GlcNAc</text>
<text x="1650.92" y="2151.50" font-size="19.5" text-anchor="end" transform="rotate(-45 1650.92 2151.50)">ΔUA2S-GlcNH<tspan font-size="14" dy="5">2</tspan></text>
<text x="1690.48" y="2151.50" font-size="19.5" text-anchor="end" transform="rotate(-45 1690.48 2151.50)">ΔUA-GlcNS</text>
<text x="1730.04" y="2151.50" font-size="19.5" text-anchor="end" transform="rotate(-45 1730.04 2151.50)">ΔUA2S-GlcNS</text>
<text x="1769.60" y="2151.50" font-size="19.5" text-anchor="end" transform="rotate(-45 1769.60 2151.50)">ΔUA-GlcNS6S</text>
<text x="1809.16" y="2151.50" font-size="19.5" text-anchor="end" transform="rotate(-45 1809.16 2151.50)">ΔUA2S-GlcNS6S</text>
<text x="1848.72" y="2151.50" font-size="19.5" text-anchor="end" transform="rotate(-45 1848.72 2151.50)">ΔUA-GlcNS3S</text>
<text x="1888.28" y="2151.50" font-size="19.5" text-anchor="end" transform="rotate(-45 1888.28 2151.50)">ΔUA-GlcNS3S6S</text>
<text x="1927.84" y="2151.50" font-size="19.5" text-anchor="end" transform="rotate(-45 1927.84 2151.50)">ΔUA2S-GlcNS3S6S</text>
<text x="1417.00" y="1247.00" font-size="47" font-weight="bold">h</text>
<text x="1726.60" y="1220.60" font-size="27" text-anchor="middle">gC binding</text>
<rect x="1541.60" y="1232.80" width="38.90" height="17.60" fill="#999999" rx="8.800000000000068"/>
<text x="1561.05" y="1248.00" font-size="18.7" text-anchor="middle">WT</text>
<rect x="1582.00" y="1232.80" width="81.40" height="17.60" fill="#ff8c00" rx="8.800000000000068"/>
<text x="1622.70" y="1248.00" font-size="18.7" text-anchor="middle">Linker</text>
<rect x="1667.60" y="1232.80" width="123.40" height="17.60" fill="#fff67a" rx="8.800000000000068"/>
<text x="1729.30" y="1248.00" font-size="18.7" text-anchor="middle">CS synthesis</text>
<rect x="1794.70" y="1232.80" width="123.70" height="17.60" fill="#1a8cff" rx="8.800000000000068"/>
<text x="1856.55" y="1248.00" font-size="18.7" text-anchor="middle">HS synthesis</text>
<rect x="1547.50" y="1307.90" width="25.00" height="305.40" fill="#999999" stroke="#1a1a1a" stroke-width="2" />
<rect x="1590.07" y="1537.56" width="25.00" height="75.74" fill="#ff8c00" stroke="#1a1a1a" stroke-width="2" />
<rect x="1675.21" y="1374.17" width="25.00" height="239.13" fill="#fff67a" stroke="#1a1a1a" stroke-width="2" />
<rect x="1717.78" y="1390.36" width="25.00" height="222.94" fill="#fff67a" stroke="#1a1a1a" stroke-width="2" />
<rect x="1760.35" y="1295.38" width="25.00" height="317.92" fill="#fff67a" stroke="#1a1a1a" stroke-width="2" />
<rect x="1802.92" y="1543.97" width="25.00" height="69.33" fill="#1a8cff" stroke="#1a1a1a" stroke-width="2" />
<line x1="1602.57" y1="1537.56" x2="1602.57" y2="1515.88" stroke="#1a1a1a" stroke-width="1.8" />
<line x1="1596.07" y1="1515.88" x2="1609.07" y2="1515.88" stroke="#1a1a1a" stroke-width="1.8" />
<line x1="1645.14" y1="1611.77" x2="1645.14" y2="1609.64" stroke="#1a1a1a" stroke-width="1.8" />
<line x1="1638.64" y1="1609.64" x2="1651.64" y2="1609.64" stroke="#1a1a1a" stroke-width="1.8" />
<line x1="1687.71" y1="1374.17" x2="1687.71" y2="1363.48" stroke="#1a1a1a" stroke-width="1.8" />
<line x1="1681.21" y1="1363.48" x2="1694.21" y2="1363.48" stroke="#1a1a1a" stroke-width="1.8" />
<line x1="1730.28" y1="1390.36" x2="1730.28" y2="1339.05" stroke="#1a1a1a" stroke-width="1.8" />
<line x1="1723.78" y1="1339.05" x2="1736.78" y2="1339.05" stroke="#1a1a1a" stroke-width="1.8" />
<line x1="1772.85" y1="1295.38" x2="1772.85" y2="1277.97" stroke="#1a1a1a" stroke-width="1.8" />
<line x1="1766.35" y1="1277.97" x2="1779.35" y2="1277.97" stroke="#1a1a1a" stroke-width="1.8" />
<line x1="1815.42" y1="1543.97" x2="1815.42" y2="1523.21" stroke="#1a1a1a" stroke-width="1.8" />
<line x1="1808.92" y1="1523.21" x2="1821.92" y2="1523.21" stroke="#1a1a1a" stroke-width="1.8" />
<line x1="1533.30" y1="1247.00" x2="1533.30" y2="1644.70" stroke="#1a1a1a" stroke-width="2.2" />
<line x1="1523.00" y1="1613.30" x2="1929.70" y2="1613.30" stroke="#1a1a1a" stroke-width="2.6" />
<line x1="1532.30" y1="1643.70" x2="1929.70" y2="1643.70" stroke="#1a1a1a" stroke-width="2.6" />
<line x1="1523.00" y1="1613.30" x2="1533.30" y2="1613.30" stroke="#1a1a1a" stroke-width="2.2" />
<text x="1514.00" y="1620.30" font-size="19.7" text-anchor="end" fill="#222">0.0</text>
<line x1="1523.00" y1="1460.60" x2="1533.30" y2="1460.60" stroke="#1a1a1a" stroke-width="2.2" />
<text x="1514.00" y="1467.60" font-size="19.7" text-anchor="end" fill="#222">0.5</text>
<line x1="1523.00" y1="1307.90" x2="1533.30" y2="1307.90" stroke="#1a1a1a" stroke-width="2.2" />
<text x="1514.00" y="1314.90" font-size="19.7" text-anchor="end" fill="#222">1.0</text>
<line x1="1560.00" y1="1643.70" x2="1560.00" y2="1655.00" stroke="#1a1a1a" stroke-width="2.4" />
<line x1="1602.57" y1="1643.70" x2="1602.57" y2="1655.00" stroke="#1a1a1a" stroke-width="2.4" />
<line x1="1645.14" y1="1643.70" x2="1645.14" y2="1655.00" stroke="#1a1a1a" stroke-width="2.4" />
<line x1="1687.71" y1="1643.70" x2="1687.71" y2="1655.00" stroke="#1a1a1a" stroke-width="2.4" />
<line x1="1730.28" y1="1643.70" x2="1730.28" y2="1655.00" stroke="#1a1a1a" stroke-width="2.4" />
<line x1="1772.85" y1="1643.70" x2="1772.85" y2="1655.00" stroke="#1a1a1a" stroke-width="2.4" />
<line x1="1815.42" y1="1643.70" x2="1815.42" y2="1655.00" stroke="#1a1a1a" stroke-width="2.4" />
<line x1="1857.99" y1="1643.70" x2="1857.99" y2="1655.00" stroke="#1a1a1a" stroke-width="2.4" />
<line x1="1900.56" y1="1643.70" x2="1900.56" y2="1655.00" stroke="#1a1a1a" stroke-width="2.4" />
<circle cx="1550.00" cy="1307.90" r="3.30" fill="#000" />
<circle cx="1555.00" cy="1307.90" r="3.30" fill="#000" />
<circle cx="1560.00" cy="1307.90" r="3.30" fill="#000" />
<circle cx="1565.00" cy="1307.90" r="3.30" fill="#000" />
<circle cx="1570.00" cy="1307.90" r="3.30" fill="#000" />
<circle cx="1602.57" cy="1496.03" r="3.30" fill="#000" />
<circle cx="1602.57" cy="1551.00" r="3.30" fill="#000" />
<circle cx="1602.57" cy="1561.69" r="3.30" fill="#000" />
<circle cx="1635.14" cy="1610.25" r="3.30" fill="#000" />
<circle cx="1645.14" cy="1607.19" r="3.30" fill="#000" />
<circle cx="1655.14" cy="1610.25" r="3.30" fill="#000" />
<circle cx="1687.71" cy="1353.40" r="3.30" fill="#000" />
<circle cx="1681.71" cy="1384.86" r="3.30" fill="#000" />
<circle cx="1693.71" cy="1380.89" r="3.30" fill="#000" />
<circle cx="1730.28" cy="1306.68" r="3.30" fill="#000" />
<circle cx="1730.28" cy="1380.28" r="3.30" fill="#000" />
<circle cx="1730.28" cy="1480.76" r="3.30" fill="#000" />
<circle cx="1772.85" cy="1270.95" r="3.30" fill="#000" />
<circle cx="1772.85" cy="1286.52" r="3.30" fill="#000" />
<circle cx="1772.85" cy="1326.22" r="3.30" fill="#000" />
<circle cx="1808.42" cy="1521.68" r="3.30" fill="#000" />
<circle cx="1821.42" cy="1524.12" r="3.30" fill="#000" />
<circle cx="1815.42" cy="1582.76" r="3.30" fill="#000" />
<circle cx="1847.99" cy="1613.30" r="3.30" fill="#000" />
<circle cx="1857.99" cy="1611.77" r="3.30" fill="#000" />
<circle cx="1869.99" cy="1612.69" r="3.30" fill="#000" />
<circle cx="1889.56" cy="1619.41" r="3.30" fill="#000" />
<circle cx="1900.56" cy="1613.91" r="3.30" fill="#000" />
<circle cx="1912.56" cy="1613.91" r="3.30" fill="#000" />
<text x="1467.50" y="1437.00" font-size="19.8" text-anchor="middle" fill="#222" transform="rotate(-90 1467.50 1437.00)">KO/WT ratio</text>
<text x="1568.40" y="1681.50" font-size="20" text-anchor="end" fill="#222" transform="rotate(-45 1568.40 1681.50)">WT</text>
<text x="1613.37" y="1678.00" font-size="20" text-anchor="end" fill="#222" transform="rotate(-45 1613.37 1678.00)"><tspan font-style="italic">B4galt7</tspan> KO</text>
<text x="1652.44" y="1678.00" font-size="20" text-anchor="end" fill="#222" transform="rotate(-45 1652.44 1678.00)"><tspan font-style="italic">B3gat3</tspan> KO</text>
<text x="1691.21" y="1674.50" font-size="20" text-anchor="end" fill="#222" transform="rotate(-45 1691.21 1674.50)"><tspan font-style="italic">Csgalnact(1-2)</tspan></text>
<text x="1702.71" y="1693.00" font-size="20" text-anchor="end" fill="#222" transform="rotate(-45 1702.71 1693.00)">+<tspan font-style="italic">Chsy1</tspan> KO</text>
<text x="1750.28" y="1677.20" font-size="20" text-anchor="end" fill="#222" transform="rotate(-45 1750.28 1677.20)"><tspan font-style="italic">Chpf</tspan> KO</text>
<text x="1792.35" y="1677.20" font-size="20" text-anchor="end" fill="#222" transform="rotate(-45 1792.35 1677.20)"><tspan font-style="italic">Chst(11-14)</tspan> KO</text>
<text x="1831.42" y="1676.50" font-size="20" text-anchor="end" fill="#222" transform="rotate(-45 1831.42 1676.50)"><tspan font-style="italic">Extl(2-3)</tspan> KO</text>
<text x="1874.29" y="1676.50" font-size="20" text-anchor="end" fill="#222" transform="rotate(-45 1874.29 1676.50)"><tspan font-style="italic">Ext(1-2)</tspan> KO</text>
<text x="1916.86" y="1675.70" font-size="20" text-anchor="end" fill="#222" transform="rotate(-45 1916.86 1675.70)"><tspan font-style="italic">Ndst(1-2)</tspan> KO</text>
<text x="1610.20" y="1410.20" font-size="20" text-anchor="middle" transform="rotate(-90 1610.20 1410.20)"><tspan font-style="italic">q</tspan> = 0.0033</text>
<text x="1603.50" y="1492.00" font-size="20.5" text-anchor="middle">**</text>
<text x="1652.00" y="1518.90" font-size="20" text-anchor="middle" transform="rotate(-90 1652.00 1518.90)"><tspan font-style="italic">q</tspan> = 0.00006</text>
<text x="1646.30" y="1605.50" font-size="20.5" text-anchor="middle">****</text>
<text x="1692.00" y="1314.00" font-size="20" text-anchor="middle" transform="rotate(-56 1692.00 1314.00)"><tspan font-style="italic">q</tspan> = 0.0078</text>
<text x="1687.10" y="1347.50" font-size="20.5" text-anchor="middle">**</text>
<text x="1821.00" y="1442.90" font-size="20" text-anchor="middle" transform="rotate(-90 1821.00 1442.90)"><tspan font-style="italic">q</tspan> = 0.0033</text>
<text x="1815.80" y="1521.60" font-size="20.5" text-anchor="middle">**</text>
<text x="1865.00" y="1522.30" font-size="20" text-anchor="middle" transform="rotate(-90 1865.00 1522.30)"><tspan font-style="italic">q</tspan> = 0.00006</text>
<text x="1859.50" y="1608.80" font-size="20.5" text-anchor="middle">****</text>
<text x="1905.50" y="1522.30" font-size="20" text-anchor="middle" transform="rotate(-90 1905.50 1522.30)"><tspan font-style="italic">q</tspan> = 0.00006</text>
<text x="1899.70" y="1608.80" font-size="20.5" text-anchor="middle">****</text>
<defs>
<filter id="speck" x="0" y="0" width="100%" height="100%" color-interpolation-filters="sRGB"><feTurbulence type="fractalNoise" baseFrequency="0.7" numOctaves="2" seed="7"/><feColorMatrix type="matrix" values="0 0 0 0 0.1  0 0 0 0 0.85  0 0 0 0 0.12  0 0 0 5.5 -2.7"/><feGaussianBlur stdDeviation="0.75"/></filter>
<filter id="nuctex" x="-20%" y="-20%" width="140%" height="140%" color-interpolation-filters="sRGB"><feTurbulence type="fractalNoise" baseFrequency="0.3" numOctaves="2" seed="3" result="t"/><feColorMatrix in="t" type="matrix" values="0 0 0 0 0  0 0 0 0 0  0 0 0 0 0  0 0 0 -2.2 1.5" result="ta"/><feComposite in="SourceGraphic" in2="ta" operator="in" result="c"/><feGaussianBlur in="c" stdDeviation="0.8"/></filter>
<filter id="blur6" x="-50%" y="-50%" width="200%" height="200%"><feGaussianBlur stdDeviation="6"/></filter>
<filter id="blur3" x="-50%" y="-50%" width="200%" height="200%"><feGaussianBlur stdDeviation="3.5"/></filter>
<filter id="blur1" x="-20%" y="-20%" width="140%" height="140%"><feGaussianBlur stdDeviation="0.8"/></filter>
<clipPath id="cp_r1c1"><rect x="48.90" y="1260.50" width="196.5" height="196.5"/></clipPath>
<mask id="mk_r1c1" maskUnits="userSpaceOnUse" x="43.9" y="1255.5" width="206.5" height="206.5">
<rect x="43.9" y="1255.5" width="206.5" height="206.5" fill="rgb(40,40,40)"/>
<path d="M48.9,1260.5 L48.9,1330.3 M-1.0,1323.9 L48.9,1330.3 M48.9,1260.5 L23.6,1246.5 M7.4,1385.7 L48.9,1345.8 M48.9,1330.3 L48.9,1345.8 M153.4,1225.1 L165.6,1260.5 M165.6,1260.5 L82.6,1260.5 M107.0,1219.9 L82.6,1260.5 M153.4,1295.9 L165.6,1260.5 M153.4,1295.9 L107.0,1301.1 M107.0,1301.1 L82.6,1260.5 M48.9,1260.5 L82.6,1260.5 M245.4,1260.5 L165.6,1260.5 M218.5,1317.4 L245.4,1295.1 M245.4,1260.5 L245.4,1295.1 M161.2,1310.8 L218.5,1317.4 M153.4,1295.9 L161.2,1310.8 M107.0,1301.1 L98.8,1323.9 M98.8,1323.9 L48.9,1330.3 M48.9,1345.8 L48.9,1397.2 M14.7,1397.2 L48.9,1397.2 M90.4,1385.7 L48.9,1345.8 M90.4,1385.7 L83.1,1397.2 M83.1,1397.2 L48.9,1397.2 M83.1,1397.2 L84.9,1421.5 M48.9,1397.2 L48.9,1448.5 M84.9,1421.5 L48.9,1448.5 M12.9,1421.5 L48.9,1448.5 M90.4,1385.7 L101.2,1379.6 M98.8,1323.9 L112.8,1353.9 M112.8,1353.9 L101.2,1379.6 M161.2,1310.8 L155.6,1348.1 M112.8,1353.9 L155.6,1348.1 M207.0,1352.5 L173.3,1367.2 M218.5,1317.4 L207.0,1352.5 M155.6,1348.1 L173.3,1367.2 M245.4,1295.1 L245.4,1363.8 M219.2,1363.8 L245.4,1363.8 M219.2,1363.8 L207.0,1352.5 M245.4,1260.5 L259.5,1237.5 M-17.0,1516.8 L47.6,1464.5 M84.9,1492.5 L47.6,1464.5 M143.4,1508.2 L112.0,1466.2 M84.9,1492.5 L112.0,1466.2 M48.9,1457.0 L47.6,1464.5 M48.9,1448.5 L48.9,1457.0 M173.3,1367.2 L173.3,1367.7 M173.3,1367.7 L150.9,1405.2 M101.2,1379.6 L143.4,1405.8 M143.4,1405.8 L150.9,1405.2 M84.9,1421.5 L112.0,1447.8 M143.4,1405.8 L112.0,1447.8 M48.9,1457.0 L114.4,1457.0 M112.0,1447.8 L114.4,1457.0 M112.0,1466.2 L114.4,1457.0 M172.8,1431.1 L168.5,1457.0 M172.8,1431.1 L213.5,1414.3 M245.4,1457.0 L168.5,1457.0 M213.5,1414.3 L225.5,1415.6 M225.5,1415.6 L245.4,1426.4 M245.4,1457.0 L245.4,1426.4 M150.9,1405.2 L172.8,1431.1 M114.4,1457.0 L168.5,1457.0 M173.3,1367.7 L213.5,1414.3 M172.8,1482.9 L168.5,1457.0 M252.5,1483.8 L245.4,1457.0 M219.2,1363.8 L225.5,1415.6 M245.4,1363.8 L245.4,1426.4 M265.3,1415.6 L245.4,1426.4 M271.6,1363.8 L245.4,1363.8 M245.4,1295.1 L272.3,1317.4" stroke="#777" stroke-width="26" stroke-linecap="round" fill="none" filter="url(#blur3)"/>
<path d="M48.9,1260.5 L48.9,1330.3 M-1.0,1323.9 L48.9,1330.3 M48.9,1260.5 L23.6,1246.5 M7.4,1385.7 L48.9,1345.8 M48.9,1330.3 L48.9,1345.8 M153.4,1225.1 L165.6,1260.5 M165.6,1260.5 L82.6,1260.5 M107.0,1219.9 L82.6,1260.5 M153.4,1295.9 L165.6,1260.5 M153.4,1295.9 L107.0,1301.1 M107.0,1301.1 L82.6,1260.5 M48.9,1260.5 L82.6,1260.5 M245.4,1260.5 L165.6,1260.5 M218.5,1317.4 L245.4,1295.1 M245.4,1260.5 L245.4,1295.1 M161.2,1310.8 L218.5,1317.4 M153.4,1295.9 L161.2,1310.8 M107.0,1301.1 L98.8,1323.9 M98.8,1323.9 L48.9,1330.3 M48.9,1345.8 L48.9,1397.2 M14.7,1397.2 L48.9,1397.2 M90.4,1385.7 L48.9,1345.8 M90.4,1385.7 L83.1,1397.2 M83.1,1397.2 L48.9,1397.2 M83.1,1397.2 L84.9,1421.5 M48.9,1397.2 L48.9,1448.5 M84.9,1421.5 L48.9,1448.5 M12.9,1421.5 L48.9,1448.5 M90.4,1385.7 L101.2,1379.6 M98.8,1323.9 L112.8,1353.9 M112.8,1353.9 L101.2,1379.6 M161.2,1310.8 L155.6,1348.1 M112.8,1353.9 L155.6,1348.1 M207.0,1352.5 L173.3,1367.2 M218.5,1317.4 L207.0,1352.5 M155.6,1348.1 L173.3,1367.2 M245.4,1295.1 L245.4,1363.8 M219.2,1363.8 L245.4,1363.8 M219.2,1363.8 L207.0,1352.5 M245.4,1260.5 L259.5,1237.5 M-17.0,1516.8 L47.6,1464.5 M84.9,1492.5 L47.6,1464.5 M143.4,1508.2 L112.0,1466.2 M84.9,1492.5 L112.0,1466.2 M48.9,1457.0 L47.6,1464.5 M48.9,1448.5 L48.9,1457.0 M173.3,1367.2 L173.3,1367.7 M173.3,1367.7 L150.9,1405.2 M101.2,1379.6 L143.4,1405.8 M143.4,1405.8 L150.9,1405.2 M84.9,1421.5 L112.0,1447.8 M143.4,1405.8 L112.0,1447.8 M48.9,1457.0 L114.4,1457.0 M112.0,1447.8 L114.4,1457.0 M112.0,1466.2 L114.4,1457.0 M172.8,1431.1 L168.5,1457.0 M172.8,1431.1 L213.5,1414.3 M245.4,1457.0 L168.5,1457.0 M213.5,1414.3 L225.5,1415.6 M225.5,1415.6 L245.4,1426.4 M245.4,1457.0 L245.4,1426.4 M150.9,1405.2 L172.8,1431.1 M114.4,1457.0 L168.5,1457.0 M173.3,1367.7 L213.5,1414.3 M172.8,1482.9 L168.5,1457.0 M252.5,1483.8 L245.4,1457.0 M219.2,1363.8 L225.5,1415.6 M245.4,1363.8 L245.4,1426.4 M265.3,1415.6 L245.4,1426.4 M271.6,1363.8 L245.4,1363.8 M245.4,1295.1 L272.3,1317.4" stroke="#fff" stroke-width="9" stroke-linecap="round" fill="none" filter="url(#blur1)"/>
<g filter="url(#blur3)">
<ellipse cx="125.5" cy="1272.3" rx="14.9" ry="12.2" fill="#000"/>
<ellipse cx="72.9" cy="1303.9" rx="13.6" ry="14.9" fill="#000"/>
<ellipse cx="190.0" cy="1294.5" rx="16.3" ry="17.6" fill="#000"/>
<ellipse cx="131.4" cy="1325.1" rx="14.9" ry="16.3" fill="#000"/>
<ellipse cx="185.5" cy="1333.2" rx="16.3" ry="16.3" fill="#000"/>
<ellipse cx="78.8" cy="1349.7" rx="19.0" ry="13.6" fill="#000"/>
<ellipse cx="235.8" cy="1349.7" rx="10.8" ry="13.6" fill="#000"/>
<ellipse cx="138.5" cy="1376.6" rx="17.6" ry="14.9" fill="#000"/>
<ellipse cx="206.5" cy="1381.3" rx="14.9" ry="16.7" fill="#000"/>
<ellipse cx="54.0" cy="1375.5" rx="8.1" ry="13.6" fill="#000"/>
<ellipse cx="235.8" cy="1377.8" rx="10.8" ry="13.6" fill="#000"/>
<ellipse cx="181.9" cy="1402.6" rx="13.6" ry="17.6" fill="#000"/>
<ellipse cx="115.1" cy="1414.4" rx="17.6" ry="16.3" fill="#000"/>
<ellipse cx="143.2" cy="1435.4" rx="14.9" ry="10.8" fill="#000"/>
<ellipse cx="199.4" cy="1444.8" rx="13.6" ry="8.1" fill="#000"/>
<ellipse cx="54.0" cy="1418.9" rx="6.8" ry="13.6" fill="#000"/>
<ellipse cx="78.8" cy="1451.9" rx="13.6" ry="5.4" fill="#000"/>
<ellipse cx="75.2" cy="1393.1" rx="15.8" ry="13.6" fill="#000"/>
</g></mask>
<clipPath id="cp_r1c2"><rect x="252.30" y="1260.40" width="196.5" height="196.5"/></clipPath>
<clipPath id="cp_r1c3"><rect x="455.50" y="1260.30" width="196.5" height="196.5"/></clipPath>
<mask id="mk_r1c3" maskUnits="userSpaceOnUse" x="450.5" y="1255.3" width="206.5" height="206.5">
<rect x="450.5" y="1255.3" width="206.5" height="206.5" fill="rgb(25,25,25)"/>
<path d="M437.5,1230.3 L455.0,1257.1 M455.0,1257.1 L510.1,1227.1 M566.5,1284.2 L592.3,1327.5 M566.5,1284.2 L551.2,1293.3 M551.2,1293.3 L551.2,1325.4 M576.8,1339.1 L551.2,1325.4 M576.8,1339.1 L586.7,1338.2 M586.7,1338.2 L592.4,1330.0 M592.3,1327.5 L592.4,1330.0 M612.8,1290.2 L601.9,1260.3 M652.0,1260.3 L601.9,1260.3 M612.8,1290.2 L652.0,1319.3 M652.0,1260.3 L652.0,1319.3 M582.4,1260.3 L601.9,1260.3 M566.5,1284.2 L582.4,1260.3 M592.3,1327.5 L612.8,1290.2 M612.8,1230.4 L601.9,1260.3 M705.9,1225.1 L652.0,1260.3 M652.0,1330.0 L652.0,1319.3 M592.4,1330.0 L652.0,1330.0 M582.4,1260.3 L566.5,1236.4 M652.0,1375.5 L680.7,1383.8 M652.0,1330.0 L652.0,1375.5 M652.0,1330.0 L711.6,1330.0 M428.1,1318.2 L441.2,1355.1 M441.2,1355.1 L416.3,1371.2 M455.5,1260.3 L518.0,1260.3 M517.4,1287.7 L518.0,1260.3 M517.4,1287.7 L510.1,1293.5 M510.1,1293.5 L455.5,1263.8 M455.5,1260.3 L455.5,1263.8 M517.4,1232.9 L518.0,1260.3 M455.0,1257.1 L455.5,1260.3 M582.4,1260.3 L518.0,1260.3 M551.2,1293.3 L517.4,1287.7 M524.1,1341.9 L504.4,1309.5 M504.4,1309.5 L510.1,1293.5 M551.2,1325.4 L524.1,1341.9 M455.5,1301.4 L455.5,1263.8 M455.5,1301.4 L482.9,1318.2 M482.9,1318.2 L504.4,1309.5 M400.9,1293.5 L455.5,1263.8 M428.1,1318.2 L455.5,1301.4 M524.1,1341.9 L523.9,1343.0 M576.8,1339.1 L551.5,1369.4 M523.9,1343.0 L551.5,1369.4 M652.0,1319.3 L691.2,1290.2 M407.2,1484.6 L446.3,1466.3 M446.3,1466.3 L496.8,1533.1 M601.2,1370.9 L619.7,1383.0 M601.2,1370.9 L586.7,1338.2 M652.0,1375.5 L623.3,1383.8 M623.3,1383.8 L619.7,1383.0 M446.3,1466.3 L455.5,1456.8 M455.5,1456.8 L515.4,1456.8 M528.0,1487.1 L515.4,1456.8 M455.5,1435.1 L455.5,1355.9 M496.8,1380.5 L455.5,1435.1 M496.8,1380.5 L494.7,1371.2 M494.7,1371.2 L469.8,1355.1 M469.8,1355.1 L455.5,1355.9 M414.2,1380.5 L455.5,1435.1 M441.2,1355.1 L455.5,1355.9 M523.9,1343.0 L494.7,1371.2 M482.9,1318.2 L469.8,1355.1 M455.5,1301.4 L455.5,1355.9 M455.5,1456.8 L455.5,1435.1 M528.0,1426.5 L573.6,1416.9 M528.0,1426.5 L523.5,1398.4 M523.5,1398.4 L553.1,1379.6 M573.6,1416.9 L561.8,1384.7 M561.8,1384.7 L553.1,1379.6 M515.4,1456.8 L528.0,1426.5 M496.8,1380.5 L523.5,1398.4 M551.5,1369.4 L553.1,1379.6 M573.9,1417.1 L619.7,1383.0 M573.9,1417.1 L573.6,1416.9 M601.2,1370.9 L561.8,1384.7 M515.4,1456.8 L594.8,1456.8 M573.9,1496.5 L594.8,1456.8 M573.9,1417.1 L594.8,1456.8 M652.0,1456.8 L695.2,1475.5 M652.0,1456.8 L611.8,1456.8 M623.3,1529.8 L611.8,1456.8 M652.0,1375.5 L652.0,1456.8 M623.3,1383.8 L611.8,1456.8 M594.8,1456.8 L611.8,1456.8" stroke="#777" stroke-width="16" stroke-linecap="round" fill="none" filter="url(#blur3)"/>
<path d="M437.5,1230.3 L455.0,1257.1 M455.0,1257.1 L510.1,1227.1 M566.5,1284.2 L592.3,1327.5 M566.5,1284.2 L551.2,1293.3 M551.2,1293.3 L551.2,1325.4 M576.8,1339.1 L551.2,1325.4 M576.8,1339.1 L586.7,1338.2 M586.7,1338.2 L592.4,1330.0 M592.3,1327.5 L592.4,1330.0 M612.8,1290.2 L601.9,1260.3 M652.0,1260.3 L601.9,1260.3 M612.8,1290.2 L652.0,1319.3 M652.0,1260.3 L652.0,1319.3 M582.4,1260.3 L601.9,1260.3 M566.5,1284.2 L582.4,1260.3 M592.3,1327.5 L612.8,1290.2 M612.8,1230.4 L601.9,1260.3 M705.9,1225.1 L652.0,1260.3 M652.0,1330.0 L652.0,1319.3 M592.4,1330.0 L652.0,1330.0 M582.4,1260.3 L566.5,1236.4 M652.0,1375.5 L680.7,1383.8 M652.0,1330.0 L652.0,1375.5 M652.0,1330.0 L711.6,1330.0 M428.1,1318.2 L441.2,1355.1 M441.2,1355.1 L416.3,1371.2 M455.5,1260.3 L518.0,1260.3 M517.4,1287.7 L518.0,1260.3 M517.4,1287.7 L510.1,1293.5 M510.1,1293.5 L455.5,1263.8 M455.5,1260.3 L455.5,1263.8 M517.4,1232.9 L518.0,1260.3 M455.0,1257.1 L455.5,1260.3 M582.4,1260.3 L518.0,1260.3 M551.2,1293.3 L517.4,1287.7 M524.1,1341.9 L504.4,1309.5 M504.4,1309.5 L510.1,1293.5 M551.2,1325.4 L524.1,1341.9 M455.5,1301.4 L455.5,1263.8 M455.5,1301.4 L482.9,1318.2 M482.9,1318.2 L504.4,1309.5 M400.9,1293.5 L455.5,1263.8 M428.1,1318.2 L455.5,1301.4 M524.1,1341.9 L523.9,1343.0 M576.8,1339.1 L551.5,1369.4 M523.9,1343.0 L551.5,1369.4 M652.0,1319.3 L691.2,1290.2 M407.2,1484.6 L446.3,1466.3 M446.3,1466.3 L496.8,1533.1 M601.2,1370.9 L619.7,1383.0 M601.2,1370.9 L586.7,1338.2 M652.0,1375.5 L623.3,1383.8 M623.3,1383.8 L619.7,1383.0 M446.3,1466.3 L455.5,1456.8 M455.5,1456.8 L515.4,1456.8 M528.0,1487.1 L515.4,1456.8 M455.5,1435.1 L455.5,1355.9 M496.8,1380.5 L455.5,1435.1 M496.8,1380.5 L494.7,1371.2 M494.7,1371.2 L469.8,1355.1 M469.8,1355.1 L455.5,1355.9 M414.2,1380.5 L455.5,1435.1 M441.2,1355.1 L455.5,1355.9 M523.9,1343.0 L494.7,1371.2 M482.9,1318.2 L469.8,1355.1 M455.5,1301.4 L455.5,1355.9 M455.5,1456.8 L455.5,1435.1 M528.0,1426.5 L573.6,1416.9 M528.0,1426.5 L523.5,1398.4 M523.5,1398.4 L553.1,1379.6 M573.6,1416.9 L561.8,1384.7 M561.8,1384.7 L553.1,1379.6 M515.4,1456.8 L528.0,1426.5 M496.8,1380.5 L523.5,1398.4 M551.5,1369.4 L553.1,1379.6 M573.9,1417.1 L619.7,1383.0 M573.9,1417.1 L573.6,1416.9 M601.2,1370.9 L561.8,1384.7 M515.4,1456.8 L594.8,1456.8 M573.9,1496.5 L594.8,1456.8 M573.9,1417.1 L594.8,1456.8 M652.0,1456.8 L695.2,1475.5 M652.0,1456.8 L611.8,1456.8 M623.3,1529.8 L611.8,1456.8 M652.0,1375.5 L652.0,1456.8 M623.3,1383.8 L611.8,1456.8 M594.8,1456.8 L611.8,1456.8" stroke="#fff" stroke-width="5" stroke-linecap="round" fill="none" filter="url(#blur1)"/>
<g filter="url(#blur3)">
<ellipse cx="478.9" cy="1295.5" rx="15.6" ry="14.2" fill="#000"/>
<ellipse cx="533.1" cy="1314.7" rx="15.6" ry="15.6" fill="#000"/>
<ellipse cx="569.3" cy="1314.7" rx="15.6" ry="15.6" fill="#000"/>
<ellipse cx="592.1" cy="1301.2" rx="13.1" ry="16.9" fill="#000"/>
<ellipse cx="614.7" cy="1313.6" rx="14.2" ry="15.6" fill="#000"/>
<ellipse cx="635.7" cy="1285.3" rx="14.2" ry="16.9" fill="#000"/>
<ellipse cx="460.8" cy="1324.9" rx="7.9" ry="13.1" fill="#000"/>
<ellipse cx="495.8" cy="1337.3" rx="18.3" ry="14.2" fill="#000"/>
<ellipse cx="552.4" cy="1346.4" rx="18.3" ry="16.9" fill="#000"/>
<ellipse cx="614.7" cy="1346.4" rx="20.8" ry="16.9" fill="#000"/>
<ellipse cx="574.0" cy="1364.4" rx="16.9" ry="14.2" fill="#000"/>
<ellipse cx="528.6" cy="1371.3" rx="16.9" ry="14.2" fill="#000"/>
<ellipse cx="464.1" cy="1386.1" rx="10.4" ry="13.1" fill="#000"/>
<ellipse cx="584.0" cy="1392.9" rx="18.3" ry="15.6" fill="#000"/>
<ellipse cx="550.2" cy="1405.3" rx="11.8" ry="14.2" fill="#000"/>
<ellipse cx="500.3" cy="1413.4" rx="14.2" ry="16.9" fill="#000"/>
<ellipse cx="599.9" cy="1414.4" rx="18.3" ry="18.3" fill="#000"/>
<ellipse cx="636.1" cy="1420.1" rx="16.9" ry="15.6" fill="#000"/>
<ellipse cx="556.9" cy="1437.0" rx="20.8" ry="13.1" fill="#000"/>
<ellipse cx="541.0" cy="1267.2" rx="18.3" ry="7.9" fill="#000"/>
<ellipse cx="494.8" cy="1266.2" rx="13.6" ry="6.8" fill="#000"/>
</g></mask>
<clipPath id="cp_r1c4"><rect x="659.50" y="1260.30" width="196.5" height="196.5"/></clipPath>
<clipPath id="cp_r2c1"><rect x="48.90" y="1463.50" width="196.5" height="196.5"/></clipPath>
<clipPath id="cp_r2c2"><rect x="252.30" y="1463.50" width="196.5" height="196.5"/></clipPath>
<clipPath id="cp_r2c3"><rect x="455.50" y="1463.50" width="196.5" height="196.5"/></clipPath>
<clipPath id="cp_r2c4"><rect x="659.50" y="1463.50" width="196.5" height="196.5"/></clipPath>
</defs>
<text x="0.00" y="1246.30" font-size="47" font-weight="bold">f</text>
<text x="148.90" y="1245.30" font-size="22" text-anchor="middle">No treatment</text>
<text x="349.00" y="1245.30" font-size="22" text-anchor="middle">Heparinase 1, 2, 3</text>
<text x="551.20" y="1245.30" font-size="22" text-anchor="middle">Chondroitinase ABC</text>
<text x="760.20" y="1219.00" font-size="22" text-anchor="middle">Heparinase 1, 2, 3</text>
<text x="760.20" y="1245.30" font-size="22" text-anchor="middle">Chondroitinase ABC</text>
<g clip-path="url(#cp_r1c1)">
<rect x="48.90" y="1260.50" width="196.50" height="196.50" fill="#030318" />
<g filter="url(#blur6)" opacity="0.6">
<ellipse cx="125.5" cy="1272.3" rx="23.3" ry="19.1" fill="#03073e"/>
<ellipse cx="72.9" cy="1303.9" rx="21.2" ry="23.3" fill="#03073e"/>
<ellipse cx="190.0" cy="1294.5" rx="25.5" ry="27.6" fill="#03073e"/>
<ellipse cx="131.4" cy="1325.1" rx="23.3" ry="25.5" fill="#03073e"/>
<ellipse cx="185.5" cy="1333.2" rx="25.5" ry="25.5" fill="#03073e"/>
<ellipse cx="78.8" cy="1349.7" rx="29.7" ry="21.2" fill="#03073e"/>
<ellipse cx="235.8" cy="1349.7" rx="17.0" ry="21.2" fill="#03073e"/>
<ellipse cx="138.5" cy="1376.6" rx="27.6" ry="23.3" fill="#03073e"/>
<ellipse cx="206.5" cy="1381.3" rx="23.3" ry="26.2" fill="#03073e"/>
<ellipse cx="54.0" cy="1375.5" rx="12.7" ry="21.2" fill="#03073e"/>
<ellipse cx="235.8" cy="1377.8" rx="17.0" ry="21.2" fill="#03073e"/>
<ellipse cx="181.9" cy="1402.6" rx="21.2" ry="27.6" fill="#03073e"/>
<ellipse cx="115.1" cy="1414.4" rx="27.6" ry="25.5" fill="#03073e"/>
<ellipse cx="143.2" cy="1435.4" rx="23.3" ry="17.0" fill="#03073e"/>
<ellipse cx="199.4" cy="1444.8" rx="21.2" ry="12.7" fill="#03073e"/>
<ellipse cx="54.0" cy="1418.9" rx="10.6" ry="21.2" fill="#03073e"/>
<ellipse cx="78.8" cy="1451.9" rx="21.2" ry="8.5" fill="#03073e"/>
<ellipse cx="75.2" cy="1393.1" rx="24.8" ry="21.2" fill="#03073e"/>
</g>
<g mask="url(#mk_r1c1)"><rect x="48.90" y="1260.50" width="196.5" height="196.5" fill="#000" filter="url(#speck)" opacity="1.0"/></g>
<g filter="url(#blur1)">
<ellipse cx="125.5" cy="1272.3" rx="13.0" ry="10.6" fill="rgb(7,12,167)"/>
<ellipse cx="72.9" cy="1303.9" rx="11.8" ry="13.0" fill="rgb(9,15,194)"/>
<ellipse cx="190.0" cy="1294.5" rx="14.1" ry="15.3" fill="rgb(9,16,203)"/>
<ellipse cx="131.4" cy="1325.1" rx="13.0" ry="14.1" fill="rgb(11,19,239)"/>
<ellipse cx="185.5" cy="1333.2" rx="14.1" ry="14.1" fill="rgb(10,17,221)"/>
<ellipse cx="78.8" cy="1349.7" rx="16.5" ry="11.8" fill="rgb(9,16,203)"/>
<ellipse cx="235.8" cy="1349.7" rx="9.4" ry="11.8" fill="rgb(10,17,221)"/>
<ellipse cx="138.5" cy="1376.6" rx="15.3" ry="13.0" fill="rgb(9,16,203)"/>
<ellipse cx="206.5" cy="1381.3" rx="13.0" ry="14.5" fill="rgb(10,17,221)"/>
<ellipse cx="54.0" cy="1375.5" rx="7.1" ry="11.8" fill="rgb(9,15,194)"/>
<ellipse cx="235.8" cy="1377.8" rx="9.4" ry="11.8" fill="rgb(10,16,212)"/>
<ellipse cx="181.9" cy="1402.6" rx="11.8" ry="15.3" fill="rgb(10,17,221)"/>
<ellipse cx="115.1" cy="1414.4" rx="15.3" ry="14.1" fill="rgb(9,16,203)"/>
<ellipse cx="143.2" cy="1435.4" rx="13.0" ry="9.4" fill="rgb(7,12,167)"/>
<ellipse cx="199.4" cy="1444.8" rx="11.8" ry="7.1" fill="rgb(7,12,159)"/>
<ellipse cx="54.0" cy="1418.9" rx="5.9" ry="11.8" fill="rgb(8,13,176)"/>
<ellipse cx="78.8" cy="1451.9" rx="11.8" ry="4.7" fill="rgb(7,12,159)"/>
<ellipse cx="75.2" cy="1393.1" rx="13.8" ry="11.8" fill="rgb(5,8,114)"/>
</g>
<g filter="url(#nuctex)" opacity="0.45">
<ellipse cx="125.5" cy="1272.3" rx="13.0" ry="10.6" fill="#000"/>
<ellipse cx="72.9" cy="1303.9" rx="11.8" ry="13.0" fill="#000"/>
<ellipse cx="190.0" cy="1294.5" rx="14.1" ry="15.3" fill="#000"/>
<ellipse cx="131.4" cy="1325.1" rx="13.0" ry="14.1" fill="#000"/>
<ellipse cx="185.5" cy="1333.2" rx="14.1" ry="14.1" fill="#000"/>
<ellipse cx="78.8" cy="1349.7" rx="16.5" ry="11.8" fill="#000"/>
<ellipse cx="235.8" cy="1349.7" rx="9.4" ry="11.8" fill="#000"/>
<ellipse cx="138.5" cy="1376.6" rx="15.3" ry="13.0" fill="#000"/>
<ellipse cx="206.5" cy="1381.3" rx="13.0" ry="14.5" fill="#000"/>
<ellipse cx="54.0" cy="1375.5" rx="7.1" ry="11.8" fill="#000"/>
<ellipse cx="235.8" cy="1377.8" rx="9.4" ry="11.8" fill="#000"/>
<ellipse cx="181.9" cy="1402.6" rx="11.8" ry="15.3" fill="#000"/>
<ellipse cx="115.1" cy="1414.4" rx="15.3" ry="14.1" fill="#000"/>
<ellipse cx="143.2" cy="1435.4" rx="13.0" ry="9.4" fill="#000"/>
<ellipse cx="199.4" cy="1444.8" rx="11.8" ry="7.1" fill="#000"/>
<ellipse cx="54.0" cy="1418.9" rx="5.9" ry="11.8" fill="#000"/>
<ellipse cx="78.8" cy="1451.9" rx="11.8" ry="4.7" fill="#000"/>
<ellipse cx="75.2" cy="1393.1" rx="13.8" ry="11.8" fill="#000"/>
</g>
</g>
<g clip-path="url(#cp_r1c2)">
<rect x="252.30" y="1260.40" width="196.50" height="196.50" fill="#02020c" />
<g filter="url(#blur6)" opacity="0.45">
<ellipse cx="274.9" cy="1283.4" rx="25.5" ry="24.4" fill="#03073e"/>
<ellipse cx="318.7" cy="1274.9" rx="19.1" ry="21.2" fill="#03073e"/>
<ellipse cx="372.2" cy="1273.4" rx="23.3" ry="18.4" fill="#03073e"/>
<ellipse cx="407.5" cy="1279.1" rx="22.3" ry="15.2" fill="#03073e"/>
<ellipse cx="438.0" cy="1270.0" rx="20.2" ry="18.4" fill="#03073e"/>
<ellipse cx="346.8" cy="1303.8" rx="25.5" ry="19.1" fill="#03073e"/>
<ellipse cx="395.4" cy="1306.6" rx="22.3" ry="23.3" fill="#03073e"/>
<ellipse cx="431.3" cy="1308.3" rx="24.4" ry="22.3" fill="#03073e"/>
<ellipse cx="275.3" cy="1319.0" rx="21.2" ry="17.3" fill="#03073e"/>
<ellipse cx="367.6" cy="1327.4" rx="23.3" ry="25.5" fill="#03073e"/>
<ellipse cx="308.7" cy="1340.4" rx="20.2" ry="23.3" fill="#03073e"/>
<ellipse cx="335.6" cy="1334.7" rx="21.2" ry="16.3" fill="#03073e"/>
<ellipse cx="278.6" cy="1351.6" rx="26.5" ry="20.2" fill="#03073e"/>
<ellipse cx="438.2" cy="1356.1" rx="18.4" ry="22.3" fill="#03073e"/>
<ellipse cx="364.3" cy="1365.1" rx="21.2" ry="26.5" fill="#03073e"/>
<ellipse cx="321.5" cy="1374.8" rx="24.4" ry="23.3" fill="#03073e"/>
<ellipse cx="282.2" cy="1382.0" rx="25.5" ry="26.5" fill="#03073e"/>
<ellipse cx="256.8" cy="1392.1" rx="11.3" ry="20.2" fill="#03073e"/>
<ellipse cx="363.3" cy="1407.4" rx="34.3" ry="25.5" fill="#03073e"/>
<ellipse cx="424.6" cy="1411.3" rx="22.3" ry="23.3" fill="#03073e"/>
<ellipse cx="445.5" cy="1404.6" rx="8.1" ry="18.4" fill="#03073e"/>
<ellipse cx="279.4" cy="1426.4" rx="25.5" ry="24.4" fill="#03073e"/>
<ellipse cx="346.8" cy="1447.3" rx="28.3" ry="16.3" fill="#03073e"/>
<ellipse cx="444.9" cy="1449.6" rx="10.3" ry="16.3" fill="#03073e"/>
<ellipse cx="253.3" cy="1340.4" rx="7.1" ry="17.7" fill="#03073e"/>
</g>
<g filter="url(#blur1)">
<ellipse cx="274.9" cy="1283.4" rx="14.1" ry="13.6" fill="rgb(8,13,176)"/>
<ellipse cx="318.7" cy="1274.9" rx="10.6" ry="11.8" fill="rgb(7,12,159)"/>
<ellipse cx="372.2" cy="1273.4" rx="13.0" ry="10.2" fill="rgb(8,13,176)"/>
<ellipse cx="407.5" cy="1279.1" rx="12.4" ry="8.4" fill="rgb(10,16,212)"/>
<ellipse cx="438.0" cy="1270.0" rx="11.2" ry="10.2" fill="rgb(7,12,159)"/>
<ellipse cx="346.8" cy="1303.8" rx="14.1" ry="10.6" fill="rgb(9,15,194)"/>
<ellipse cx="395.4" cy="1306.6" rx="12.4" ry="13.0" fill="rgb(10,16,212)"/>
<ellipse cx="431.3" cy="1308.3" rx="13.6" ry="12.4" fill="rgb(9,15,194)"/>
<ellipse cx="275.3" cy="1319.0" rx="11.8" ry="9.6" fill="rgb(8,14,185)"/>
<ellipse cx="367.6" cy="1327.4" rx="13.0" ry="14.1" fill="rgb(10,17,221)"/>
<ellipse cx="308.7" cy="1340.4" rx="11.2" ry="13.0" fill="rgb(10,17,221)"/>
<ellipse cx="335.6" cy="1334.7" rx="11.8" ry="9.0" fill="rgb(9,16,203)"/>
<ellipse cx="278.6" cy="1351.6" rx="14.7" ry="11.2" fill="rgb(10,16,212)"/>
<ellipse cx="438.2" cy="1356.1" rx="10.2" ry="12.4" fill="rgb(11,18,230)"/>
<ellipse cx="364.3" cy="1365.1" rx="11.8" ry="14.7" fill="rgb(10,16,212)"/>
<ellipse cx="321.5" cy="1374.8" rx="13.6" ry="13.0" fill="rgb(10,16,212)"/>
<ellipse cx="282.2" cy="1382.0" rx="14.1" ry="14.7" fill="rgb(9,16,203)"/>
<ellipse cx="256.8" cy="1392.1" rx="6.3" ry="11.2" fill="rgb(9,15,194)"/>
<ellipse cx="363.3" cy="1407.4" rx="19.1" ry="14.1" fill="rgb(8,14,185)"/>
<ellipse cx="424.6" cy="1411.3" rx="12.4" ry="13.0" fill="rgb(9,15,194)"/>
<ellipse cx="445.5" cy="1404.6" rx="4.5" ry="10.2" fill="rgb(8,13,176)"/>
<ellipse cx="279.4" cy="1426.4" rx="14.1" ry="13.6" fill="rgb(8,14,185)"/>
<ellipse cx="346.8" cy="1447.3" rx="15.7" ry="9.0" fill="rgb(8,13,176)"/>
<ellipse cx="444.9" cy="1449.6" rx="5.7" ry="9.0" fill="rgb(7,12,159)"/>
<ellipse cx="253.3" cy="1340.4" rx="3.9" ry="9.8" fill="rgb(8,13,176)"/>
</g>
<g filter="url(#nuctex)" opacity="0.45">
<ellipse cx="274.9" cy="1283.4" rx="14.1" ry="13.6" fill="#000"/>
<ellipse cx="318.7" cy="1274.9" rx="10.6" ry="11.8" fill="#000"/>
<ellipse cx="372.2" cy="1273.4" rx="13.0" ry="10.2" fill="#000"/>
<ellipse cx="407.5" cy="1279.1" rx="12.4" ry="8.4" fill="#000"/>
<ellipse cx="438.0" cy="1270.0" rx="11.2" ry="10.2" fill="#000"/>
<ellipse cx="346.8" cy="1303.8" rx="14.1" ry="10.6" fill="#000"/>
<ellipse cx="395.4" cy="1306.6" rx="12.4" ry="13.0" fill="#000"/>
<ellipse cx="431.3" cy="1308.3" rx="13.6" ry="12.4" fill="#000"/>
<ellipse cx="275.3" cy="1319.0" rx="11.8" ry="9.6" fill="#000"/>
<ellipse cx="367.6" cy="1327.4" rx="13.0" ry="14.1" fill="#000"/>
<ellipse cx="308.7" cy="1340.4" rx="11.2" ry="13.0" fill="#000"/>
<ellipse cx="335.6" cy="1334.7" rx="11.8" ry="9.0" fill="#000"/>
<ellipse cx="278.6" cy="1351.6" rx="14.7" ry="11.2" fill="#000"/>
<ellipse cx="438.2" cy="1356.1" rx="10.2" ry="12.4" fill="#000"/>
<ellipse cx="364.3" cy="1365.1" rx="11.8" ry="14.7" fill="#000"/>
<ellipse cx="321.5" cy="1374.8" rx="13.6" ry="13.0" fill="#000"/>
<ellipse cx="282.2" cy="1382.0" rx="14.1" ry="14.7" fill="#000"/>
<ellipse cx="256.8" cy="1392.1" rx="6.3" ry="11.2" fill="#000"/>
<ellipse cx="363.3" cy="1407.4" rx="19.1" ry="14.1" fill="#000"/>
<ellipse cx="424.6" cy="1411.3" rx="12.4" ry="13.0" fill="#000"/>
<ellipse cx="445.5" cy="1404.6" rx="4.5" ry="10.2" fill="#000"/>
<ellipse cx="279.4" cy="1426.4" rx="14.1" ry="13.6" fill="#000"/>
<ellipse cx="346.8" cy="1447.3" rx="15.7" ry="9.0" fill="#000"/>
<ellipse cx="444.9" cy="1449.6" rx="5.7" ry="9.0" fill="#000"/>
<ellipse cx="253.3" cy="1340.4" rx="3.9" ry="9.8" fill="#000"/>
</g>
</g>
<g clip-path="url(#cp_r1c3)">
<rect x="455.50" y="1260.30" width="196.50" height="196.50" fill="#030318" />
<g filter="url(#blur6)" opacity="0.6">
<ellipse cx="478.9" cy="1295.5" rx="24.4" ry="22.3" fill="#03073e"/>
<ellipse cx="533.1" cy="1314.7" rx="24.4" ry="24.4" fill="#03073e"/>
<ellipse cx="569.3" cy="1314.7" rx="24.4" ry="24.4" fill="#03073e"/>
<ellipse cx="592.1" cy="1301.2" rx="20.5" ry="26.5" fill="#03073e"/>
<ellipse cx="614.7" cy="1313.6" rx="22.3" ry="24.4" fill="#03073e"/>
<ellipse cx="635.7" cy="1285.3" rx="22.3" ry="26.5" fill="#03073e"/>
<ellipse cx="460.8" cy="1324.9" rx="12.4" ry="20.5" fill="#03073e"/>
<ellipse cx="495.8" cy="1337.3" rx="28.6" ry="22.3" fill="#03073e"/>
<ellipse cx="552.4" cy="1346.4" rx="28.6" ry="26.5" fill="#03073e"/>
<ellipse cx="614.7" cy="1346.4" rx="32.5" ry="26.5" fill="#03073e"/>
<ellipse cx="574.0" cy="1364.4" rx="26.5" ry="22.3" fill="#03073e"/>
<ellipse cx="528.6" cy="1371.3" rx="26.5" ry="22.3" fill="#03073e"/>
<ellipse cx="464.1" cy="1386.1" rx="16.3" ry="20.5" fill="#03073e"/>
<ellipse cx="584.0" cy="1392.9" rx="28.6" ry="24.4" fill="#03073e"/>
<ellipse cx="550.2" cy="1405.3" rx="18.4" ry="22.3" fill="#03073e"/>
<ellipse cx="500.3" cy="1413.4" rx="22.3" ry="26.5" fill="#03073e"/>
<ellipse cx="599.9" cy="1414.4" rx="28.6" ry="28.6" fill="#03073e"/>
<ellipse cx="636.1" cy="1420.1" rx="26.5" ry="24.4" fill="#03073e"/>
<ellipse cx="556.9" cy="1437.0" rx="32.5" ry="20.5" fill="#03073e"/>
<ellipse cx="541.0" cy="1267.2" rx="28.6" ry="12.4" fill="#03073e"/>
<ellipse cx="494.8" cy="1266.2" rx="21.2" ry="10.6" fill="#03073e"/>
</g>
<g mask="url(#mk_r1c3)"><rect x="455.50" y="1260.30" width="196.5" height="196.5" fill="#000" filter="url(#speck)" opacity="0.85"/></g>
<g filter="url(#blur1)">
<ellipse cx="478.9" cy="1295.5" rx="13.6" ry="12.4" fill="rgb(7,11,150)"/>
<ellipse cx="533.1" cy="1314.7" rx="13.6" ry="13.6" fill="rgb(7,11,150)"/>
<ellipse cx="569.3" cy="1314.7" rx="13.6" ry="13.6" fill="rgb(9,15,194)"/>
<ellipse cx="592.1" cy="1301.2" rx="11.4" ry="14.7" fill="rgb(9,15,194)"/>
<ellipse cx="614.7" cy="1313.6" rx="12.4" ry="13.6" fill="rgb(8,14,185)"/>
<ellipse cx="635.7" cy="1285.3" rx="12.4" ry="14.7" fill="rgb(10,17,221)"/>
<ellipse cx="460.8" cy="1324.9" rx="6.9" ry="11.4" fill="rgb(8,13,176)"/>
<ellipse cx="495.8" cy="1337.3" rx="15.9" ry="12.4" fill="rgb(6,10,141)"/>
<ellipse cx="552.4" cy="1346.4" rx="15.9" ry="14.7" fill="rgb(9,16,203)"/>
<ellipse cx="614.7" cy="1346.4" rx="18.1" ry="14.7" fill="rgb(9,16,203)"/>
<ellipse cx="574.0" cy="1364.4" rx="14.7" ry="12.4" fill="rgb(9,15,194)"/>
<ellipse cx="528.6" cy="1371.3" rx="14.7" ry="12.4" fill="rgb(10,16,212)"/>
<ellipse cx="464.1" cy="1386.1" rx="9.0" ry="11.4" fill="rgb(7,12,167)"/>
<ellipse cx="584.0" cy="1392.9" rx="15.9" ry="13.6" fill="rgb(8,13,176)"/>
<ellipse cx="550.2" cy="1405.3" rx="10.2" ry="12.4" fill="rgb(7,11,150)"/>
<ellipse cx="500.3" cy="1413.4" rx="12.4" ry="14.7" fill="rgb(9,15,194)"/>
<ellipse cx="599.9" cy="1414.4" rx="15.9" ry="15.9" fill="rgb(8,13,176)"/>
<ellipse cx="636.1" cy="1420.1" rx="14.7" ry="13.6" fill="rgb(8,13,176)"/>
<ellipse cx="556.9" cy="1437.0" rx="18.1" ry="11.4" fill="rgb(7,11,150)"/>
<ellipse cx="541.0" cy="1267.2" rx="15.9" ry="6.9" fill="rgb(6,10,141)"/>
<ellipse cx="494.8" cy="1266.2" rx="11.8" ry="5.9" fill="rgb(6,9,132)"/>
</g>
<g filter="url(#nuctex)" opacity="0.45">
<ellipse cx="478.9" cy="1295.5" rx="13.6" ry="12.4" fill="#000"/>
<ellipse cx="533.1" cy="1314.7" rx="13.6" ry="13.6" fill="#000"/>
<ellipse cx="569.3" cy="1314.7" rx="13.6" ry="13.6" fill="#000"/>
<ellipse cx="592.1" cy="1301.2" rx="11.4" ry="14.7" fill="#000"/>
<ellipse cx="614.7" cy="1313.6" rx="12.4" ry="13.6" fill="#000"/>
<ellipse cx="635.7" cy="1285.3" rx="12.4" ry="14.7" fill="#000"/>
<ellipse cx="460.8" cy="1324.9" rx="6.9" ry="11.4" fill="#000"/>
<ellipse cx="495.8" cy="1337.3" rx="15.9" ry="12.4" fill="#000"/>
<ellipse cx="552.4" cy="1346.4" rx="15.9" ry="14.7" fill="#000"/>
<ellipse cx="614.7" cy="1346.4" rx="18.1" ry="14.7" fill="#000"/>
<ellipse cx="574.0" cy="1364.4" rx="14.7" ry="12.4" fill="#000"/>
<ellipse cx="528.6" cy="1371.3" rx="14.7" ry="12.4" fill="#000"/>
<ellipse cx="464.1" cy="1386.1" rx="9.0" ry="11.4" fill="#000"/>
<ellipse cx="584.0" cy="1392.9" rx="15.9" ry="13.6" fill="#000"/>
<ellipse cx="550.2" cy="1405.3" rx="10.2" ry="12.4" fill="#000"/>
<ellipse cx="500.3" cy="1413.4" rx="12.4" ry="14.7" fill="#000"/>
<ellipse cx="599.9" cy="1414.4" rx="15.9" ry="15.9" fill="#000"/>
<ellipse cx="636.1" cy="1420.1" rx="14.7" ry="13.6" fill="#000"/>
<ellipse cx="556.9" cy="1437.0" rx="18.1" ry="11.4" fill="#000"/>
<ellipse cx="541.0" cy="1267.2" rx="15.9" ry="6.9" fill="#000"/>
<ellipse cx="494.8" cy="1266.2" rx="11.8" ry="5.9" fill="#000"/>
</g>
</g>
<g clip-path="url(#cp_r1c4)">
<rect x="659.50" y="1260.30" width="196.50" height="196.50" fill="#02020c" />
<g filter="url(#blur6)" opacity="0.45">
<ellipse cx="701.4" cy="1288.6" rx="30.4" ry="22.3" fill="#03073e"/>
<ellipse cx="750.1" cy="1264.8" rx="16.3" ry="10.3" fill="#03073e"/>
<ellipse cx="803.3" cy="1267.2" rx="20.5" ry="14.1" fill="#03073e"/>
<ellipse cx="830.5" cy="1270.5" rx="16.3" ry="18.4" fill="#03073e"/>
<ellipse cx="785.1" cy="1304.5" rx="20.5" ry="26.5" fill="#03073e"/>
<ellipse cx="840.7" cy="1306.7" rx="22.3" ry="26.5" fill="#03073e"/>
<ellipse cx="854.0" cy="1287.4" rx="8.1" ry="16.3" fill="#03073e"/>
<ellipse cx="669.7" cy="1320.4" rx="18.4" ry="22.3" fill="#03073e"/>
<ellipse cx="735.2" cy="1328.3" rx="24.4" ry="26.5" fill="#03073e"/>
<ellipse cx="697.0" cy="1343.0" rx="28.6" ry="24.4" fill="#03073e"/>
<ellipse cx="819.1" cy="1341.8" rx="20.5" ry="20.5" fill="#03073e"/>
<ellipse cx="846.2" cy="1348.7" rx="18.4" ry="20.5" fill="#03073e"/>
<ellipse cx="785.1" cy="1355.4" rx="24.4" ry="22.3" fill="#03073e"/>
<ellipse cx="854.0" cy="1326.1" rx="6.0" ry="16.3" fill="#03073e"/>
<ellipse cx="668.5" cy="1362.3" rx="16.3" ry="20.5" fill="#03073e"/>
<ellipse cx="737.5" cy="1384.9" rx="26.5" ry="24.4" fill="#03073e"/>
<ellipse cx="802.2" cy="1389.4" rx="20.5" ry="22.3" fill="#03073e"/>
<ellipse cx="836.2" cy="1386.1" rx="20.5" ry="22.3" fill="#03073e"/>
<ellipse cx="669.7" cy="1409.8" rx="20.5" ry="22.3" fill="#03073e"/>
<ellipse cx="690.2" cy="1429.1" rx="22.3" ry="18.4" fill="#03073e"/>
<ellipse cx="731.0" cy="1429.1" rx="18.4" ry="20.5" fill="#03073e"/>
<ellipse cx="767.0" cy="1428.1" rx="28.6" ry="28.6" fill="#03073e"/>
<ellipse cx="836.2" cy="1422.4" rx="22.3" ry="22.3" fill="#03073e"/>
<ellipse cx="787.4" cy="1450.7" rx="22.3" ry="10.3" fill="#03073e"/>
<ellipse cx="836.2" cy="1451.9" rx="16.3" ry="10.3" fill="#03073e"/>
</g>
<g filter="url(#blur1)">
<ellipse cx="701.4" cy="1288.6" rx="16.9" ry="12.4" fill="rgb(8,14,185)"/>
<ellipse cx="750.1" cy="1264.8" rx="9.0" ry="5.7" fill="rgb(8,13,176)"/>
<ellipse cx="803.3" cy="1267.2" rx="11.4" ry="7.9" fill="rgb(7,12,159)"/>
<ellipse cx="830.5" cy="1270.5" rx="9.0" ry="10.2" fill="rgb(8,13,176)"/>
<ellipse cx="785.1" cy="1304.5" rx="11.4" ry="14.7" fill="rgb(8,13,176)"/>
<ellipse cx="840.7" cy="1306.7" rx="12.4" ry="14.7" fill="rgb(8,13,176)"/>
<ellipse cx="854.0" cy="1287.4" rx="4.5" ry="9.0" fill="rgb(8,13,176)"/>
<ellipse cx="669.7" cy="1320.4" rx="10.2" ry="12.4" fill="rgb(8,13,176)"/>
<ellipse cx="735.2" cy="1328.3" rx="13.6" ry="14.7" fill="rgb(8,13,176)"/>
<ellipse cx="697.0" cy="1343.0" rx="15.9" ry="13.6" fill="rgb(10,17,221)"/>
<ellipse cx="819.1" cy="1341.8" rx="11.4" ry="11.4" fill="rgb(11,19,239)"/>
<ellipse cx="846.2" cy="1348.7" rx="10.2" ry="11.4" fill="rgb(11,19,239)"/>
<ellipse cx="785.1" cy="1355.4" rx="13.6" ry="12.4" fill="rgb(7,11,150)"/>
<ellipse cx="854.0" cy="1326.1" rx="3.3" ry="9.0" fill="rgb(8,13,176)"/>
<ellipse cx="668.5" cy="1362.3" rx="9.0" ry="11.4" fill="rgb(7,12,167)"/>
<ellipse cx="737.5" cy="1384.9" rx="14.7" ry="13.6" fill="rgb(10,17,221)"/>
<ellipse cx="802.2" cy="1389.4" rx="11.4" ry="12.4" fill="rgb(8,14,185)"/>
<ellipse cx="836.2" cy="1386.1" rx="11.4" ry="12.4" fill="rgb(9,15,194)"/>
<ellipse cx="669.7" cy="1409.8" rx="11.4" ry="12.4" fill="rgb(7,12,159)"/>
<ellipse cx="690.2" cy="1429.1" rx="12.4" ry="10.2" fill="rgb(8,13,176)"/>
<ellipse cx="731.0" cy="1429.1" rx="10.2" ry="11.4" fill="rgb(7,12,167)"/>
<ellipse cx="767.0" cy="1428.1" rx="15.9" ry="15.9" fill="rgb(10,17,221)"/>
<ellipse cx="836.2" cy="1422.4" rx="12.4" ry="12.4" fill="rgb(8,13,176)"/>
<ellipse cx="787.4" cy="1450.7" rx="12.4" ry="5.7" fill="rgb(7,12,159)"/>
<ellipse cx="836.2" cy="1451.9" rx="9.0" ry="5.7" fill="rgb(7,12,159)"/>
</g>
<g filter="url(#nuctex)" opacity="0.45">
<ellipse cx="701.4" cy="1288.6" rx="16.9" ry="12.4" fill="#000"/>
<ellipse cx="750.1" cy="1264.8" rx="9.0" ry="5.7" fill="#000"/>
<ellipse cx="803.3" cy="1267.2" rx="11.4" ry="7.9" fill="#000"/>
<ellipse cx="830.5" cy="1270.5" rx="9.0" ry="10.2" fill="#000"/>
<ellipse cx="785.1" cy="1304.5" rx="11.4" ry="14.7" fill="#000"/>
<ellipse cx="840.7" cy="1306.7" rx="12.4" ry="14.7" fill="#000"/>
<ellipse cx="854.0" cy="1287.4" rx="4.5" ry="9.0" fill="#000"/>
<ellipse cx="669.7" cy="1320.4" rx="10.2" ry="12.4" fill="#000"/>
<ellipse cx="735.2" cy="1328.3" rx="13.6" ry="14.7" fill="#000"/>
<ellipse cx="697.0" cy="1343.0" rx="15.9" ry="13.6" fill="#000"/>
<ellipse cx="819.1" cy="1341.8" rx="11.4" ry="11.4" fill="#000"/>
<ellipse cx="846.2" cy="1348.7" rx="10.2" ry="11.4" fill="#000"/>
<ellipse cx="785.1" cy="1355.4" rx="13.6" ry="12.4" fill="#000"/>
<ellipse cx="854.0" cy="1326.1" rx="3.3" ry="9.0" fill="#000"/>
<ellipse cx="668.5" cy="1362.3" rx="9.0" ry="11.4" fill="#000"/>
<ellipse cx="737.5" cy="1384.9" rx="14.7" ry="13.6" fill="#000"/>
<ellipse cx="802.2" cy="1389.4" rx="11.4" ry="12.4" fill="#000"/>
<ellipse cx="836.2" cy="1386.1" rx="11.4" ry="12.4" fill="#000"/>
<ellipse cx="669.7" cy="1409.8" rx="11.4" ry="12.4" fill="#000"/>
<ellipse cx="690.2" cy="1429.1" rx="12.4" ry="10.2" fill="#000"/>
<ellipse cx="731.0" cy="1429.1" rx="10.2" ry="11.4" fill="#000"/>
<ellipse cx="767.0" cy="1428.1" rx="15.9" ry="15.9" fill="#000"/>
<ellipse cx="836.2" cy="1422.4" rx="12.4" ry="12.4" fill="#000"/>
<ellipse cx="787.4" cy="1450.7" rx="12.4" ry="5.7" fill="#000"/>
<ellipse cx="836.2" cy="1451.9" rx="9.0" ry="5.7" fill="#000"/>
</g>
</g>
<g clip-path="url(#cp_r2c1)">
<rect x="48.90" y="1463.50" width="196.50" height="196.50" fill="#02020c" />
<g filter="url(#blur6)" opacity="0.45">
<ellipse cx="131.0" cy="1478.2" rx="28.6" ry="24.4" fill="#03073e"/>
<ellipse cx="205.7" cy="1480.6" rx="32.5" ry="28.6" fill="#03073e"/>
<ellipse cx="91.5" cy="1488.5" rx="16.3" ry="20.5" fill="#03073e"/>
<ellipse cx="57.5" cy="1502.2" rx="18.4" ry="26.5" fill="#03073e"/>
<ellipse cx="68.7" cy="1528.1" rx="20.5" ry="22.3" fill="#03073e"/>
<ellipse cx="117.5" cy="1526.0" rx="24.4" ry="24.4" fill="#03073e"/>
<ellipse cx="165.0" cy="1529.3" rx="26.5" ry="28.6" fill="#03073e"/>
<ellipse cx="243.0" cy="1539.5" rx="6.0" ry="22.3" fill="#03073e"/>
<ellipse cx="66.6" cy="1560.0" rx="16.3" ry="20.5" fill="#03073e"/>
<ellipse cx="90.4" cy="1569.2" rx="22.3" ry="22.3" fill="#03073e"/>
<ellipse cx="201.2" cy="1560.0" rx="26.5" ry="30.8" fill="#03073e"/>
<ellipse cx="165.0" cy="1574.7" rx="22.3" ry="26.5" fill="#03073e"/>
<ellipse cx="57.5" cy="1590.6" rx="16.3" ry="28.6" fill="#03073e"/>
<ellipse cx="131.0" cy="1594.2" rx="28.6" ry="26.5" fill="#03073e"/>
<ellipse cx="181.9" cy="1608.9" rx="22.3" ry="22.3" fill="#03073e"/>
<ellipse cx="240.9" cy="1604.4" rx="8.1" ry="20.5" fill="#03073e"/>
<ellipse cx="72.1" cy="1626.0" rx="26.5" ry="24.4" fill="#03073e"/>
<ellipse cx="118.7" cy="1647.4" rx="26.5" ry="20.5" fill="#03073e"/>
<ellipse cx="201.2" cy="1637.2" rx="28.6" ry="24.4" fill="#03073e"/>
<ellipse cx="222.8" cy="1654.3" rx="16.3" ry="12.4" fill="#03073e"/>
</g>
<g filter="url(#blur1)">
<ellipse cx="131.0" cy="1478.2" rx="15.9" ry="13.6" fill="rgb(9,16,203)"/>
<ellipse cx="205.7" cy="1480.6" rx="18.1" ry="15.9" fill="rgb(9,16,203)"/>
<ellipse cx="91.5" cy="1488.5" rx="9.0" ry="11.4" fill="rgb(9,15,194)"/>
<ellipse cx="57.5" cy="1502.2" rx="10.2" ry="14.7" fill="rgb(8,13,176)"/>
<ellipse cx="68.7" cy="1528.1" rx="11.4" ry="12.4" fill="rgb(9,15,194)"/>
<ellipse cx="117.5" cy="1526.0" rx="13.6" ry="13.6" fill="rgb(9,15,194)"/>
<ellipse cx="165.0" cy="1529.3" rx="14.7" ry="15.9" fill="rgb(9,15,194)"/>
<ellipse cx="243.0" cy="1539.5" rx="3.3" ry="12.4" fill="rgb(11,18,230)"/>
<ellipse cx="66.6" cy="1560.0" rx="9.0" ry="11.4" fill="rgb(9,15,194)"/>
<ellipse cx="90.4" cy="1569.2" rx="12.4" ry="12.4" fill="rgb(8,14,185)"/>
<ellipse cx="201.2" cy="1560.0" rx="14.7" ry="17.1" fill="rgb(11,19,239)"/>
<ellipse cx="165.0" cy="1574.7" rx="12.4" ry="14.7" fill="rgb(9,15,194)"/>
<ellipse cx="57.5" cy="1590.6" rx="9.0" ry="15.9" fill="rgb(9,16,203)"/>
<ellipse cx="131.0" cy="1594.2" rx="15.9" ry="14.7" fill="rgb(8,14,185)"/>
<ellipse cx="181.9" cy="1608.9" rx="12.4" ry="12.4" fill="rgb(9,16,203)"/>
<ellipse cx="240.9" cy="1604.4" rx="4.5" ry="11.4" fill="rgb(10,17,221)"/>
<ellipse cx="72.1" cy="1626.0" rx="14.7" ry="13.6" fill="rgb(9,15,194)"/>
<ellipse cx="118.7" cy="1647.4" rx="14.7" ry="11.4" fill="rgb(8,13,176)"/>
<ellipse cx="201.2" cy="1637.2" rx="15.9" ry="13.6" fill="rgb(8,13,176)"/>
<ellipse cx="222.8" cy="1654.3" rx="9.0" ry="6.9" fill="rgb(8,13,176)"/>
</g>
<g filter="url(#nuctex)" opacity="0.45">
<ellipse cx="131.0" cy="1478.2" rx="15.9" ry="13.6" fill="#000"/>
<ellipse cx="205.7" cy="1480.6" rx="18.1" ry="15.9" fill="#000"/>
<ellipse cx="91.5" cy="1488.5" rx="9.0" ry="11.4" fill="#000"/>
<ellipse cx="57.5" cy="1502.2" rx="10.2" ry="14.7" fill="#000"/>
<ellipse cx="68.7" cy="1528.1" rx="11.4" ry="12.4" fill="#000"/>
<ellipse cx="117.5" cy="1526.0" rx="13.6" ry="13.6" fill="#000"/>
<ellipse cx="165.0" cy="1529.3" rx="14.7" ry="15.9" fill="#000"/>
<ellipse cx="243.0" cy="1539.5" rx="3.3" ry="12.4" fill="#000"/>
<ellipse cx="66.6" cy="1560.0" rx="9.0" ry="11.4" fill="#000"/>
<ellipse cx="90.4" cy="1569.2" rx="12.4" ry="12.4" fill="#000"/>
<ellipse cx="201.2" cy="1560.0" rx="14.7" ry="17.1" fill="#000"/>
<ellipse cx="165.0" cy="1574.7" rx="12.4" ry="14.7" fill="#000"/>
<ellipse cx="57.5" cy="1590.6" rx="9.0" ry="15.9" fill="#000"/>
<ellipse cx="131.0" cy="1594.2" rx="15.9" ry="14.7" fill="#000"/>
<ellipse cx="181.9" cy="1608.9" rx="12.4" ry="12.4" fill="#000"/>
<ellipse cx="240.9" cy="1604.4" rx="4.5" ry="11.4" fill="#000"/>
<ellipse cx="72.1" cy="1626.0" rx="14.7" ry="13.6" fill="#000"/>
<ellipse cx="118.7" cy="1647.4" rx="14.7" ry="11.4" fill="#000"/>
<ellipse cx="201.2" cy="1637.2" rx="15.9" ry="13.6" fill="#000"/>
<ellipse cx="222.8" cy="1654.3" rx="9.0" ry="6.9" fill="#000"/>
</g>
</g>
<g clip-path="url(#cp_r2c2)">
<rect x="252.30" y="1463.50" width="196.50" height="196.50" fill="#02020c" />
<g filter="url(#blur6)" opacity="0.45">
<ellipse cx="261.3" cy="1487.3" rx="18.4" ry="22.3" fill="#03073e"/>
<ellipse cx="281.8" cy="1519.1" rx="26.5" ry="26.5" fill="#03073e"/>
<ellipse cx="332.1" cy="1524.8" rx="24.4" ry="26.5" fill="#03073e"/>
<ellipse cx="377.9" cy="1485.1" rx="24.4" ry="24.4" fill="#03073e"/>
<ellipse cx="395.0" cy="1516.9" rx="30.4" ry="30.4" fill="#03073e"/>
<ellipse cx="407.3" cy="1474.9" rx="20.5" ry="18.4" fill="#03073e"/>
<ellipse cx="342.9" cy="1470.4" rx="24.4" ry="12.4" fill="#03073e"/>
<ellipse cx="447.8" cy="1487.3" rx="6.0" ry="18.4" fill="#03073e"/>
<ellipse cx="269.0" cy="1574.7" rx="24.4" ry="28.6" fill="#03073e"/>
<ellipse cx="331.5" cy="1568.0" rx="24.4" ry="26.5" fill="#03073e"/>
<ellipse cx="383.6" cy="1561.2" rx="26.5" ry="26.5" fill="#03073e"/>
<ellipse cx="417.6" cy="1562.3" rx="26.5" ry="22.3" fill="#03073e"/>
<ellipse cx="359.8" cy="1591.8" rx="26.5" ry="28.6" fill="#03073e"/>
<ellipse cx="395.0" cy="1588.5" rx="28.6" ry="22.3" fill="#03073e"/>
<ellipse cx="271.6" cy="1617.9" rx="22.3" ry="24.4" fill="#03073e"/>
<ellipse cx="414.2" cy="1614.6" rx="30.4" ry="22.3" fill="#03073e"/>
<ellipse cx="364.5" cy="1645.3" rx="24.4" ry="22.3" fill="#03073e"/>
<ellipse cx="280.6" cy="1647.4" rx="28.6" ry="20.5" fill="#03073e"/>
<ellipse cx="434.5" cy="1648.6" rx="24.4" ry="18.4" fill="#03073e"/>
</g>
<g filter="url(#blur1)">
<ellipse cx="261.3" cy="1487.3" rx="10.2" ry="12.4" fill="rgb(7,11,150)"/>
<ellipse cx="281.8" cy="1519.1" rx="14.7" ry="14.7" fill="rgb(7,11,150)"/>
<ellipse cx="332.1" cy="1524.8" rx="13.6" ry="14.7" fill="rgb(8,13,176)"/>
<ellipse cx="377.9" cy="1485.1" rx="13.6" ry="13.6" fill="rgb(7,12,159)"/>
<ellipse cx="395.0" cy="1516.9" rx="16.9" ry="16.9" fill="rgb(9,15,194)"/>
<ellipse cx="407.3" cy="1474.9" rx="11.4" ry="10.2" fill="rgb(6,10,141)"/>
<ellipse cx="342.9" cy="1470.4" rx="13.6" ry="6.9" fill="rgb(6,10,141)"/>
<ellipse cx="447.8" cy="1487.3" rx="3.3" ry="10.2" fill="rgb(7,12,159)"/>
<ellipse cx="269.0" cy="1574.7" rx="13.6" ry="15.9" fill="rgb(7,12,167)"/>
<ellipse cx="331.5" cy="1568.0" rx="13.6" ry="14.7" fill="rgb(8,13,176)"/>
<ellipse cx="383.6" cy="1561.2" rx="14.7" ry="14.7" fill="rgb(8,14,185)"/>
<ellipse cx="417.6" cy="1562.3" rx="14.7" ry="12.4" fill="rgb(8,14,185)"/>
<ellipse cx="359.8" cy="1591.8" rx="14.7" ry="15.9" fill="rgb(8,13,176)"/>
<ellipse cx="395.0" cy="1588.5" rx="15.9" ry="12.4" fill="rgb(8,13,176)"/>
<ellipse cx="271.6" cy="1617.9" rx="12.4" ry="13.6" fill="rgb(7,11,150)"/>
<ellipse cx="414.2" cy="1614.6" rx="16.9" ry="12.4" fill="rgb(8,13,176)"/>
<ellipse cx="364.5" cy="1645.3" rx="13.6" ry="12.4" fill="rgb(7,11,150)"/>
<ellipse cx="280.6" cy="1647.4" rx="15.9" ry="11.4" fill="rgb(6,9,132)"/>
<ellipse cx="434.5" cy="1648.6" rx="13.6" ry="10.2" fill="rgb(6,9,132)"/>
</g>
<g filter="url(#nuctex)" opacity="0.45">
<ellipse cx="261.3" cy="1487.3" rx="10.2" ry="12.4" fill="#000"/>
<ellipse cx="281.8" cy="1519.1" rx="14.7" ry="14.7" fill="#000"/>
<ellipse cx="332.1" cy="1524.8" rx="13.6" ry="14.7" fill="#000"/>
<ellipse cx="377.9" cy="1485.1" rx="13.6" ry="13.6" fill="#000"/>
<ellipse cx="395.0" cy="1516.9" rx="16.9" ry="16.9" fill="#000"/>
<ellipse cx="407.3" cy="1474.9" rx="11.4" ry="10.2" fill="#000"/>
<ellipse cx="342.9" cy="1470.4" rx="13.6" ry="6.9" fill="#000"/>
<ellipse cx="447.8" cy="1487.3" rx="3.3" ry="10.2" fill="#000"/>
<ellipse cx="269.0" cy="1574.7" rx="13.6" ry="15.9" fill="#000"/>
<ellipse cx="331.5" cy="1568.0" rx="13.6" ry="14.7" fill="#000"/>
<ellipse cx="383.6" cy="1561.2" rx="14.7" ry="14.7" fill="#000"/>
<ellipse cx="417.6" cy="1562.3" rx="14.7" ry="12.4" fill="#000"/>
<ellipse cx="359.8" cy="1591.8" rx="14.7" ry="15.9" fill="#000"/>
<ellipse cx="395.0" cy="1588.5" rx="15.9" ry="12.4" fill="#000"/>
<ellipse cx="271.6" cy="1617.9" rx="12.4" ry="13.6" fill="#000"/>
<ellipse cx="414.2" cy="1614.6" rx="16.9" ry="12.4" fill="#000"/>
<ellipse cx="364.5" cy="1645.3" rx="13.6" ry="12.4" fill="#000"/>
<ellipse cx="280.6" cy="1647.4" rx="15.9" ry="11.4" fill="#000"/>
<ellipse cx="434.5" cy="1648.6" rx="13.6" ry="10.2" fill="#000"/>
</g>
</g>
<g clip-path="url(#cp_r2c3)">
<rect x="455.50" y="1463.50" width="196.50" height="196.50" fill="#02020c" />
<g filter="url(#blur6)" opacity="0.45">
<ellipse cx="467.5" cy="1487.3" rx="22.3" ry="28.6" fill="#03073e"/>
<ellipse cx="529.8" cy="1470.4" rx="24.4" ry="14.1" fill="#03073e"/>
<ellipse cx="565.9" cy="1485.1" rx="24.4" ry="22.3" fill="#03073e"/>
<ellipse cx="623.7" cy="1473.7" rx="26.5" ry="20.5" fill="#03073e"/>
<ellipse cx="645.1" cy="1490.8" rx="12.4" ry="22.3" fill="#03073e"/>
<ellipse cx="541.0" cy="1511.2" rx="26.5" ry="22.3" fill="#03073e"/>
<ellipse cx="586.4" cy="1521.5" rx="26.5" ry="24.4" fill="#03073e"/>
<ellipse cx="639.6" cy="1520.3" rx="22.3" ry="22.3" fill="#03073e"/>
<ellipse cx="494.6" cy="1533.8" rx="24.4" ry="26.5" fill="#03073e"/>
<ellipse cx="466.3" cy="1555.5" rx="20.5" ry="22.3" fill="#03073e"/>
<ellipse cx="519.6" cy="1562.3" rx="26.5" ry="30.8" fill="#03073e"/>
<ellipse cx="592.1" cy="1559.0" rx="22.3" ry="20.5" fill="#03073e"/>
<ellipse cx="647.5" cy="1554.3" rx="10.3" ry="24.4" fill="#03073e"/>
<ellipse cx="558.1" cy="1582.8" rx="26.5" ry="26.5" fill="#03073e"/>
<ellipse cx="601.1" cy="1581.6" rx="24.4" ry="22.3" fill="#03073e"/>
<ellipse cx="490.1" cy="1595.2" rx="18.4" ry="22.3" fill="#03073e"/>
<ellipse cx="465.3" cy="1600.9" rx="18.4" ry="22.3" fill="#03073e"/>
<ellipse cx="510.5" cy="1615.8" rx="26.5" ry="30.8" fill="#03073e"/>
<ellipse cx="551.2" cy="1622.5" rx="24.4" ry="24.4" fill="#03073e"/>
<ellipse cx="593.0" cy="1614.6" rx="26.5" ry="26.5" fill="#03073e"/>
<ellipse cx="623.7" cy="1638.4" rx="22.3" ry="20.5" fill="#03073e"/>
<ellipse cx="477.7" cy="1647.4" rx="28.6" ry="20.5" fill="#03073e"/>
</g>
<g filter="url(#blur1)">
<ellipse cx="467.5" cy="1487.3" rx="12.4" ry="15.9" fill="rgb(7,12,167)"/>
<ellipse cx="529.8" cy="1470.4" rx="13.6" ry="7.9" fill="rgb(7,12,159)"/>
<ellipse cx="565.9" cy="1485.1" rx="13.6" ry="12.4" fill="rgb(8,13,176)"/>
<ellipse cx="623.7" cy="1473.7" rx="14.7" ry="11.4" fill="rgb(8,13,176)"/>
<ellipse cx="645.1" cy="1490.8" rx="6.9" ry="12.4" fill="rgb(7,12,159)"/>
<ellipse cx="541.0" cy="1511.2" rx="14.7" ry="12.4" fill="rgb(8,14,185)"/>
<ellipse cx="586.4" cy="1521.5" rx="14.7" ry="13.6" fill="rgb(8,14,185)"/>
<ellipse cx="639.6" cy="1520.3" rx="12.4" ry="12.4" fill="rgb(8,14,185)"/>
<ellipse cx="494.6" cy="1533.8" rx="13.6" ry="14.7" fill="rgb(8,14,185)"/>
<ellipse cx="466.3" cy="1555.5" rx="11.4" ry="12.4" fill="rgb(8,13,176)"/>
<ellipse cx="519.6" cy="1562.3" rx="14.7" ry="17.1" fill="rgb(9,15,194)"/>
<ellipse cx="592.1" cy="1559.0" rx="12.4" ry="11.4" fill="rgb(7,12,159)"/>
<ellipse cx="647.5" cy="1554.3" rx="5.7" ry="13.6" fill="rgb(9,15,194)"/>
<ellipse cx="558.1" cy="1582.8" rx="14.7" ry="14.7" fill="rgb(9,15,194)"/>
<ellipse cx="601.1" cy="1581.6" rx="13.6" ry="12.4" fill="rgb(10,16,212)"/>
<ellipse cx="490.1" cy="1595.2" rx="10.2" ry="12.4" fill="rgb(9,15,194)"/>
<ellipse cx="465.3" cy="1600.9" rx="10.2" ry="12.4" fill="rgb(8,13,176)"/>
<ellipse cx="510.5" cy="1615.8" rx="14.7" ry="17.1" fill="rgb(7,12,159)"/>
<ellipse cx="551.2" cy="1622.5" rx="13.6" ry="13.6" fill="rgb(8,14,185)"/>
<ellipse cx="593.0" cy="1614.6" rx="14.7" ry="14.7" fill="rgb(8,14,185)"/>
<ellipse cx="623.7" cy="1638.4" rx="12.4" ry="11.4" fill="rgb(8,13,176)"/>
<ellipse cx="477.7" cy="1647.4" rx="15.9" ry="11.4" fill="rgb(7,11,150)"/>
</g>
<g filter="url(#nuctex)" opacity="0.45">
<ellipse cx="467.5" cy="1487.3" rx="12.4" ry="15.9" fill="#000"/>
<ellipse cx="529.8" cy="1470.4" rx="13.6" ry="7.9" fill="#000"/>
<ellipse cx="565.9" cy="1485.1" rx="13.6" ry="12.4" fill="#000"/>
<ellipse cx="623.7" cy="1473.7" rx="14.7" ry="11.4" fill="#000"/>
<ellipse cx="645.1" cy="1490.8" rx="6.9" ry="12.4" fill="#000"/>
<ellipse cx="541.0" cy="1511.2" rx="14.7" ry="12.4" fill="#000"/>
<ellipse cx="586.4" cy="1521.5" rx="14.7" ry="13.6" fill="#000"/>
<ellipse cx="639.6" cy="1520.3" rx="12.4" ry="12.4" fill="#000"/>
<ellipse cx="494.6" cy="1533.8" rx="13.6" ry="14.7" fill="#000"/>
<ellipse cx="466.3" cy="1555.5" rx="11.4" ry="12.4" fill="#000"/>
<ellipse cx="519.6" cy="1562.3" rx="14.7" ry="17.1" fill="#000"/>
<ellipse cx="592.1" cy="1559.0" rx="12.4" ry="11.4" fill="#000"/>
<ellipse cx="647.5" cy="1554.3" rx="5.7" ry="13.6" fill="#000"/>
<ellipse cx="558.1" cy="1582.8" rx="14.7" ry="14.7" fill="#000"/>
<ellipse cx="601.1" cy="1581.6" rx="13.6" ry="12.4" fill="#000"/>
<ellipse cx="490.1" cy="1595.2" rx="10.2" ry="12.4" fill="#000"/>
<ellipse cx="465.3" cy="1600.9" rx="10.2" ry="12.4" fill="#000"/>
<ellipse cx="510.5" cy="1615.8" rx="14.7" ry="17.1" fill="#000"/>
<ellipse cx="551.2" cy="1622.5" rx="13.6" ry="13.6" fill="#000"/>
<ellipse cx="593.0" cy="1614.6" rx="14.7" ry="14.7" fill="#000"/>
<ellipse cx="623.7" cy="1638.4" rx="12.4" ry="11.4" fill="#000"/>
<ellipse cx="477.7" cy="1647.4" rx="15.9" ry="11.4" fill="#000"/>
</g>
</g>
<g clip-path="url(#cp_r2c4)">
<rect x="659.50" y="1463.50" width="196.50" height="196.50" fill="#02020c" />
<g filter="url(#blur6)" opacity="0.45">
<ellipse cx="679.9" cy="1468.0" rx="16.3" ry="10.3" fill="#03073e"/>
<ellipse cx="734.8" cy="1472.5" rx="24.4" ry="16.3" fill="#03073e"/>
<ellipse cx="849.7" cy="1473.7" rx="12.4" ry="16.3" fill="#03073e"/>
<ellipse cx="710.0" cy="1503.2" rx="26.5" ry="24.4" fill="#03073e"/>
<ellipse cx="774.8" cy="1505.6" rx="28.6" ry="26.5" fill="#03073e"/>
<ellipse cx="807.7" cy="1524.8" rx="22.3" ry="26.5" fill="#03073e"/>
<ellipse cx="845.2" cy="1529.3" rx="20.5" ry="22.3" fill="#03073e"/>
<ellipse cx="661.9" cy="1531.7" rx="6.0" ry="16.3" fill="#03073e"/>
<ellipse cx="729.7" cy="1547.6" rx="26.5" ry="28.6" fill="#03073e"/>
<ellipse cx="780.5" cy="1541.9" rx="24.4" ry="26.5" fill="#03073e"/>
<ellipse cx="687.8" cy="1562.3" rx="24.4" ry="26.5" fill="#03073e"/>
<ellipse cx="766.8" cy="1565.7" rx="22.3" ry="22.3" fill="#03073e"/>
<ellipse cx="844.0" cy="1565.7" rx="22.3" ry="26.5" fill="#03073e"/>
<ellipse cx="676.2" cy="1590.6" rx="24.4" ry="24.4" fill="#03073e"/>
<ellipse cx="728.5" cy="1584.9" rx="20.5" ry="22.3" fill="#03073e"/>
<ellipse cx="801.0" cy="1586.1" rx="18.4" ry="26.5" fill="#03073e"/>
<ellipse cx="722.4" cy="1619.1" rx="24.4" ry="26.5" fill="#03073e"/>
<ellipse cx="754.4" cy="1613.4" rx="24.4" ry="24.4" fill="#03073e"/>
<ellipse cx="780.5" cy="1611.1" rx="18.4" ry="24.4" fill="#03073e"/>
<ellipse cx="679.9" cy="1630.5" rx="28.6" ry="22.3" fill="#03073e"/>
<ellipse cx="803.1" cy="1636.2" rx="20.5" ry="18.4" fill="#03073e"/>
<ellipse cx="829.3" cy="1632.7" rx="26.5" ry="22.3" fill="#03073e"/>
<ellipse cx="777.2" cy="1645.3" rx="22.3" ry="20.5" fill="#03073e"/>
<ellipse cx="809.6" cy="1654.3" rx="18.4" ry="12.4" fill="#03073e"/>
<ellipse cx="853.1" cy="1608.9" rx="6.0" ry="18.4" fill="#03073e"/>
</g>
<g filter="url(#blur1)">
<ellipse cx="679.9" cy="1468.0" rx="9.0" ry="5.7" fill="rgb(6,10,141)"/>
<ellipse cx="734.8" cy="1472.5" rx="13.6" ry="9.0" fill="rgb(6,10,141)"/>
<ellipse cx="849.7" cy="1473.7" rx="6.9" ry="9.0" fill="rgb(6,10,141)"/>
<ellipse cx="710.0" cy="1503.2" rx="14.7" ry="13.6" fill="rgb(7,12,167)"/>
<ellipse cx="774.8" cy="1505.6" rx="15.9" ry="14.7" fill="rgb(9,15,194)"/>
<ellipse cx="807.7" cy="1524.8" rx="12.4" ry="14.7" fill="rgb(9,15,194)"/>
<ellipse cx="845.2" cy="1529.3" rx="11.4" ry="12.4" fill="rgb(9,15,194)"/>
<ellipse cx="661.9" cy="1531.7" rx="3.3" ry="9.0" fill="rgb(8,13,176)"/>
<ellipse cx="729.7" cy="1547.6" rx="14.7" ry="15.9" fill="rgb(9,16,203)"/>
<ellipse cx="780.5" cy="1541.9" rx="13.6" ry="14.7" fill="rgb(7,12,167)"/>
<ellipse cx="687.8" cy="1562.3" rx="13.6" ry="14.7" fill="rgb(8,13,176)"/>
<ellipse cx="766.8" cy="1565.7" rx="12.4" ry="12.4" fill="rgb(6,10,141)"/>
<ellipse cx="844.0" cy="1565.7" rx="12.4" ry="14.7" fill="rgb(8,14,185)"/>
<ellipse cx="676.2" cy="1590.6" rx="13.6" ry="13.6" fill="rgb(7,12,167)"/>
<ellipse cx="728.5" cy="1584.9" rx="11.4" ry="12.4" fill="rgb(9,15,194)"/>
<ellipse cx="801.0" cy="1586.1" rx="10.2" ry="14.7" fill="rgb(9,15,194)"/>
<ellipse cx="722.4" cy="1619.1" rx="13.6" ry="14.7" fill="rgb(8,13,176)"/>
<ellipse cx="754.4" cy="1613.4" rx="13.6" ry="13.6" fill="rgb(8,13,176)"/>
<ellipse cx="780.5" cy="1611.1" rx="10.2" ry="13.6" fill="rgb(8,14,185)"/>
<ellipse cx="679.9" cy="1630.5" rx="15.9" ry="12.4" fill="rgb(7,11,150)"/>
<ellipse cx="803.1" cy="1636.2" rx="11.4" ry="10.2" fill="rgb(8,13,176)"/>
<ellipse cx="829.3" cy="1632.7" rx="14.7" ry="12.4" fill="rgb(8,14,185)"/>
<ellipse cx="777.2" cy="1645.3" rx="12.4" ry="11.4" fill="rgb(7,12,159)"/>
<ellipse cx="809.6" cy="1654.3" rx="10.2" ry="6.9" fill="rgb(7,12,159)"/>
<ellipse cx="853.1" cy="1608.9" rx="3.3" ry="10.2" fill="rgb(8,13,176)"/>
</g>
<g filter="url(#nuctex)" opacity="0.45">
<ellipse cx="679.9" cy="1468.0" rx="9.0" ry="5.7" fill="#000"/>
<ellipse cx="734.8" cy="1472.5" rx="13.6" ry="9.0" fill="#000"/>
<ellipse cx="849.7" cy="1473.7" rx="6.9" ry="9.0" fill="#000"/>
<ellipse cx="710.0" cy="1503.2" rx="14.7" ry="13.6" fill="#000"/>
<ellipse cx="774.8" cy="1505.6" rx="15.9" ry="14.7" fill="#000"/>
<ellipse cx="807.7" cy="1524.8" rx="12.4" ry="14.7" fill="#000"/>
<ellipse cx="845.2" cy="1529.3" rx="11.4" ry="12.4" fill="#000"/>
<ellipse cx="661.9" cy="1531.7" rx="3.3" ry="9.0" fill="#000"/>
<ellipse cx="729.7" cy="1547.6" rx="14.7" ry="15.9" fill="#000"/>
<ellipse cx="780.5" cy="1541.9" rx="13.6" ry="14.7" fill="#000"/>
<ellipse cx="687.8" cy="1562.3" rx="13.6" ry="14.7" fill="#000"/>
<ellipse cx="766.8" cy="1565.7" rx="12.4" ry="12.4" fill="#000"/>
<ellipse cx="844.0" cy="1565.7" rx="12.4" ry="14.7" fill="#000"/>
<ellipse cx="676.2" cy="1590.6" rx="13.6" ry="13.6" fill="#000"/>
<ellipse cx="728.5" cy="1584.9" rx="11.4" ry="12.4" fill="#000"/>
<ellipse cx="801.0" cy="1586.1" rx="10.2" ry="14.7" fill="#000"/>
<ellipse cx="722.4" cy="1619.1" rx="13.6" ry="14.7" fill="#000"/>
<ellipse cx="754.4" cy="1613.4" rx="13.6" ry="13.6" fill="#000"/>
<ellipse cx="780.5" cy="1611.1" rx="10.2" ry="13.6" fill="#000"/>
<ellipse cx="679.9" cy="1630.5" rx="15.9" ry="12.4" fill="#000"/>
<ellipse cx="803.1" cy="1636.2" rx="11.4" ry="10.2" fill="#000"/>
<ellipse cx="829.3" cy="1632.7" rx="14.7" ry="12.4" fill="#000"/>
<ellipse cx="777.2" cy="1645.3" rx="12.4" ry="11.4" fill="#000"/>
<ellipse cx="809.6" cy="1654.3" rx="10.2" ry="6.9" fill="#000"/>
<ellipse cx="853.1" cy="1608.9" rx="3.3" ry="10.2" fill="#000"/>
</g>
</g>
<text x="35.00" y="1356.00" font-size="22" text-anchor="middle" transform="rotate(-90 35.00 1356.00)">WT</text>
<text x="35.00" y="1561.60" font-size="22" text-anchor="middle" transform="rotate(-90 35.00 1561.60)"><tspan font-style="italic">B4GALT7</tspan> KO</text>
<text x="212.40" y="1438.60" font-size="20.5" text-anchor="middle" fill="#fff">10 µm</text>
<line x1="221.50" y1="1446.00" x2="237.00" y2="1446.00" stroke="#fff" stroke-width="2.2" />
<text x="917.00" y="1244.50" font-size="47" font-weight="bold">g</text>
<text x="1163.20" y="1250.00" font-size="27.4" text-anchor="middle">Heparan sulfate (HS)</text>
<text x="1171.80" y="1666.70" font-size="27.4" text-anchor="middle">Chondroitin sulfate (CS)</text>
<path d="M948.7,1385.4 L968.8,1385.7 L995.2,1381.7 L1020.8,1380.4 L1049.5,1382.0 L1077.3,1383.4 L1106.5,1385.2 L1130.8,1376.6 L1151.3,1354.6 L1176.2,1339.3 L1205.7,1337.8 L1234.5,1343.0 L1260.3,1356.5 L1282.4,1373.7 L1307.6,1386.0 L1336.2,1390.6" fill="none" stroke="#231f20" stroke-width="1.1" />
<path d="M968.24,1375.01 L971.25,1381.93 L978.79,1381.87 L973.14,1386.86 L975.53,1394.02 L969.04,1390.19 L962.97,1394.67 L964.60,1387.31 L958.46,1382.93 L965.97,1382.21 Z" fill="#f7941d" stroke="#231f20" stroke-width="0.9" stroke-linejoin="miter"/>
<circle cx="995.20" cy="1381.70" r="7.8" fill="#fff100" stroke="#231f20" stroke-width="0.9"/>
<circle cx="1020.80" cy="1380.40" r="7.8" fill="#fff100" stroke="#231f20" stroke-width="0.9"/>
<path d="M1039.10,1382.00 L1059.90,1382.00 L1049.50,1392.50 Z" fill="#fff" stroke="#231f20" stroke-width="0.9" stroke-linejoin="miter"/>
<path d="M1039.10,1382.00 L1049.50,1371.50 L1059.90,1382.00 Z" fill="#1e77c0" stroke="#231f20" stroke-width="0.9" stroke-linejoin="miter"/>
<path d="M1069.73,1374.99 L1085.71,1375.83 L1084.87,1391.81 L1068.89,1390.97 Z" fill="#1e77c0" stroke="#231f20" stroke-width="0.9" stroke-linejoin="miter"/>
<path d="M1093.5,1375.5 L1090.5,1375.8 L1091.5,1395.5 L1094.5,1395.2" fill="none" stroke="#231f20" stroke-width="1.0" />
<path d="M1096.10,1385.20 L1116.90,1385.20 L1106.50,1395.70 Z" fill="#fff" stroke="#231f20" stroke-width="0.9" stroke-linejoin="miter"/>
<path d="M1096.10,1385.20 L1106.50,1374.70 L1116.90,1385.20 Z" fill="#1e77c0" stroke="#231f20" stroke-width="0.9" stroke-linejoin="miter"/>
<path d="M1119.66,1374.64 L1132.76,1365.46 L1141.94,1378.56 L1128.84,1387.74 Z" fill="#1e77c0" stroke="#231f20" stroke-width="0.9" stroke-linejoin="miter"/>
<path d="M1131.6,1362.6 L1132.9,1360.7 L1149.1,1373.6 L1147.4,1375.6" fill="none" stroke="#231f20" stroke-width="1.0" />
<text x="1154.00" y="1380.00" font-size="19" text-anchor="middle" font-style="italic" fill="#231f20" transform="rotate(32 1154.00 1380.00)">n</text>
<path d="M1142.89,1347.03 L1158.87,1346.19 L1143.73,1363.01 Z" fill="#fff" stroke="#231f20" stroke-width="0.9" stroke-linejoin="miter"/>
<path d="M1158.87,1346.19 L1159.71,1362.17 L1143.73,1363.01 Z" fill="#a38f83" stroke="#231f20" stroke-width="0.9" stroke-linejoin="miter"/>
<path d="M1166.93,1332.81 L1182.69,1330.03 L1185.47,1345.79 L1169.71,1348.57 Z" fill="#1e77c0" stroke="#231f20" stroke-width="0.9" stroke-linejoin="miter"/>
<path d="M1195.31,1338.16 L1216.09,1337.44 L1206.07,1348.29 Z" fill="#fff" stroke="#231f20" stroke-width="0.9" stroke-linejoin="miter"/>
<path d="M1195.31,1338.16 L1205.33,1327.31 L1216.09,1337.44 Z" fill="#1e77c0" stroke="#231f20" stroke-width="0.9" stroke-linejoin="miter"/>
<path d="M1229.62,1352.18 L1239.38,1333.82 L1243.77,1347.93 Z" fill="#1e77c0" stroke="#231f20" stroke-width="0.9" stroke-linejoin="miter"/>
<path d="M1229.62,1352.18 L1225.23,1338.07 L1239.38,1333.82 Z" fill="#fff" stroke="#231f20" stroke-width="0.9" stroke-linejoin="miter"/>
<text x="1228.00" y="1366.00" font-size="19.5" text-anchor="middle" font-style="italic" fill="#231f20" transform="rotate(25 1228.00 1366.00)">NS</text>
<path d="M1250.25,1359.19 L1270.35,1353.81 L1263.02,1366.64 Z" fill="#fff" stroke="#231f20" stroke-width="0.9" stroke-linejoin="miter"/>
<path d="M1250.25,1359.19 L1257.58,1346.36 L1270.35,1353.81 Z" fill="#1e77c0" stroke="#231f20" stroke-width="0.9" stroke-linejoin="miter"/>
<path d="M1271.13,1372.71 L1283.39,1362.43 L1293.67,1374.69 L1281.41,1384.97 Z" fill="#1e77c0" stroke="#231f20" stroke-width="0.9" stroke-linejoin="miter"/>
<path d="M1297.36,1387.81 L1317.84,1384.19 L1309.42,1396.34 Z" fill="#fff" stroke="#231f20" stroke-width="0.9" stroke-linejoin="miter"/>
<path d="M1297.36,1387.81 L1305.78,1375.66 L1317.84,1384.19 Z" fill="#1e77c0" stroke="#231f20" stroke-width="0.9" stroke-linejoin="miter"/>
<path d="M1328.48,1382.33 L1344.47,1382.88 L1343.92,1398.87 L1327.93,1398.32 Z" fill="#1e77c0" stroke="#231f20" stroke-width="0.9" stroke-linejoin="miter"/>
<path d="M954.0,1509.4 L973.5,1507.6 L999.6,1500.9 L1024.8,1496.9 L1053.6,1494.9 L1082.4,1496.0 L1110.0,1503.0 L1138.2,1505.6 L1167.8,1508.5 L1196.0,1511.2 L1223.4,1511.2 L1251.0,1507.9 L1279.9,1503.0 L1307.7,1499.5" fill="none" stroke="#231f20" stroke-width="1.1" />
<path d="M972.01,1497.00 L975.61,1503.63 L983.12,1502.91 L977.93,1508.38 L980.93,1515.30 L974.13,1512.05 L968.48,1517.05 L969.46,1509.57 L962.96,1505.74 L970.38,1504.37 Z" fill="#f7941d" stroke="#231f20" stroke-width="0.9" stroke-linejoin="miter"/>
<circle cx="999.60" cy="1500.90" r="7.8" fill="#fff100" stroke="#231f20" stroke-width="0.9"/>
<circle cx="1024.80" cy="1496.90" r="7.8" fill="#fff100" stroke="#231f20" stroke-width="0.9"/>
<path d="M1043.21,1495.44 L1063.99,1494.36 L1054.15,1505.39 Z" fill="#fff" stroke="#231f20" stroke-width="0.9" stroke-linejoin="miter"/>
<path d="M1043.21,1495.44 L1053.05,1484.41 L1063.99,1494.36 Z" fill="#1e77c0" stroke="#231f20" stroke-width="0.9" stroke-linejoin="miter"/>
<path d="M1076.24,1486.51 L1091.89,1489.84 L1088.56,1505.49 L1072.91,1502.16 Z" fill="#fff100" stroke="#231f20" stroke-width="0.9" stroke-linejoin="miter"/>
<path d="M1098,1490.5 L1095,1490.3 L1093.3,1510.5 L1096.3,1510.8" fill="none" stroke="#231f20" stroke-width="1.0" />
<path d="M1099.60,1503.00 L1120.40,1503.00 L1110.00,1513.50 Z" fill="#fff" stroke="#231f20" stroke-width="0.9" stroke-linejoin="miter"/>
<path d="M1099.60,1503.00 L1110.00,1492.50 L1120.40,1503.00 Z" fill="#1e77c0" stroke="#231f20" stroke-width="0.9" stroke-linejoin="miter"/>
<path d="M1130.63,1497.19 L1146.61,1498.03 L1145.77,1514.01 L1129.79,1513.17 Z" fill="#fff100" stroke="#231f20" stroke-width="0.9" stroke-linejoin="miter"/>
<path d="M1149.5,1497 L1152.3,1497.3 L1150.5,1517.5 L1147.7,1517.2" fill="none" stroke="#231f20" stroke-width="1.0" />
<text x="1156.00" y="1529.50" font-size="19" text-anchor="middle" font-style="italic" fill="#231f20">n</text>
<path d="M1157.40,1508.50 L1178.20,1508.50 L1167.80,1519.00 Z" fill="#a38f83" stroke="#231f20" stroke-width="0.9" stroke-linejoin="miter"/>
<path d="M1157.40,1508.50 L1167.80,1498.00 L1178.20,1508.50 Z" fill="#fff" stroke="#231f20" stroke-width="0.9" stroke-linejoin="miter"/>
<path d="M1188.43,1502.79 L1204.41,1503.63 L1203.57,1519.61 L1187.59,1518.77 Z" fill="#fff100" stroke="#231f20" stroke-width="0.9" stroke-linejoin="miter"/>
<path d="M1213.01,1511.74 L1233.79,1510.66 L1223.95,1521.69 Z" fill="#a38f83" stroke="#231f20" stroke-width="0.9" stroke-linejoin="miter"/>
<path d="M1213.01,1511.74 L1222.85,1500.71 L1233.79,1510.66 Z" fill="#fff" stroke="#231f20" stroke-width="0.9" stroke-linejoin="miter"/>
<path d="M1242.33,1500.63 L1258.27,1499.23 L1259.67,1515.17 L1243.73,1516.57 Z" fill="#fff100" stroke="#231f20" stroke-width="0.9" stroke-linejoin="miter"/>
<path d="M1269.54,1503.91 L1290.26,1502.09 L1280.82,1513.46 Z" fill="#fff" stroke="#231f20" stroke-width="0.9" stroke-linejoin="miter"/>
<path d="M1269.54,1503.91 L1278.98,1492.54 L1290.26,1502.09 Z" fill="#1e77c0" stroke="#231f20" stroke-width="0.9" stroke-linejoin="miter"/>
<path d="M1298.00,1493.67 L1313.53,1489.80 L1317.40,1505.33 L1301.87,1509.20 Z" fill="#fff100" stroke="#231f20" stroke-width="0.9" stroke-linejoin="miter"/>
<text x="1254.10" y="1532.60" font-size="19.6" text-anchor="middle" fill="#231f20">4S</text>
<text x="1312.80" y="1524.50" font-size="19.6" text-anchor="middle" fill="#231f20">4S</text>
<line x1="1063.20" y1="1348.70" x2="1063.20" y2="1363.50" stroke="#231f20" stroke-width="1.6" />
<path d="M1063.20,1369.20 L1056.70,1359.70 Q1063.20,1363.98 1069.70,1359.70 Z" fill="#231f20" />
<line x1="984.00" y1="1425.60" x2="984.00" y2="1404.20" stroke="#231f20" stroke-width="1.6" />
<path d="M984.00,1398.50 L977.50,1408.00 Q984.00,1403.72 990.50,1408.00 Z" fill="#231f20" />
<line x1="1034.30" y1="1421.00" x2="1034.30" y2="1401.20" stroke="#231f20" stroke-width="1.6" />
<path d="M1034.30,1395.50 L1027.80,1405.00 Q1034.30,1400.72 1040.80,1405.00 Z" fill="#231f20" />
<line x1="1153.60" y1="1404.50" x2="1153.60" y2="1390.70" stroke="#231f20" stroke-width="1.6" />
<path d="M1153.60,1385.00 L1147.10,1394.50 Q1153.60,1390.22 1160.10,1394.50 Z" fill="#231f20" />
<line x1="1220.80" y1="1393.30" x2="1220.80" y2="1378.10" stroke="#231f20" stroke-width="1.6" />
<path d="M1220.80,1372.40 L1214.30,1381.90 Q1220.80,1377.62 1227.30,1381.90 Z" fill="#231f20" />
<line x1="987.10" y1="1460.00" x2="987.10" y2="1485.20" stroke="#231f20" stroke-width="1.6" />
<path d="M987.10,1490.90 L980.60,1481.40 Q987.10,1485.68 993.60,1481.40 Z" fill="#231f20" />
<line x1="1037.80" y1="1460.00" x2="1037.80" y2="1479.80" stroke="#231f20" stroke-width="1.6" />
<path d="M1037.80,1485.50 L1031.30,1476.00 Q1037.80,1480.28 1044.30,1476.00 Z" fill="#231f20" />
<line x1="1066.60" y1="1521.70" x2="1066.60" y2="1507.30" stroke="#231f20" stroke-width="1.6" />
<path d="M1066.60,1501.60 L1060.10,1511.10 Q1066.60,1506.82 1073.10,1511.10 Z" fill="#231f20" />
<line x1="1153.80" y1="1553.40" x2="1153.80" y2="1538.00" stroke="#231f20" stroke-width="1.6" />
<path d="M1153.80,1532.30 L1147.30,1541.80 Q1153.80,1537.52 1160.30,1541.80 Z" fill="#231f20" />
<line x1="1254.00" y1="1567.70" x2="1254.00" y2="1545.60" stroke="#231f20" stroke-width="1.6" />
<path d="M1254.00,1539.90 L1247.50,1549.40 Q1254.00,1545.12 1260.50,1549.40 Z" fill="#231f20" />
<line x1="1314.00" y1="1550.00" x2="1314.00" y2="1535.00" stroke="#231f20" stroke-width="1.6" />
<path d="M1314.00,1529.30 L1307.50,1538.80 Q1314.00,1534.52 1320.50,1538.80 Z" fill="#231f20" />
<text x="1069.50" y="1317.10" font-size="19.5" text-anchor="middle" fill="#231f20">EXTL2</text>
<text x="1069.50" y="1341.20" font-size="19.5" text-anchor="middle" fill="#231f20">EXTL3</text>
<text x="964.10" y="1446.70" font-size="19.5" text-anchor="middle" fill="#231f20">B4GALT7</text>
<text x="1063.00" y="1446.70" font-size="19.5" text-anchor="middle" fill="#231f20">B3GAT3</text>
<text x="1157.50" y="1429.20" font-size="19.5" text-anchor="middle" fill="#231f20">EXT1</text>
<text x="1157.50" y="1452.70" font-size="19.5" text-anchor="middle" fill="#231f20">EXT2</text>
<text x="1230.20" y="1414.40" font-size="19.5" text-anchor="middle" fill="#231f20">NDST1</text>
<text x="1230.20" y="1438.50" font-size="19.5" text-anchor="middle" fill="#231f20">NDST2</text>
<text x="1054.80" y="1541.60" font-size="19.5" text-anchor="middle" fill="#231f20">CSGALNACT1</text>
<text x="1054.80" y="1566.30" font-size="19.5" text-anchor="middle" fill="#231f20">CSGALNACT2</text>
<text x="1163.70" y="1573.90" font-size="19.5" text-anchor="middle" fill="#231f20">CHSY1</text>
<text x="1258.50" y="1587.30" font-size="19.5" text-anchor="middle" fill="#231f20">CHST14</text>
<text x="1337.50" y="1567.70" font-size="19.5" text-anchor="middle" fill="#231f20">CHST11-13</text>
<text x="1131.60" y="1598.00" font-size="19.5" fill="#231f20">CHPF</text>
<defs><radialGradient id="glow"><stop offset="0.55" stop-color="#fff200" stop-opacity="0.9"/><stop offset="1" stop-color="#fff200" stop-opacity="0"/></radialGradient></defs>
<path d="M180.50,795.50 C179.05,793.50 178.30,791.15 178.30,789.00 C178.30,786.85 179.05,784.52 180.50,782.60 C181.95,780.68 182.03,779.98 187.00,777.50 C191.97,775.02 201.40,771.22 210.30,767.70 C219.20,764.18 228.35,759.42 240.40,756.40 C252.45,753.38 270.05,750.62 282.60,749.60 C295.15,748.58 303.90,749.17 315.70,750.30 C327.50,751.43 342.10,754.00 353.40,756.40 C364.70,758.80 374.72,761.32 383.50,764.70 C392.28,768.08 400.82,772.43 406.10,776.70 C411.38,780.97 414.18,786.28 415.20,790.30 C416.22,794.32 414.97,797.28 412.20,800.80 C409.43,804.32 402.63,808.38 398.60,811.40 C394.57,814.42 393.02,816.15 388.00,818.90 C382.98,821.65 375.52,825.13 368.50,827.90 C361.48,830.67 354.70,833.87 345.90,835.50 C337.10,837.13 325.75,837.95 315.70,837.70 C305.65,837.45 298.15,836.38 285.60,834.00 C273.05,831.62 254.22,827.68 240.40,823.40 C226.58,819.12 211.60,812.03 202.70,808.30 C193.80,804.57 190.70,803.13 187.00,801.00 C183.30,798.87 181.95,797.50 180.50,795.50 Z" fill="#fde4cb" stroke="#444" stroke-width="1.1" />
<ellipse cx="294.60" cy="788.80" rx="61" ry="26.7" fill="#f9d2a8" stroke="#444" stroke-width="1.1"/>
<line x1="252.60" y1="778.80" x2="260.60" y2="784.80" stroke="#555" stroke-width="1.0" />
<line x1="274.60" y1="776.80" x2="280.60" y2="785.80" stroke="#555" stroke-width="1.0" />
<line x1="289.60" y1="768.80" x2="297.60" y2="773.80" stroke="#555" stroke-width="1.0" />
<line x1="307.60" y1="766.80" x2="314.60" y2="774.80" stroke="#555" stroke-width="1.0" />
<line x1="327.60" y1="773.80" x2="336.60" y2="776.80" stroke="#555" stroke-width="1.0" />
<line x1="266.60" y1="792.80" x2="276.60" y2="790.80" stroke="#555" stroke-width="1.0" />
<line x1="290.60" y1="788.80" x2="300.60" y2="786.80" stroke="#555" stroke-width="1.0" />
<line x1="312.60" y1="786.80" x2="322.60" y2="788.80" stroke="#555" stroke-width="1.0" />
<line x1="256.60" y1="800.80" x2="266.60" y2="803.80" stroke="#555" stroke-width="1.0" />
<line x1="284.60" y1="802.80" x2="294.60" y2="805.80" stroke="#555" stroke-width="1.0" />
<line x1="318.60" y1="800.80" x2="328.60" y2="798.80" stroke="#555" stroke-width="1.0" />
<line x1="298.60" y1="778.80" x2="307.60" y2="781.80" stroke="#555" stroke-width="1.0" />
<path d="M416.80,914.80 C415.35,912.80 414.60,910.45 414.60,908.30 C414.60,906.15 415.35,903.82 416.80,901.90 C418.25,899.98 418.33,899.28 423.30,896.80 C428.27,894.32 437.70,890.52 446.60,887.00 C455.50,883.48 464.65,878.72 476.70,875.70 C488.75,872.68 506.35,869.92 518.90,868.90 C531.45,867.88 540.20,868.47 552.00,869.60 C563.80,870.73 578.40,873.30 589.70,875.70 C601.00,878.10 611.02,880.62 619.80,884.00 C628.58,887.38 637.12,891.73 642.40,896.00 C647.68,900.27 650.48,905.58 651.50,909.60 C652.52,913.62 651.27,916.58 648.50,920.10 C645.73,923.62 638.93,927.68 634.90,930.70 C630.87,933.72 629.32,935.45 624.30,938.20 C619.28,940.95 611.82,944.43 604.80,947.20 C597.78,949.97 591.00,953.17 582.20,954.80 C573.40,956.43 562.05,957.25 552.00,957.00 C541.95,956.75 534.45,955.68 521.90,953.30 C509.35,950.92 490.52,946.98 476.70,942.70 C462.88,938.42 447.90,931.33 439.00,927.60 C430.10,923.87 427.00,922.43 423.30,920.30 C419.60,918.17 418.25,916.80 416.80,914.80 Z" fill="#fde4cb" stroke="#444" stroke-width="1.1" />
<ellipse cx="530.90" cy="908.10" rx="61" ry="26.7" fill="#f9d2a8" stroke="#444" stroke-width="1.1"/>
<line x1="488.90" y1="898.10" x2="496.90" y2="904.10" stroke="#555" stroke-width="1.0" />
<line x1="510.90" y1="896.10" x2="516.90" y2="905.10" stroke="#555" stroke-width="1.0" />
<line x1="525.90" y1="888.10" x2="533.90" y2="893.10" stroke="#555" stroke-width="1.0" />
<line x1="543.90" y1="886.10" x2="550.90" y2="894.10" stroke="#555" stroke-width="1.0" />
<line x1="563.90" y1="893.10" x2="572.90" y2="896.10" stroke="#555" stroke-width="1.0" />
<line x1="502.90" y1="912.10" x2="512.90" y2="910.10" stroke="#555" stroke-width="1.0" />
<line x1="526.90" y1="908.10" x2="536.90" y2="906.10" stroke="#555" stroke-width="1.0" />
<line x1="548.90" y1="906.10" x2="558.90" y2="908.10" stroke="#555" stroke-width="1.0" />
<line x1="492.90" y1="920.10" x2="502.90" y2="923.10" stroke="#555" stroke-width="1.0" />
<line x1="520.90" y1="922.10" x2="530.90" y2="925.10" stroke="#555" stroke-width="1.0" />
<line x1="554.90" y1="920.10" x2="564.90" y2="918.10" stroke="#555" stroke-width="1.0" />
<line x1="534.90" y1="898.10" x2="543.90" y2="901.10" stroke="#555" stroke-width="1.0" />
<ellipse cx="170" cy="712" rx="119" ry="73" fill="none" stroke="#d7263d" stroke-width="1.3" stroke-dasharray="5 3.2"/>
<circle cx="388" cy="837.7" r="16.5" fill="#fde4cb" stroke="#444" stroke-width="0.9"/>
<circle cx="388" cy="837.7" r="13.5" fill="none" stroke="#444" stroke-width="0.7"/>
<circle cx="624.3" cy="957" r="16.5" fill="#fde4cb" stroke="#444" stroke-width="0.9"/>
<circle cx="624.3" cy="957" r="13.5" fill="none" stroke="#444" stroke-width="0.7"/>
<path d="M377,793 Q389,803 381,815 Q371,821 363,817" fill="none" stroke="#444" stroke-width="3.2" />
<path d="M377,793 Q389,803 381,815 Q371,821 363,817" fill="none" stroke="#fde4cb" stroke-width="1.8" />
<path d="M378,797 Q386,804 380,813 Q372,818 365,815" fill="none" stroke="#262f8f" stroke-width="1.0" />
<path d="M613.3,912.3 Q625.3,922.3 617.3,934.3 Q607.3,940.3 599.3,936.3" fill="none" stroke="#444" stroke-width="3.2" />
<path d="M613.3,912.3 Q625.3,922.3 617.3,934.3 Q607.3,940.3 599.3,936.3" fill="none" stroke="#fde4cb" stroke-width="1.8" />
<path d="M614.3,916.3 Q622.3,923.3 616.3,932.3 Q608.3,937.3 601.3,934.3" fill="none" stroke="#39b54a" stroke-width="1.0" />
<circle cx="176.40" cy="765.40" r="15" fill="url(#glow)"/>
<circle cx="176.40" cy="765.40" r="10.8" fill="#39b54a" stroke="#1d5e2a" stroke-width="1" stroke-dasharray="1.2 1.6"/>
<circle cx="176.40" cy="765.40" r="10" fill="#39b54a" stroke="#256b30" stroke-width="0.6"/>
<path d="M182.12,768.70 L176.40,772.00 L170.68,768.70 L170.68,762.10 L176.40,758.80 L182.12,762.10 Z" fill="#8dc63f" stroke="#2e6b30" stroke-width="0.8" stroke-linejoin="miter"/>
<line x1="171.45" y1="768.04" x2="181.35" y2="762.76" stroke="#1f3d1f" stroke-width="1.1" />
<circle cx="214.80" cy="751.10" r="15" fill="url(#glow)"/>
<circle cx="214.80" cy="751.10" r="10.8" fill="#39b54a" stroke="#1d5e2a" stroke-width="1" stroke-dasharray="1.2 1.6"/>
<circle cx="214.80" cy="751.10" r="10" fill="#39b54a" stroke="#256b30" stroke-width="0.6"/>
<path d="M220.52,754.40 L214.80,757.70 L209.08,754.40 L209.08,747.80 L214.80,744.50 L220.52,747.80 Z" fill="#8dc63f" stroke="#2e6b30" stroke-width="0.8" stroke-linejoin="miter"/>
<line x1="209.85" y1="753.74" x2="219.75" y2="748.46" stroke="#1f3d1f" stroke-width="1.1" />
<path d="M232.86,784.70 L226.80,788.20 L220.74,784.70 L220.74,777.70 L226.80,774.20 L232.86,777.70 Z" fill="#8dc63f" stroke="#2e6b30" stroke-width="0.8" stroke-linejoin="miter"/>
<line x1="221.55" y1="784.00" x2="232.05" y2="778.40" stroke="#1f3d1f" stroke-width="1.1" />
<path d="M376.59,808.00 L370.70,811.40 L364.81,808.00 L364.81,801.20 L370.70,797.80 L376.59,801.20 Z" fill="#8dc63f" stroke="#2e6b30" stroke-width="0.8" stroke-linejoin="miter"/>
<line x1="365.60" y1="807.32" x2="375.80" y2="801.88" stroke="#1f3d1f" stroke-width="1.1" />
<circle cx="388.00" cy="837.70" r="10.8" fill="#262f8f" stroke="#111a5a" stroke-width="1" stroke-dasharray="1.2 1.6"/>
<circle cx="388.00" cy="837.70" r="10" fill="#262f8f"/>
<path d="M393.72,841.00 L388.00,844.30 L382.28,841.00 L382.28,834.40 L388.00,831.10 L393.72,834.40 Z" fill="#8dc63f" stroke="#2e6b30" stroke-width="0.8" stroke-linejoin="miter"/>
<line x1="383.05" y1="840.34" x2="392.95" y2="835.06" stroke="#1f3d1f" stroke-width="1.1" />
<circle cx="451.20" cy="869.50" r="15" fill="url(#glow)"/>
<circle cx="451.20" cy="869.50" r="10.8" fill="#262f8f" stroke="#111a5a" stroke-width="1" stroke-dasharray="1.2 1.6"/>
<circle cx="451.20" cy="869.50" r="10" fill="#262f8f"/>
<path d="M456.92,872.80 L451.20,876.10 L445.48,872.80 L445.48,866.20 L451.20,862.90 L456.92,866.20 Z" fill="#8dc63f" stroke="#2e6b30" stroke-width="0.8" stroke-linejoin="miter"/>
<line x1="446.25" y1="872.14" x2="456.15" y2="866.86" stroke="#1f3d1f" stroke-width="1.1" />
<circle cx="405.50" cy="885.20" r="15" fill="url(#glow)"/>
<circle cx="405.50" cy="885.20" r="10.8" fill="#262f8f" stroke="#111a5a" stroke-width="1" stroke-dasharray="1.2 1.6"/>
<circle cx="405.50" cy="885.20" r="10" fill="#262f8f"/>
<path d="M411.22,888.50 L405.50,891.80 L399.78,888.50 L399.78,881.90 L405.50,878.60 L411.22,881.90 Z" fill="#8dc63f" stroke="#2e6b30" stroke-width="0.8" stroke-linejoin="miter"/>
<line x1="400.55" y1="887.84" x2="410.45" y2="882.56" stroke="#1f3d1f" stroke-width="1.1" />
<path d="M468.96,904.30 L462.90,907.80 L456.84,904.30 L456.84,897.30 L462.90,893.80 L468.96,897.30 Z" fill="#8dc63f" stroke="#2e6b30" stroke-width="0.8" stroke-linejoin="miter"/>
<line x1="457.65" y1="903.60" x2="468.15" y2="898.00" stroke="#1f3d1f" stroke-width="1.1" />
<path d="M612.49,926.80 L606.60,930.20 L600.71,926.80 L600.71,920.00 L606.60,916.60 L612.49,920.00 Z" fill="#8dc63f" stroke="#2e6b30" stroke-width="0.8" stroke-linejoin="miter"/>
<line x1="601.50" y1="926.12" x2="611.70" y2="920.68" stroke="#1f3d1f" stroke-width="1.1" />
<circle cx="624.30" cy="957.00" r="10.8" fill="#39b54a" stroke="#1d5e2a" stroke-width="1" stroke-dasharray="1.2 1.6"/>
<circle cx="624.30" cy="957.00" r="10" fill="#39b54a" stroke="#256b30" stroke-width="0.6"/>
<path d="M630.02,960.30 L624.30,963.60 L618.58,960.30 L618.58,953.70 L624.30,950.40 L630.02,953.70 Z" fill="#8dc63f" stroke="#2e6b30" stroke-width="0.8" stroke-linejoin="miter"/>
<line x1="619.35" y1="959.64" x2="629.25" y2="954.36" stroke="#1f3d1f" stroke-width="1.1" />
<circle cx="671.10" cy="982.80" r="15" fill="url(#glow)"/>
<circle cx="671.10" cy="982.80" r="10.8" fill="#39b54a" stroke="#1d5e2a" stroke-width="1" stroke-dasharray="1.2 1.6"/>
<circle cx="671.10" cy="982.80" r="10" fill="#39b54a" stroke="#256b30" stroke-width="0.6"/>
<path d="M676.82,986.10 L671.10,989.40 L665.38,986.10 L665.38,979.50 L671.10,976.20 L676.82,979.50 Z" fill="#8dc63f" stroke="#2e6b30" stroke-width="0.8" stroke-linejoin="miter"/>
<line x1="666.15" y1="985.44" x2="676.05" y2="980.16" stroke="#1f3d1f" stroke-width="1.1" />
<circle cx="63.70" cy="1012.90" r="15" fill="url(#glow)"/>
<circle cx="63.70" cy="1012.90" r="10.8" fill="#39b54a" stroke="#1d5e2a" stroke-width="1" stroke-dasharray="1.2 1.6"/>
<circle cx="63.70" cy="1012.90" r="10" fill="#39b54a" stroke="#256b30" stroke-width="0.6"/>
<path d="M69.42,1016.20 L63.70,1019.50 L57.98,1016.20 L57.98,1009.60 L63.70,1006.30 L69.42,1009.60 Z" fill="#8dc63f" stroke="#2e6b30" stroke-width="0.8" stroke-linejoin="miter"/>
<line x1="58.75" y1="1015.54" x2="68.65" y2="1010.26" stroke="#1f3d1f" stroke-width="1.1" />
<circle cx="63.70" cy="1064.80" r="15" fill="url(#glow)"/>
<circle cx="63.70" cy="1064.80" r="10.8" fill="#262f8f" stroke="#111a5a" stroke-width="1" stroke-dasharray="1.2 1.6"/>
<circle cx="63.70" cy="1064.80" r="10" fill="#262f8f"/>
<path d="M69.42,1068.10 L63.70,1071.40 L57.98,1068.10 L57.98,1061.50 L63.70,1058.20 L69.42,1061.50 Z" fill="#8dc63f" stroke="#2e6b30" stroke-width="0.8" stroke-linejoin="miter"/>
<line x1="58.75" y1="1067.44" x2="68.65" y2="1062.16" stroke="#1f3d1f" stroke-width="1.1" />
<line x1="138.70" y1="724.20" x2="153.27" y2="749.12" stroke="#3a3a3a" stroke-width="1.6" />
<path d="M156.30,754.30 L146.07,748.70 Q153.52,749.55 156.43,742.64 Z" fill="#3a3a3a" />
<line x1="244.00" y1="710.50" x2="236.12" y2="736.85" stroke="#3a3a3a" stroke-width="1.6" />
<path d="M234.40,742.60 L231.52,731.30 Q235.98,737.33 243.01,734.74 Z" fill="#3a3a3a" />
<line x1="389.50" y1="748.40" x2="380.40" y2="783.69" stroke="#3a3a3a" stroke-width="1.6" />
<path d="M378.90,789.50 L375.59,778.32 Q380.27,784.17 387.21,781.32 Z" fill="#3a3a3a" />
<line x1="447.30" y1="820.70" x2="417.42" y2="836.23" stroke="#3a3a3a" stroke-width="1.6" />
<path d="M412.10,839.00 L418.20,829.06 Q416.98,836.46 423.74,839.71 Z" fill="#3a3a3a" />
<line x1="502.00" y1="840.20" x2="477.78" y2="855.41" stroke="#3a3a3a" stroke-width="1.6" />
<path d="M472.70,858.60 L477.98,848.20 Q477.36,855.68 484.36,858.36 Z" fill="#3a3a3a" />
<line x1="375.00" y1="936.70" x2="393.10" y2="910.44" stroke="#3a3a3a" stroke-width="1.6" />
<path d="M396.50,905.50 L395.77,917.14 Q393.38,910.03 385.89,910.33 Z" fill="#3a3a3a" />
<text x="59.40" y="716.00" font-size="24.5" fill="#231f20">Attachment</text>
<text x="216.00" y="702.00" font-size="24.5" fill="#231f20">Entry</text>
<text x="353.50" y="740.60" font-size="24.5" fill="#231f20">Assembly</text>
<text x="427.70" y="814.80" font-size="24.5" fill="#231f20">Exit</text>
<text x="510.50" y="837.50" font-size="24.5" fill="#231f20">Entry</text>
<text x="252.70" y="866.80" font-size="24.5" text-anchor="middle" fill="#231f20">Glycogene KO</text>
<text x="252.50" y="895.00" font-size="24.5" text-anchor="middle" fill="#231f20">keratinocyte</text>
<text x="308.60" y="960.00" font-size="24.5" fill="#231f20">Attachment</text>
<text x="535.90" y="988.00" font-size="24.5" text-anchor="middle" fill="#231f20">Wild Type</text>
<text x="535.80" y="1017.00" font-size="24.5" text-anchor="middle" fill="#231f20">keratinocyte</text>
<text x="90.60" y="1021.00" font-size="24.5" fill="#231f20">Wild Type HSV-1</text>
<text x="90.60" y="1072.70" font-size="24.5" fill="#231f20">Glycoengineered HSV-1</text>
</svg></body></html>
